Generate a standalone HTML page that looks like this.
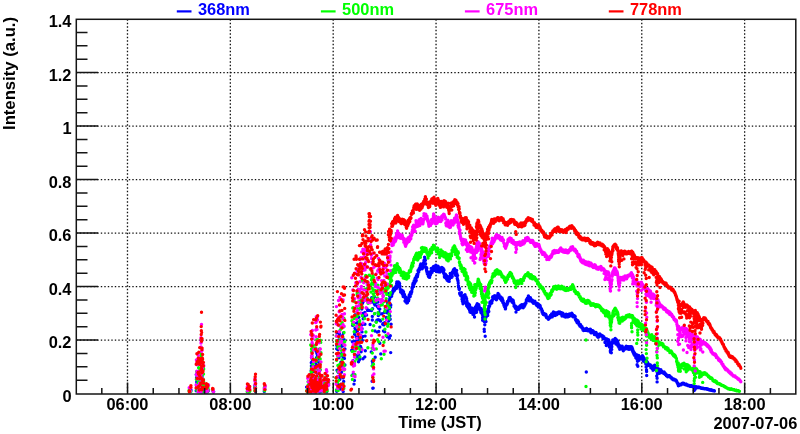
<!DOCTYPE html>
<html><head><meta charset="utf-8"><title>Intensity vs Time (JST) 2007-07-06</title>
<style>html,body{margin:0;padding:0;background:#fff}svg{display:block;will-change:transform}</style></head>
<body>
<svg width="800" height="434" viewBox="0 0 800 434">
<rect width="800" height="434" fill="#fff"/>
<path d="M127.48 19.30V393.50M230.34 19.30V393.50M333.19 19.30V393.50M436.05 19.30V393.50M538.91 19.30V393.50M641.76 19.30V393.50M744.62 19.30V393.50" stroke="#111" stroke-width="1.3" stroke-dasharray="1.4 2.1" fill="none"/>
<path d="M76.30 340.12H796.00M76.30 286.62H796.00M76.30 233.12H796.00M76.30 179.62H796.00M76.30 126.12H796.00M76.30 72.62H796.00" stroke="#111" stroke-width="1.3" stroke-dasharray="1.4 2.1" fill="none"/>
<path d="M391.6 296.3h.01M391.8 294.2h.01M392.0 292.7h.01M392.2 294.0h.01M392.4 293.0h.01M392.6 292.9h.01M392.8 290.8h.01M393.0 291.9h.01M393.2 291.2h.01M393.4 289.0h.01M393.6 290.6h.01M393.8 288.1h.01M394.0 288.4h.01M394.2 290.7h.01M394.4 290.3h.01M394.6 290.1h.01M394.8 288.0h.01M395.0 288.1h.01M395.2 287.7h.01M395.4 287.4h.01M395.6 287.2h.01M395.8 286.8h.01M396.0 286.0h.01M396.2 288.5h.01M396.4 288.4h.01M396.6 283.6h.01M396.8 281.9h.01M397.0 284.0h.01M397.2 286.4h.01M397.4 285.5h.01M397.6 287.0h.01M397.8 286.1h.01M398.0 286.4h.01M398.2 286.7h.01M398.4 282.0h.01M398.6 285.5h.01M398.8 285.3h.01M399.0 283.4h.01M399.2 282.7h.01M399.4 284.9h.01M399.6 283.6h.01M399.8 286.9h.01M400.0 286.3h.01M400.2 289.4h.01M400.4 289.6h.01M400.6 292.0h.01M400.8 290.7h.01M401.0 289.6h.01M401.2 290.9h.01M401.4 289.9h.01M401.6 291.0h.01M401.8 293.1h.01M402.0 290.6h.01M402.2 292.3h.01M402.4 294.0h.01M402.6 294.4h.01M402.8 293.2h.01M403.0 291.0h.01M403.2 296.5h.01M403.4 295.4h.01M403.6 292.1h.01M403.8 295.6h.01M404.0 294.6h.01M404.2 295.0h.01M404.4 294.5h.01M404.6 295.8h.01M404.8 296.5h.01M405.0 300.9h.01M405.2 298.1h.01M405.4 298.4h.01M405.6 300.5h.01M405.8 301.9h.01M406.0 297.2h.01M406.2 298.0h.01M406.4 301.0h.01M406.6 299.4h.01M406.8 303.0h.01M407.0 301.0h.01M407.2 301.6h.01M407.4 302.7h.01M407.6 300.0h.01M407.8 298.4h.01M408.0 299.4h.01M408.2 301.0h.01M408.4 300.2h.01M408.6 300.8h.01M408.8 299.5h.01M409.0 297.6h.01M409.2 295.4h.01M409.4 294.6h.01M409.6 295.0h.01M409.8 296.3h.01M410.0 296.8h.01M410.2 296.5h.01M410.4 292.7h.01M410.6 292.2h.01M410.8 293.3h.01M411.0 293.9h.01M411.2 292.3h.01M411.4 291.7h.01M411.6 292.2h.01M411.8 291.0h.01M412.0 287.9h.01M412.2 288.8h.01M412.4 287.8h.01M412.6 286.4h.01M412.8 284.8h.01M413.0 283.4h.01M413.2 286.2h.01M413.4 285.4h.01M413.6 286.5h.01M413.8 284.5h.01M414.0 281.7h.01M414.2 280.6h.01M414.4 282.2h.01M414.6 283.3h.01M414.8 281.0h.01M415.0 278.7h.01M415.2 278.3h.01M415.4 280.2h.01M415.6 277.6h.01M415.8 281.2h.01M416.0 278.8h.01M416.2 280.6h.01M416.4 276.1h.01M416.6 277.1h.01M416.8 276.1h.01M417.0 274.5h.01M417.2 276.1h.01M417.4 276.8h.01M417.6 275.4h.01M417.8 274.4h.01M418.0 270.4h.01M418.2 271.6h.01M418.4 272.4h.01M418.6 272.0h.01M418.8 271.8h.01M419.0 269.0h.01M419.2 268.6h.01M419.4 269.1h.01M419.6 267.9h.01M419.8 269.6h.01M420.0 269.3h.01M420.2 265.9h.01M420.4 268.1h.01M420.6 264.6h.01M420.8 263.9h.01M421.0 264.2h.01M421.2 266.5h.01M421.4 267.6h.01M421.6 267.4h.01M421.8 266.2h.01M422.0 268.3h.01M422.2 268.8h.01M422.4 267.5h.01M422.6 267.2h.01M422.8 266.0h.01M423.0 265.8h.01M423.2 267.2h.01M423.4 264.4h.01M423.6 262.6h.01M423.8 263.1h.01M424.0 260.4h.01M424.2 263.1h.01M424.4 259.7h.01M424.6 257.1h.01M424.8 259.0h.01M425.0 259.1h.01M425.2 260.6h.01M425.4 260.2h.01M425.6 263.8h.01M425.8 267.0h.01M426.0 267.7h.01M426.2 267.1h.01M426.4 269.5h.01M426.6 270.8h.01M426.8 268.3h.01M427.0 272.4h.01M427.2 271.7h.01M427.4 274.0h.01M427.6 272.8h.01M427.8 272.2h.01M428.0 272.0h.01M428.2 273.4h.01M428.4 276.4h.01M428.6 275.0h.01M428.8 275.9h.01M429.0 274.8h.01M429.2 277.2h.01M429.4 275.9h.01M429.6 277.4h.01M429.8 273.8h.01M430.0 275.1h.01M430.2 275.3h.01M430.4 272.9h.01M430.6 274.5h.01M430.8 271.5h.01M431.0 272.5h.01M431.2 268.4h.01M431.4 268.8h.01M431.6 270.5h.01M431.8 269.8h.01M432.0 272.4h.01M432.2 271.1h.01M432.4 269.0h.01M432.6 269.3h.01M432.8 268.1h.01M433.0 270.7h.01M433.2 267.1h.01M433.4 270.5h.01M433.6 266.5h.01M433.8 268.5h.01M434.0 267.9h.01M434.2 269.5h.01M434.4 267.9h.01M434.6 269.5h.01M434.8 269.3h.01M435.0 269.2h.01M435.2 270.2h.01M435.4 269.1h.01M435.6 267.6h.01M435.8 265.3h.01M436.0 268.1h.01M436.2 268.1h.01M436.4 271.6h.01M436.6 271.2h.01M436.8 268.9h.01M437.0 268.7h.01M437.2 268.2h.01M437.4 268.8h.01M437.6 268.0h.01M437.8 268.3h.01M438.0 266.1h.01M438.2 267.4h.01M438.4 269.8h.01M438.6 271.9h.01M438.8 270.4h.01M439.0 267.4h.01M439.2 270.7h.01M439.4 269.7h.01M439.6 270.8h.01M439.8 269.0h.01M440.0 272.1h.01M440.2 270.3h.01M440.4 271.5h.01M440.6 269.4h.01M440.8 271.0h.01M441.0 270.3h.01M441.2 268.2h.01M441.4 268.7h.01M441.6 270.0h.01M441.8 267.5h.01M442.0 270.4h.01M442.2 270.9h.01M442.4 270.0h.01M442.6 269.4h.01M442.8 271.2h.01M443.0 268.2h.01M443.2 270.3h.01M443.4 271.9h.01M443.6 273.1h.01M443.8 269.5h.01M444.0 270.1h.01M444.2 274.5h.01M444.4 276.8h.01M444.6 274.0h.01M444.8 277.4h.01M445.0 275.4h.01M445.2 274.7h.01M445.4 274.2h.01M445.6 276.2h.01M445.8 275.8h.01M446.0 276.0h.01M446.2 278.6h.01M446.4 278.8h.01M446.6 275.8h.01M446.8 279.4h.01M447.0 276.9h.01M447.2 280.3h.01M447.4 278.7h.01M447.6 277.5h.01M447.8 276.7h.01M448.0 277.9h.01M448.2 281.0h.01M448.4 279.3h.01M448.6 278.1h.01M448.8 281.3h.01M449.0 281.2h.01M449.2 281.4h.01M449.4 277.8h.01M449.6 278.7h.01M449.8 277.2h.01M450.0 276.3h.01M450.2 273.4h.01M450.4 275.8h.01M450.6 274.8h.01M450.8 276.9h.01M451.0 275.5h.01M451.2 276.0h.01M451.4 274.3h.01M451.6 273.7h.01M451.8 277.2h.01M452.0 276.2h.01M452.2 276.4h.01M452.4 272.1h.01M452.6 271.8h.01M452.8 272.0h.01M453.0 272.4h.01M453.2 272.3h.01M453.4 270.0h.01M453.6 269.6h.01M453.8 269.5h.01M454.0 273.2h.01M454.2 269.9h.01M454.4 271.5h.01M454.6 268.7h.01M454.8 269.5h.01M455.0 270.6h.01M455.2 274.6h.01M455.4 269.9h.01M455.6 275.3h.01M455.8 273.4h.01M456.0 272.6h.01M456.2 274.6h.01M456.4 275.5h.01M456.6 270.5h.01M456.8 273.4h.01M457.0 275.6h.01M457.2 278.2h.01M457.4 279.0h.01M457.6 275.4h.01M457.8 280.2h.01M458.0 281.0h.01M458.2 283.1h.01M458.4 285.7h.01M458.6 287.2h.01M458.8 287.6h.01M459.0 289.0h.01M459.2 289.6h.01M459.4 288.4h.01M459.6 293.1h.01M459.8 293.9h.01M460.0 293.0h.01M460.2 293.3h.01M460.4 295.2h.01M460.6 294.8h.01M460.8 295.4h.01M461.0 295.5h.01M461.2 294.9h.01M461.4 292.8h.01M461.6 296.2h.01M461.8 296.3h.01M462.0 299.2h.01M462.2 297.1h.01M462.4 301.4h.01M462.6 298.5h.01M462.8 299.0h.01M463.0 303.7h.01M463.2 299.4h.01M463.4 300.0h.01M463.6 297.1h.01M463.8 295.9h.01M464.0 295.4h.01M464.2 298.0h.01M464.4 302.5h.01M464.6 302.4h.01M464.8 301.7h.01M465.0 294.7h.01M465.2 297.6h.01M465.4 296.8h.01M465.6 297.4h.01M465.8 296.7h.01M466.0 297.1h.01M466.2 298.0h.01M466.4 301.8h.01M466.6 298.8h.01M466.8 300.7h.01M467.0 301.2h.01M467.2 302.6h.01M467.4 305.7h.01M467.6 306.3h.01M467.8 303.8h.01M468.0 305.5h.01M468.2 303.8h.01M468.4 308.3h.01M468.6 305.9h.01M468.8 306.5h.01M469.0 304.2h.01M469.2 306.2h.01M469.4 308.2h.01M469.6 305.3h.01M469.8 309.8h.01M470.0 311.9h.01M470.2 307.2h.01M470.4 311.2h.01M470.6 312.4h.01M470.8 309.5h.01M471.0 310.2h.01M471.2 312.0h.01M471.4 311.3h.01M471.6 311.5h.01M471.8 308.6h.01M472.0 310.1h.01M472.2 308.3h.01M472.4 309.5h.01M472.6 310.4h.01M472.8 311.7h.01M473.0 314.4h.01M473.2 311.6h.01M473.4 311.0h.01M473.6 313.6h.01M473.8 312.6h.01M474.0 313.4h.01M474.2 313.3h.01M474.4 313.0h.01M474.6 309.1h.01M474.8 310.9h.01M475.0 308.9h.01M475.2 308.0h.01M475.4 306.9h.01M475.6 309.1h.01M475.8 309.4h.01M476.0 307.1h.01M476.2 307.6h.01M476.4 310.5h.01M476.6 305.2h.01M476.8 305.9h.01M477.0 306.3h.01M477.2 303.8h.01M477.4 304.0h.01M477.6 307.8h.01M477.8 305.0h.01M478.0 304.8h.01M478.2 306.1h.01M478.4 306.0h.01M478.6 306.1h.01M478.8 304.7h.01M479.0 306.0h.01M479.2 307.7h.01M479.4 307.4h.01M479.6 309.5h.01M479.8 308.0h.01M480.0 310.2h.01M480.2 309.8h.01M480.4 309.5h.01M480.6 310.3h.01M480.8 308.7h.01M481.0 310.4h.01M481.2 308.8h.01M481.4 312.2h.01M481.6 310.1h.01M481.8 312.1h.01M482.0 313.6h.01M482.2 311.9h.01M482.4 311.7h.01M482.6 314.9h.01M482.8 312.3h.01M483.0 315.6h.01M483.2 312.8h.01M483.4 315.6h.01M483.6 313.5h.01M483.8 315.5h.01M484.0 314.5h.01M484.2 315.7h.01M484.4 315.8h.01M484.6 317.1h.01M484.8 315.6h.01M485.0 314.7h.01M485.2 315.8h.01M485.4 313.3h.01M485.6 316.4h.01M485.8 314.7h.01M486.0 315.0h.01M486.2 312.3h.01M486.4 312.9h.01M486.6 311.0h.01M486.8 311.8h.01M487.0 311.8h.01M487.2 312.8h.01M487.4 313.2h.01M487.6 313.1h.01M487.8 310.3h.01M488.0 311.6h.01M488.2 310.4h.01M488.4 308.8h.01M488.6 308.2h.01M488.8 306.1h.01M489.0 306.2h.01M489.2 306.9h.01M489.4 305.7h.01M489.6 305.9h.01M489.8 302.9h.01M490.0 301.9h.01M490.2 302.7h.01M490.4 303.5h.01M490.6 302.2h.01M490.8 303.8h.01M491.0 303.4h.01M491.2 302.0h.01M491.4 301.4h.01M491.6 303.0h.01M491.8 303.0h.01M492.0 300.1h.01M492.2 300.8h.01M492.4 299.7h.01M492.6 297.1h.01M492.8 296.6h.01M493.0 297.2h.01M493.2 298.6h.01M493.4 296.5h.01M493.6 297.0h.01M493.8 298.0h.01M494.0 296.6h.01M494.2 296.4h.01M494.4 296.3h.01M494.6 298.6h.01M494.8 295.6h.01M495.0 296.5h.01M495.2 296.2h.01M495.4 296.0h.01M495.6 297.2h.01M495.8 297.2h.01M496.0 298.1h.01M496.2 298.3h.01M496.4 299.7h.01M496.6 297.8h.01M496.8 296.3h.01M497.0 296.2h.01M497.2 298.0h.01M497.4 296.2h.01M497.6 295.9h.01M497.8 294.7h.01M498.0 293.4h.01M498.2 294.1h.01M498.4 294.8h.01M498.6 295.9h.01M498.8 295.7h.01M499.0 294.7h.01M499.2 295.9h.01M499.4 296.7h.01M499.6 297.6h.01M499.8 297.7h.01M500.0 297.0h.01M500.2 298.7h.01M500.4 296.7h.01M500.6 298.7h.01M500.8 299.0h.01M501.0 297.9h.01M501.2 299.8h.01M501.4 299.3h.01M501.6 300.5h.01M501.8 299.5h.01M502.0 297.9h.01M502.2 300.7h.01M502.4 299.1h.01M502.6 301.3h.01M502.8 302.6h.01M503.0 300.6h.01M503.2 302.3h.01M503.4 303.4h.01M503.6 303.1h.01M503.8 303.4h.01M504.0 305.4h.01M504.2 305.8h.01M504.4 306.5h.01M504.6 306.3h.01M504.8 306.3h.01M505.0 306.5h.01M505.2 307.7h.01M505.4 308.9h.01M505.6 307.9h.01M505.8 305.1h.01M506.0 305.5h.01M506.2 304.4h.01M506.4 305.2h.01M506.6 304.0h.01M506.8 303.9h.01M507.0 303.4h.01M507.2 304.3h.01M507.4 301.4h.01M507.6 301.5h.01M507.8 302.5h.01M508.0 301.1h.01M508.2 301.5h.01M508.4 300.5h.01M508.6 300.6h.01M508.8 299.6h.01M509.0 298.6h.01M509.2 297.7h.01M509.4 300.3h.01M509.6 298.2h.01M509.8 300.1h.01M510.0 297.4h.01M510.2 297.6h.01M510.4 298.9h.01M510.6 298.5h.01M510.8 298.7h.01M511.0 300.6h.01M511.2 299.5h.01M511.4 300.5h.01M511.6 300.3h.01M511.8 300.0h.01M512.0 302.0h.01M512.2 302.3h.01M512.4 301.3h.01M512.6 299.9h.01M512.8 301.7h.01M513.0 300.9h.01M513.2 300.5h.01M513.4 302.1h.01M513.6 302.5h.01M513.8 303.7h.01M514.0 305.9h.01M514.2 305.3h.01M514.4 305.7h.01M514.6 306.8h.01M514.8 305.7h.01M515.0 305.9h.01M515.2 307.7h.01M515.4 306.0h.01M515.6 308.1h.01M515.8 308.7h.01M516.0 308.3h.01M516.2 309.0h.01M516.4 308.0h.01M516.6 309.2h.01M516.8 307.9h.01M517.0 307.8h.01M517.2 307.5h.01M517.4 308.8h.01M517.6 309.0h.01M517.8 309.3h.01M518.0 308.4h.01M518.2 308.1h.01M518.4 309.4h.01M518.6 307.0h.01M518.8 309.1h.01M519.0 308.5h.01M519.2 306.8h.01M519.4 308.2h.01M519.6 307.8h.01M519.8 307.4h.01M520.0 305.9h.01M520.2 308.1h.01M520.4 305.9h.01M520.6 305.8h.01M520.8 305.3h.01M521.0 305.4h.01M521.2 305.3h.01M521.4 305.5h.01M521.6 304.9h.01M521.8 304.8h.01M522.0 305.7h.01M522.2 304.8h.01M522.4 306.3h.01M522.6 305.9h.01M522.8 305.5h.01M523.0 306.8h.01M523.2 307.8h.01M523.4 306.8h.01M523.6 305.7h.01M523.8 305.6h.01M524.0 305.7h.01M524.2 306.4h.01M524.4 305.5h.01M524.6 304.0h.01M524.8 304.0h.01M525.0 305.0h.01M525.2 304.2h.01M525.4 304.1h.01M525.6 303.2h.01M525.8 303.4h.01M526.0 303.0h.01M526.2 301.3h.01M526.4 299.6h.01M526.6 299.6h.01M526.8 300.2h.01M527.0 300.1h.01M527.2 298.8h.01M527.4 298.2h.01M527.6 298.0h.01M527.8 298.0h.01M528.0 298.2h.01M528.2 298.3h.01M528.4 295.9h.01M528.6 297.5h.01M528.8 299.2h.01M529.0 299.2h.01M529.2 300.0h.01M529.4 300.9h.01M529.6 300.2h.01M529.8 299.5h.01M530.0 297.6h.01M530.2 299.7h.01M530.4 297.7h.01M530.6 300.6h.01M530.8 298.9h.01M531.0 299.5h.01M531.2 300.3h.01M531.4 301.0h.01M531.6 299.7h.01M531.8 301.3h.01M532.0 300.9h.01M532.2 301.9h.01M532.4 300.1h.01M532.6 301.9h.01M532.8 301.6h.01M533.0 301.1h.01M533.2 301.0h.01M533.4 303.3h.01M533.6 303.1h.01M533.8 302.0h.01M534.0 303.0h.01M534.2 301.9h.01M534.4 302.4h.01M534.6 301.9h.01M534.8 301.1h.01M535.0 303.1h.01M535.2 302.2h.01M535.4 303.3h.01M535.6 303.1h.01M535.8 303.0h.01M536.0 303.5h.01M536.2 304.8h.01M536.4 304.2h.01M536.6 305.3h.01M536.8 303.5h.01M537.0 305.6h.01M537.2 303.6h.01M537.4 303.5h.01M537.6 304.3h.01M537.8 305.0h.01M538.0 306.0h.01M538.2 307.1h.01M538.4 305.9h.01M538.6 305.9h.01M538.8 305.0h.01M539.0 305.4h.01M539.2 304.9h.01M539.4 306.3h.01M539.6 305.2h.01M539.8 305.3h.01M540.0 306.4h.01M540.2 306.0h.01M540.4 307.2h.01M540.6 308.3h.01M540.8 308.5h.01M541.0 309.2h.01M541.2 308.6h.01M541.4 308.6h.01M541.6 309.5h.01M541.8 309.9h.01M542.0 311.3h.01M542.2 312.4h.01M542.4 311.0h.01M542.6 312.8h.01M542.8 313.8h.01M543.0 313.8h.01M543.2 312.9h.01M543.4 314.5h.01M543.6 313.2h.01M543.8 313.8h.01M544.0 314.3h.01M544.2 313.9h.01M544.4 314.9h.01M544.6 314.2h.01M544.8 314.5h.01M545.0 315.0h.01M545.2 314.2h.01M545.4 315.3h.01M545.6 314.2h.01M545.8 316.0h.01M546.0 314.8h.01M546.2 315.6h.01M546.4 317.4h.01M546.6 317.1h.01M546.8 317.7h.01M547.0 317.3h.01M547.2 317.8h.01M547.4 317.8h.01M547.6 318.3h.01M547.8 318.1h.01M548.0 317.7h.01M548.2 317.7h.01M548.4 319.3h.01M548.6 318.7h.01M548.8 318.8h.01M549.0 317.9h.01M549.2 317.8h.01M549.4 317.8h.01M549.6 316.7h.01M549.8 317.5h.01M550.0 317.8h.01M550.2 317.0h.01M550.4 315.5h.01M550.6 316.1h.01M550.8 317.1h.01M551.0 315.7h.01M551.2 315.8h.01M551.4 314.6h.01M551.6 313.9h.01M551.8 315.1h.01M552.0 314.4h.01M552.2 316.9h.01M552.4 316.3h.01M552.6 315.1h.01M552.8 314.3h.01M553.0 315.2h.01M553.2 314.6h.01M553.4 311.9h.01M553.6 312.3h.01M553.8 313.3h.01M554.0 312.9h.01M554.2 312.5h.01M554.4 315.1h.01M554.6 313.6h.01M554.8 313.4h.01M555.0 315.6h.01M555.2 314.3h.01M555.4 314.7h.01M555.6 313.0h.01M555.8 314.7h.01M556.0 313.8h.01M556.2 314.0h.01M556.4 314.4h.01M556.6 314.7h.01M556.8 312.8h.01M557.0 314.6h.01M557.2 313.0h.01M557.4 312.7h.01M557.6 313.8h.01M557.8 313.1h.01M558.0 312.2h.01M558.2 313.5h.01M558.4 313.1h.01M558.6 312.0h.01M558.8 312.3h.01M559.0 312.8h.01M559.2 312.2h.01M559.4 313.2h.01M559.6 313.0h.01M559.8 312.0h.01M560.0 313.1h.01M560.2 313.4h.01M560.4 312.7h.01M560.6 313.4h.01M560.8 314.1h.01M561.0 313.7h.01M561.2 313.6h.01M561.4 312.7h.01M561.6 314.1h.01M561.8 314.5h.01M562.0 316.1h.01M562.2 315.5h.01M562.4 315.8h.01M562.6 314.5h.01M562.8 313.2h.01M563.0 313.5h.01M563.2 314.4h.01M563.4 315.7h.01M563.6 314.4h.01M563.8 314.6h.01M564.0 315.3h.01M564.2 316.4h.01M564.4 316.4h.01M564.6 315.6h.01M564.8 314.9h.01M565.0 316.9h.01M565.2 316.5h.01M565.4 315.5h.01M565.6 317.1h.01M565.8 316.2h.01M566.0 315.8h.01M566.2 314.2h.01M566.4 314.6h.01M566.6 315.0h.01M566.8 315.0h.01M567.0 315.8h.01M567.2 315.2h.01M567.4 314.7h.01M567.6 315.5h.01M567.8 316.9h.01M568.0 316.1h.01M568.2 314.5h.01M568.4 315.4h.01M568.6 315.6h.01M568.8 314.2h.01M569.0 314.5h.01M569.2 316.4h.01M569.4 314.0h.01M569.6 315.4h.01M569.8 315.2h.01M570.0 315.0h.01M570.2 315.5h.01M570.4 314.5h.01M570.6 314.5h.01M570.8 313.8h.01M571.0 313.8h.01M571.2 313.6h.01M571.4 313.4h.01M571.6 314.5h.01M571.8 313.3h.01M572.0 314.5h.01M572.2 316.0h.01M572.4 314.8h.01M572.6 314.5h.01M572.8 316.5h.01M573.0 316.3h.01M573.2 316.9h.01M573.4 316.5h.01M573.6 315.9h.01M573.8 315.5h.01M574.0 315.8h.01M574.2 316.8h.01M574.4 315.6h.01M574.6 316.7h.01M574.8 316.9h.01M575.0 317.4h.01M575.2 316.5h.01M575.4 319.5h.01M575.6 320.0h.01M575.8 319.3h.01M576.0 319.5h.01M576.2 319.6h.01M576.4 320.3h.01M576.6 321.6h.01M576.8 322.0h.01M577.0 320.7h.01M577.2 322.7h.01M577.4 320.5h.01M577.6 321.2h.01M577.8 320.7h.01M578.0 321.6h.01M578.2 321.8h.01M578.4 322.7h.01M578.6 321.9h.01M578.8 323.7h.01M579.0 323.7h.01M579.2 324.9h.01M579.4 325.0h.01M579.6 325.3h.01M579.8 326.1h.01M580.0 325.5h.01M580.2 324.8h.01M580.4 326.2h.01M580.6 324.7h.01M580.8 326.7h.01M581.0 326.6h.01M581.2 326.9h.01M581.4 326.4h.01M581.6 326.5h.01M581.8 327.8h.01M582.0 326.8h.01M582.2 327.6h.01M582.4 328.0h.01M582.6 328.2h.01M582.8 329.4h.01M583.0 330.0h.01M583.2 328.7h.01M583.4 330.0h.01M583.6 330.5h.01M583.8 329.7h.01M584.0 329.9h.01M584.2 328.9h.01M584.4 329.4h.01M584.6 329.3h.01M584.8 329.1h.01M585.0 329.5h.01M585.2 329.4h.01M585.4 330.4h.01M585.6 330.1h.01M585.8 328.7h.01M586.0 329.2h.01M586.2 328.7h.01M586.4 328.5h.01M586.6 328.4h.01M586.8 329.2h.01M587.0 330.0h.01M587.2 330.3h.01M587.4 329.8h.01M587.6 330.8h.01M587.8 329.9h.01M588.0 330.3h.01M588.2 330.9h.01M588.4 329.8h.01M588.6 329.6h.01M588.8 329.9h.01M589.0 330.5h.01M589.2 329.4h.01M589.4 329.6h.01M589.6 330.5h.01M589.8 330.6h.01M590.0 330.7h.01M590.2 329.7h.01M590.4 329.3h.01M590.6 330.0h.01M590.8 332.5h.01M591.0 331.9h.01M591.2 332.9h.01M591.4 330.5h.01M591.6 331.6h.01M591.8 330.8h.01M592.0 331.3h.01M592.2 330.7h.01M592.4 332.2h.01M592.6 331.0h.01M592.8 330.8h.01M593.0 331.9h.01M593.2 332.0h.01M593.4 332.4h.01M593.6 331.7h.01M593.8 331.8h.01M594.0 332.1h.01M594.2 332.7h.01M594.4 334.5h.01M594.6 334.4h.01M594.8 333.0h.01M595.0 333.8h.01M595.2 333.1h.01M595.4 333.2h.01M595.6 332.8h.01M595.8 333.8h.01M596.0 332.5h.01M596.2 333.7h.01M596.4 334.5h.01M596.6 334.2h.01M596.8 333.6h.01M597.0 336.0h.01M597.2 336.3h.01M597.4 335.6h.01M597.6 336.0h.01M597.8 336.7h.01M598.0 337.3h.01M598.2 336.9h.01M598.4 336.3h.01M598.6 337.0h.01M598.8 336.9h.01M599.0 335.7h.01M599.2 336.1h.01M599.4 334.9h.01M599.6 336.0h.01M599.8 333.9h.01M600.0 335.3h.01M600.2 335.2h.01M600.4 334.9h.01M600.6 334.8h.01M600.8 335.3h.01M601.0 335.1h.01M601.2 335.9h.01M601.4 335.2h.01M601.6 335.6h.01M601.8 335.6h.01M602.0 336.1h.01M602.2 336.2h.01M602.4 335.8h.01M602.6 336.9h.01M602.8 337.7h.01M603.0 336.8h.01M603.2 338.7h.01M603.4 336.8h.01M603.6 336.6h.01M603.8 336.8h.01M604.0 338.6h.01M604.2 338.5h.01M604.4 338.2h.01M604.6 338.3h.01M604.8 338.2h.01M605.0 338.8h.01M605.2 339.1h.01M605.4 338.9h.01M605.6 338.8h.01M605.8 339.2h.01M606.0 340.0h.01M606.2 339.2h.01M606.4 340.3h.01M606.6 339.2h.01M606.8 339.0h.01M607.0 339.3h.01M607.2 339.8h.01M607.4 339.1h.01M607.6 341.1h.01M607.8 341.1h.01M608.0 340.2h.01M608.2 340.3h.01M608.4 339.8h.01M608.6 340.0h.01M608.8 340.3h.01M609.0 341.6h.01M609.2 341.6h.01M609.4 343.3h.01M609.6 342.9h.01M609.8 344.9h.01M610.0 347.1h.01M610.2 346.8h.01M610.4 347.6h.01M610.6 349.4h.01M610.8 350.3h.01M611.0 350.0h.01M611.2 349.6h.01M611.4 347.3h.01M611.6 347.0h.01M611.8 346.7h.01M612.0 344.1h.01M612.2 342.9h.01M612.4 343.2h.01M612.6 341.5h.01M612.8 339.9h.01M613.0 341.4h.01M613.2 340.2h.01M613.4 339.9h.01M613.6 341.0h.01M613.8 341.9h.01M614.0 339.8h.01M614.2 339.6h.01M614.4 340.7h.01M614.6 341.2h.01M614.8 340.6h.01M615.0 340.7h.01M615.2 338.5h.01M615.4 339.2h.01M615.6 339.3h.01M615.8 340.3h.01M616.0 339.4h.01M616.2 339.5h.01M616.4 341.1h.01M616.6 340.2h.01M616.8 340.8h.01M617.0 340.8h.01M617.2 340.5h.01M617.4 342.2h.01M617.6 341.3h.01M617.8 342.3h.01M618.0 343.6h.01M618.2 343.7h.01M618.4 344.2h.01M618.6 345.6h.01M618.8 346.5h.01M619.0 347.4h.01M619.2 347.1h.01M619.4 347.5h.01M619.6 345.7h.01M619.8 347.9h.01M620.0 346.7h.01M620.2 346.2h.01M620.4 347.4h.01M620.6 346.6h.01M620.8 346.4h.01M621.0 346.1h.01M621.2 346.9h.01M621.4 346.8h.01M621.6 346.5h.01M621.8 347.8h.01M622.0 347.0h.01M622.2 346.3h.01M622.4 347.2h.01M622.6 348.6h.01M622.8 348.4h.01M623.0 348.7h.01M623.2 348.4h.01M623.4 348.2h.01M623.6 348.4h.01M623.8 348.6h.01M624.0 349.5h.01M624.2 349.4h.01M624.4 348.0h.01M624.6 349.2h.01M624.8 348.7h.01M625.0 349.0h.01M625.2 349.1h.01M625.4 347.8h.01M625.6 347.2h.01M625.8 348.4h.01M626.0 346.8h.01M626.2 346.1h.01M626.4 346.9h.01M626.6 347.3h.01M626.8 348.2h.01M627.0 347.5h.01M627.2 348.8h.01M627.4 347.4h.01M627.6 347.0h.01M627.8 346.8h.01M628.0 347.7h.01M628.2 346.6h.01M628.4 347.1h.01M628.6 347.0h.01M628.8 347.6h.01M629.0 349.4h.01M629.2 349.0h.01M629.4 348.2h.01M629.6 348.0h.01M629.8 346.8h.01M630.0 348.8h.01M630.2 348.2h.01M630.4 347.9h.01M630.6 346.7h.01M630.8 347.3h.01M631.0 347.6h.01M631.2 348.1h.01M631.4 346.7h.01M631.6 347.0h.01M631.8 347.1h.01M632.0 348.2h.01M632.2 347.9h.01M632.4 349.0h.01M632.6 349.1h.01M632.8 350.3h.01M633.0 350.8h.01M633.2 350.9h.01M633.4 351.4h.01M633.6 351.9h.01M633.8 353.0h.01M634.0 352.7h.01M634.2 354.2h.01M634.4 352.7h.01M634.6 353.6h.01M634.8 353.8h.01M635.0 354.0h.01M635.2 353.9h.01M635.4 354.2h.01M635.6 354.9h.01M635.8 355.9h.01M636.0 355.1h.01M636.2 355.4h.01M636.4 354.6h.01M636.6 354.7h.01M636.8 355.6h.01M637.0 356.6h.01M637.2 356.0h.01M637.4 356.6h.01M637.6 356.4h.01M637.8 355.5h.01M638.0 357.1h.01M638.2 357.3h.01M638.4 355.9h.01M638.6 355.4h.01M638.8 357.4h.01M639.0 356.6h.01M639.2 357.7h.01M639.4 358.0h.01M639.6 357.9h.01M639.8 357.8h.01M640.0 358.0h.01M640.2 357.2h.01M640.4 357.3h.01M640.6 358.2h.01M640.8 357.8h.01M641.0 357.9h.01M641.2 358.5h.01M641.4 358.2h.01M641.6 356.4h.01M641.8 356.8h.01M642.0 357.5h.01M642.2 356.7h.01M642.4 355.7h.01M642.6 356.3h.01M642.8 357.5h.01M643.0 356.6h.01M643.2 358.7h.01M643.4 357.5h.01M643.6 357.8h.01M643.8 358.6h.01M644.0 359.0h.01M644.2 359.9h.01M644.4 359.4h.01M644.6 359.7h.01M644.8 359.1h.01M645.0 358.9h.01M645.2 360.5h.01M645.4 361.0h.01M645.6 362.1h.01M645.8 360.8h.01M646.0 361.2h.01M646.2 361.1h.01M646.4 361.8h.01M646.6 361.8h.01M646.8 361.5h.01M647.0 362.3h.01M647.2 362.5h.01M647.4 362.3h.01M647.6 363.0h.01M647.8 363.8h.01M648.0 363.4h.01M648.2 363.6h.01M648.4 364.7h.01M648.6 364.5h.01M648.8 364.6h.01M649.0 364.6h.01M649.2 365.3h.01M649.4 365.4h.01M649.6 364.7h.01M649.8 365.7h.01M650.0 365.6h.01M650.2 364.9h.01M650.4 364.9h.01M650.6 365.6h.01M650.8 366.1h.01M651.0 365.5h.01M651.2 365.7h.01M651.4 365.9h.01M651.6 367.0h.01M651.8 366.1h.01M652.0 366.3h.01M652.2 366.4h.01M652.4 366.5h.01M652.6 366.8h.01M652.8 367.7h.01M653.0 366.8h.01M653.2 367.7h.01M653.4 367.2h.01M653.6 366.8h.01M653.8 368.1h.01M654.0 366.7h.01M654.2 366.5h.01M654.4 367.1h.01M654.6 365.2h.01M654.8 366.1h.01M655.0 366.7h.01M655.2 367.4h.01M655.4 367.5h.01M655.6 368.7h.01M655.8 368.8h.01M656.0 368.2h.01M656.2 369.4h.01M656.4 368.9h.01M656.6 369.8h.01M656.8 370.1h.01M657.0 369.8h.01M657.2 370.2h.01M657.4 368.3h.01M657.6 369.0h.01M657.8 369.9h.01M658.0 369.1h.01M658.2 370.0h.01M658.4 369.5h.01M658.6 368.9h.01M658.8 370.3h.01M659.0 369.8h.01M659.2 369.8h.01M659.4 371.0h.01M659.6 370.1h.01M659.8 370.4h.01M660.0 370.1h.01M660.2 370.3h.01M660.4 370.9h.01M660.6 370.6h.01M660.8 369.8h.01M661.0 370.4h.01M661.2 370.6h.01M661.4 370.9h.01M661.6 371.1h.01M661.8 372.2h.01M662.0 371.9h.01M662.2 372.3h.01M662.4 372.7h.01M662.6 372.3h.01M662.8 372.5h.01M663.0 372.9h.01M663.2 372.8h.01M663.4 373.3h.01M663.6 373.2h.01M663.8 372.5h.01M664.0 372.0h.01M664.2 372.4h.01M664.4 372.4h.01M664.6 373.3h.01M664.8 373.4h.01M665.0 373.5h.01M665.2 374.5h.01M665.4 374.6h.01M665.6 374.1h.01M665.8 373.9h.01M666.0 374.7h.01M666.2 374.9h.01M666.4 375.7h.01M666.6 375.3h.01M666.8 375.5h.01M667.0 376.1h.01M667.2 375.3h.01M667.4 376.3h.01M667.6 376.7h.01M667.8 376.2h.01M668.0 376.1h.01M668.2 376.4h.01M668.4 376.5h.01M668.6 376.2h.01M668.8 376.4h.01M669.0 375.7h.01M669.2 376.3h.01M669.4 375.6h.01M669.6 376.0h.01M669.8 375.9h.01M670.0 376.8h.01M670.2 376.9h.01M670.4 377.0h.01M670.6 377.5h.01M670.8 377.5h.01M671.0 377.1h.01M671.2 377.3h.01M671.4 378.1h.01M671.6 378.1h.01M671.8 378.2h.01M672.0 378.9h.01M672.2 378.7h.01M672.4 379.0h.01M672.6 379.2h.01M672.8 378.8h.01M673.0 379.0h.01M673.2 379.7h.01M673.4 379.4h.01M673.6 379.4h.01M673.8 379.6h.01M674.0 379.6h.01M674.2 379.3h.01M674.4 379.8h.01M674.6 379.5h.01M674.8 379.8h.01M675.0 379.8h.01M675.2 379.8h.01M675.4 379.8h.01M675.6 380.6h.01M675.8 380.4h.01M676.0 380.9h.01M676.2 380.5h.01M676.4 380.6h.01M676.6 381.3h.01M676.8 382.0h.01M677.0 382.0h.01M677.2 382.7h.01M677.4 383.3h.01M677.6 383.7h.01M677.8 383.8h.01M678.0 384.6h.01M678.2 384.8h.01M678.4 385.2h.01M678.6 385.6h.01M678.8 385.2h.01M679.0 385.6h.01M679.2 384.8h.01M679.4 385.2h.01M679.6 385.0h.01M679.8 384.9h.01M680.0 384.6h.01M680.2 384.8h.01M680.4 384.9h.01M680.6 384.8h.01M680.8 384.2h.01M681.0 384.7h.01M681.2 384.8h.01M681.4 384.3h.01M681.6 384.3h.01M681.8 384.1h.01M682.0 383.5h.01M682.2 383.8h.01M682.4 383.5h.01M682.6 383.5h.01M682.8 383.1h.01M683.0 383.7h.01M683.2 383.8h.01M683.4 383.9h.01M683.6 383.3h.01M683.8 384.0h.01M684.0 383.8h.01M684.2 384.3h.01M684.4 384.3h.01M684.6 384.0h.01M684.8 384.2h.01M685.0 384.6h.01M685.2 384.3h.01M685.4 384.7h.01M685.6 384.5h.01M685.8 384.3h.01M686.0 384.1h.01M686.2 384.8h.01M686.4 384.2h.01M686.6 384.8h.01M686.8 384.7h.01M687.0 385.1h.01M687.2 385.1h.01M687.4 384.9h.01M687.6 385.5h.01M687.8 385.2h.01M688.0 385.6h.01M688.2 385.6h.01M688.4 385.4h.01M688.6 385.3h.01M688.8 385.6h.01M689.0 385.7h.01M689.2 385.9h.01M689.4 385.9h.01M689.6 386.0h.01M689.8 386.2h.01M690.0 386.0h.01M690.2 385.9h.01M690.4 385.7h.01M690.6 385.9h.01M690.8 386.3h.01M691.0 385.8h.01M691.2 385.8h.01M691.4 385.9h.01M691.6 385.7h.01M691.8 385.9h.01M692.0 386.5h.01M692.2 386.0h.01M692.4 386.3h.01M692.6 386.2h.01M692.8 386.0h.01M693.0 386.6h.01M693.2 386.7h.01M693.4 386.8h.01M693.6 386.7h.01M693.8 386.8h.01M694.0 386.9h.01M694.2 386.8h.01M694.4 386.8h.01M694.6 386.7h.01M694.8 386.6h.01M695.0 387.2h.01M695.2 386.8h.01M695.4 386.9h.01M695.6 387.2h.01M695.8 387.1h.01M696.0 387.1h.01M696.2 386.8h.01M696.4 387.1h.01M696.6 387.4h.01M696.8 387.7h.01M697.0 387.1h.01M697.2 387.3h.01M697.4 387.2h.01M697.6 387.3h.01M697.8 387.5h.01M698.0 387.6h.01M698.2 387.3h.01M698.4 387.3h.01M698.6 387.6h.01M698.8 387.5h.01M699.0 387.3h.01M699.2 387.5h.01M699.4 387.4h.01M699.6 387.4h.01M699.8 387.4h.01M700.0 387.6h.01M700.2 387.8h.01M700.4 387.9h.01M700.6 387.8h.01M700.8 388.1h.01M701.0 388.2h.01M701.2 388.2h.01M701.4 388.3h.01M701.6 388.3h.01M701.8 388.3h.01M702.0 388.3h.01M702.2 388.4h.01M702.4 388.3h.01M702.6 388.4h.01M702.8 388.6h.01M703.0 388.5h.01M703.2 388.3h.01M703.4 388.4h.01M703.6 388.6h.01M703.8 388.5h.01M704.0 388.6h.01M704.2 388.7h.01M704.4 388.7h.01M704.6 388.7h.01M704.8 388.6h.01M705.0 388.6h.01M705.2 388.7h.01M705.4 388.8h.01M705.6 388.8h.01M705.8 388.8h.01M706.0 388.7h.01M706.2 388.8h.01M706.4 388.8h.01M706.6 389.0h.01M706.8 389.0h.01M707.0 389.2h.01M707.2 389.0h.01M707.4 389.2h.01M707.6 389.3h.01M707.8 389.3h.01M708.0 389.2h.01M708.2 389.3h.01M708.4 389.6h.01M708.6 389.6h.01M708.8 389.8h.01M709.0 389.8h.01M709.2 389.6h.01M709.4 389.7h.01M709.6 390.0h.01M709.8 389.7h.01M710.0 389.9h.01M710.2 389.9h.01M710.4 389.9h.01M710.6 389.9h.01M710.8 390.2h.01M711.0 390.1h.01M711.2 390.2h.01M711.4 390.2h.01M711.6 390.2h.01M711.8 390.3h.01M712.0 390.4h.01M712.2 390.5h.01M712.4 390.3h.01M712.6 390.6h.01M712.8 390.6h.01M713.0 390.5h.01M713.2 390.7h.01M713.4 390.6h.01M713.6 390.9h.01M713.8 390.9h.01M714.0 390.8h.01M714.2 390.7h.01M714.4 391.0h.01M198.8 380.5h.01M200.1 391.0h.01M202.8 379.8h.01M197.1 376.2h.01M203.1 388.4h.01M201.9 391.2h.01M199.2 377.6h.01M196.7 381.9h.01M202.1 375.9h.01M199.5 375.9h.01M197.7 384.7h.01M201.2 391.8h.01M198.6 378.7h.01M196.5 378.0h.01M196.3 374.6h.01M196.9 384.4h.01M199.7 391.2h.01M199.9 376.0h.01M197.2 387.4h.01M203.8 388.2h.01M197.9 380.9h.01M199.5 382.4h.01M198.3 377.3h.01M196.2 390.7h.01M203.8 391.7h.01M201.5 378.2h.01M196.9 374.6h.01M198.7 389.2h.01M200.2 378.7h.01M199.9 384.4h.01M197.6 382.7h.01M203.4 382.6h.01M200.3 388.2h.01M201.9 391.5h.01M199.8 385.8h.01M199.4 390.6h.01M200.5 388.6h.01M202.0 388.6h.01M202.4 385.2h.01M201.3 391.3h.01M200.2 390.4h.01M199.0 381.2h.01M202.2 386.6h.01M202.8 387.2h.01M198.9 380.6h.01M202.4 382.4h.01M198.4 386.3h.01M201.4 386.9h.01M197.8 389.9h.01M201.2 383.4h.01M202.6 385.8h.01M201.7 380.1h.01M199.2 389.5h.01M201.3 388.7h.01M201.2 373.5h.01M201.4 370.5h.01M201.4 372.3h.01M201.3 370.1h.01M201.2 368.6h.01M201.0 367.9h.01M201.2 371.6h.01M190.4 390.2h.01M190.1 391.3h.01M190.5 390.2h.01M191.0 390.1h.01M190.5 391.4h.01M206.3 391.9h.01M207.1 391.3h.01M207.3 391.9h.01M207.7 391.6h.01M206.3 391.7h.01M206.4 391.4h.01M208.1 391.0h.01M205.6 389.2h.01M213.6 391.8h.01M213.4 391.7h.01M213.4 391.6h.01M249.0 391.9h.01M249.4 391.1h.01M249.2 391.4h.01M247.9 391.2h.01M249.4 390.0h.01M248.0 389.1h.01M248.7 389.5h.01M255.5 391.5h.01M255.4 384.1h.01M255.1 387.2h.01M255.3 389.0h.01M255.0 385.8h.01M254.9 387.4h.01M255.0 385.9h.01M264.8 389.1h.01M264.4 390.7h.01M264.6 388.4h.01M264.3 391.4h.01M307.6 387.0h.01M309.6 382.9h.01M308.7 389.7h.01M321.1 385.9h.01M324.6 382.8h.01M316.0 391.9h.01M309.9 387.5h.01M314.5 383.2h.01M325.4 390.5h.01M319.7 386.7h.01M319.1 387.6h.01M319.3 385.7h.01M324.9 387.7h.01M311.9 388.5h.01M324.0 387.5h.01M313.9 388.1h.01M322.1 384.2h.01M326.5 386.5h.01M316.0 387.8h.01M323.6 384.1h.01M310.7 387.5h.01M307.0 387.0h.01M309.5 384.6h.01M314.8 391.6h.01M320.3 385.3h.01M320.9 387.6h.01M306.6 387.1h.01M322.3 390.7h.01M328.2 382.4h.01M318.1 386.3h.01M316.6 390.8h.01M316.4 388.0h.01M323.6 391.3h.01M319.7 387.8h.01M308.9 386.4h.01M310.9 390.4h.01M321.6 383.8h.01M319.6 391.4h.01M325.6 386.2h.01M314.8 387.9h.01M316.0 391.3h.01M326.6 391.9h.01M313.8 391.4h.01M310.9 389.8h.01M318.5 390.9h.01M317.7 386.8h.01M320.8 386.5h.01M319.5 389.9h.01M316.7 387.7h.01M319.0 391.1h.01M311.5 391.7h.01M320.0 387.7h.01M313.2 387.6h.01M308.5 387.3h.01M310.1 389.6h.01M314.8 386.9h.01M320.8 390.3h.01M315.3 388.0h.01M313.8 391.7h.01M315.0 391.7h.01M319.9 386.6h.01M317.9 387.0h.01M311.8 386.9h.01M320.3 391.9h.01M313.1 382.5h.01M311.4 366.0h.01M311.9 356.0h.01M311.9 358.3h.01M312.7 366.7h.01M311.6 362.3h.01M311.3 362.8h.01M313.4 371.4h.01M312.3 366.2h.01M313.6 377.0h.01M311.1 380.3h.01M310.5 391.4h.01M311.2 370.5h.01M313.5 383.9h.01M313.1 376.3h.01M311.2 379.2h.01M312.4 359.6h.01M310.7 374.3h.01M313.5 366.5h.01M317.8 373.5h.01M317.5 355.2h.01M316.4 349.2h.01M316.5 391.4h.01M316.5 357.6h.01M315.9 362.9h.01M316.1 365.8h.01M316.8 361.7h.01M316.8 362.1h.01M316.6 365.6h.01M317.4 386.8h.01M316.8 379.5h.01M316.1 351.2h.01M316.2 350.3h.01M317.2 388.0h.01M316.9 353.4h.01M315.7 380.2h.01M316.8 350.5h.01M318.9 365.1h.01M318.9 386.3h.01M319.7 376.3h.01M318.7 369.4h.01M319.5 380.4h.01M319.2 391.7h.01M319.8 370.6h.01M319.4 353.4h.01M318.7 389.1h.01M321.0 376.6h.01M318.9 359.1h.01M319.4 352.5h.01M319.4 362.8h.01M319.4 385.9h.01M319.9 391.8h.01M318.8 382.8h.01M326.6 388.0h.01M326.8 389.6h.01M326.4 391.2h.01M327.0 379.8h.01M326.1 386.2h.01M326.5 383.3h.01M336.6 390.1h.01M337.3 383.3h.01M336.7 391.3h.01M338.3 345.3h.01M339.8 379.4h.01M339.0 357.7h.01M337.0 370.3h.01M339.6 376.3h.01M339.0 335.7h.01M337.9 349.5h.01M338.2 372.2h.01M338.5 332.2h.01M337.3 349.2h.01M337.8 349.2h.01M336.8 345.5h.01M338.1 385.0h.01M336.9 389.8h.01M338.8 385.8h.01M339.7 377.2h.01M339.8 343.5h.01M338.7 353.7h.01M336.7 348.7h.01M338.7 340.0h.01M336.4 382.9h.01M339.4 333.7h.01M336.8 332.4h.01M344.4 358.4h.01M342.4 366.4h.01M340.9 362.2h.01M341.0 387.3h.01M344.1 339.7h.01M341.5 372.2h.01M343.0 356.7h.01M342.4 346.1h.01M342.4 335.7h.01M340.9 346.8h.01M340.7 347.0h.01M341.5 353.8h.01M343.2 391.6h.01M343.7 381.4h.01M343.1 377.9h.01M343.4 333.0h.01M342.2 340.4h.01M343.6 354.2h.01M342.5 341.9h.01M344.9 348.9h.01M341.2 354.8h.01M342.0 343.9h.01M343.7 358.2h.01M340.7 389.1h.01M341.1 384.2h.01M344.9 365.0h.01M353.0 374.5h.01M353.7 350.7h.01M355.2 314.7h.01M352.7 325.4h.01M355.0 354.7h.01M352.2 375.4h.01M354.9 347.4h.01M355.0 328.2h.01M354.0 384.1h.01M352.1 363.9h.01M354.5 374.9h.01M352.3 341.6h.01M351.7 350.3h.01M354.6 334.2h.01M354.7 331.9h.01M353.1 360.7h.01M354.4 380.4h.01M352.6 341.9h.01M358.3 339.9h.01M357.3 315.6h.01M356.2 337.0h.01M357.4 331.7h.01M357.6 358.5h.01M356.0 341.3h.01M355.5 330.1h.01M357.1 358.1h.01M355.8 356.9h.01M357.4 357.7h.01M355.4 341.2h.01M355.7 355.5h.01M357.4 322.7h.01M358.5 361.8h.01M356.5 323.1h.01M361.0 347.9h.01M360.5 346.5h.01M360.2 335.4h.01M361.1 351.7h.01M362.3 340.4h.01M361.8 309.0h.01M359.3 359.9h.01M358.8 333.6h.01M359.5 337.7h.01M359.7 359.3h.01M358.9 354.9h.01M362.3 324.4h.01M361.7 339.5h.01M359.4 336.2h.01M359.0 324.3h.01M358.8 317.2h.01M362.0 331.9h.01M362.0 328.7h.01M373.3 298.6h.01M371.3 300.2h.01M362.0 313.5h.01M365.1 336.1h.01M371.5 310.5h.01M374.8 313.6h.01M372.3 316.4h.01M372.4 300.9h.01M364.2 298.7h.01M363.0 358.8h.01M366.6 315.1h.01M362.8 298.4h.01M363.2 318.8h.01M370.8 299.6h.01M368.5 300.9h.01M372.6 308.7h.01M374.3 297.0h.01M362.0 299.7h.01M368.2 300.5h.01M374.4 304.1h.01M367.6 310.4h.01M362.7 336.5h.01M372.0 302.0h.01M362.5 303.2h.01M364.1 316.8h.01M370.1 324.5h.01M374.9 305.1h.01M371.3 351.9h.01M369.5 301.6h.01M362.9 300.8h.01M372.8 298.3h.01M366.9 308.6h.01M364.9 324.3h.01M364.8 356.9h.01M364.5 298.2h.01M371.7 297.6h.01M364.8 314.7h.01M372.3 320.0h.01M364.2 313.3h.01M361.8 307.5h.01M363.3 301.5h.01M365.3 350.8h.01M366.7 299.8h.01M373.4 298.2h.01M366.9 297.9h.01M364.8 312.4h.01M371.0 301.4h.01M375.0 331.0h.01M375.2 357.3h.01M369.1 310.4h.01M386.3 317.5h.01M385.3 308.7h.01M382.1 313.6h.01M378.2 319.7h.01M380.8 353.9h.01M379.8 343.3h.01M381.8 313.9h.01M376.1 321.7h.01M386.1 311.3h.01M377.2 306.2h.01M377.2 332.1h.01M377.7 307.0h.01M383.5 331.0h.01M378.3 315.6h.01M386.9 310.5h.01M376.6 302.3h.01M379.0 312.1h.01M385.3 306.7h.01M378.8 315.0h.01M385.1 323.7h.01M379.8 320.3h.01M383.7 323.1h.01M384.6 312.2h.01M377.9 302.1h.01M379.8 309.1h.01M378.5 308.2h.01M378.6 306.0h.01M383.2 323.4h.01M384.7 322.8h.01M384.7 331.8h.01M383.8 324.5h.01M379.8 327.1h.01M383.8 324.9h.01M376.9 320.3h.01M387.0 311.5h.01M380.5 321.1h.01M378.7 331.4h.01M382.7 324.3h.01M387.8 311.8h.01M387.1 312.7h.01M387.9 304.2h.01M389.5 295.7h.01M388.3 303.5h.01M391.1 324.2h.01M390.3 335.8h.01M389.8 298.7h.01M389.6 296.0h.01M388.3 293.7h.01M390.7 352.6h.01M389.9 316.0h.01M387.6 302.9h.01M387.5 308.8h.01M390.2 319.2h.01M389.4 338.2h.01M390.1 294.8h.01M387.2 336.8h.01M387.5 324.1h.01M389.1 300.5h.01M373.2 388.1h.01M372.3 361.2h.01M372.8 363.1h.01M372.1 381.2h.01M373.8 359.8h.01M372.4 365.8h.01M372.8 388.2h.01M390.8 304.9h.01M389.7 304.6h.01M390.0 305.5h.01M389.4 308.8h.01M389.3 314.7h.01M390.6 307.1h.01M390.2 304.2h.01M389.3 318.9h.01M388.6 321.0h.01M387.6 318.4h.01M475.7 309.0h.01M475.1 310.1h.01M467.5 306.7h.01M470.0 309.8h.01M477.6 307.7h.01M469.4 309.5h.01M476.8 308.2h.01M469.7 310.2h.01M469.6 310.6h.01M472.9 314.1h.01M473.5 311.3h.01M473.2 311.7h.01M475.4 312.4h.01M471.9 312.2h.01M466.2 301.9h.01M475.9 308.9h.01M477.7 307.0h.01M471.9 310.7h.01M469.6 309.3h.01M471.7 311.8h.01M470.9 310.4h.01M470.6 311.7h.01M476.5 312.2h.01M467.6 305.6h.01M467.1 303.8h.01M466.6 304.4h.01M470.1 310.0h.01M472.7 313.2h.01M474.2 312.5h.01M470.5 311.3h.01M468.5 307.6h.01M476.3 310.5h.01M470.3 310.2h.01M466.7 305.7h.01M470.7 311.8h.01M466.5 302.4h.01M474.2 312.2h.01M471.3 310.5h.01M475.2 310.5h.01M466.3 302.7h.01M486.0 317.2h.01M483.0 317.3h.01M482.5 315.1h.01M482.1 314.0h.01M487.7 313.7h.01M482.9 318.1h.01M483.0 317.1h.01M481.0 310.3h.01M488.5 310.4h.01M482.6 320.3h.01M480.9 311.1h.01M487.7 315.6h.01M485.5 320.8h.01M483.1 317.1h.01M488.4 310.6h.01M485.3 319.8h.01M483.4 319.7h.01M486.0 321.6h.01M484.2 321.6h.01M481.6 312.2h.01M488.8 311.6h.01M482.6 317.2h.01M480.9 312.6h.01M482.9 317.1h.01M481.9 313.3h.01M482.7 318.6h.01M480.3 310.2h.01M482.7 317.6h.01M486.9 315.7h.01M484.9 320.6h.01M639.2 357.9h.01M633.1 352.3h.01M656.2 370.0h.01M639.9 358.0h.01M632.7 351.6h.01M646.9 365.2h.01M659.5 373.3h.01M636.4 357.4h.01M653.0 370.2h.01M654.1 368.2h.01M650.9 367.8h.01M654.0 369.4h.01M658.4 372.2h.01M656.5 370.3h.01M643.9 361.3h.01M637.8 358.6h.01M647.8 365.4h.01M639.0 360.2h.01M641.4 358.7h.01M632.1 350.1h.01M650.5 366.3h.01M635.8 357.7h.01M643.3 361.0h.01M633.9 354.3h.01M639.7 358.8h.01M657.7 371.2h.01M651.1 367.0h.01M650.7 366.8h.01M634.5 354.6h.01M634.8 355.2h.01M656.7 370.8h.01M633.4 353.0h.01M652.5 368.9h.01M634.7 355.4h.01M642.7 359.4h.01M644.1 360.8h.01M646.8 365.0h.01M644.6 361.2h.01M645.2 362.2h.01M638.5 358.2h.01M614.0 342.4h.01M611.7 349.4h.01M610.5 352.3h.01M619.8 349.1h.01M614.5 342.2h.01M615.4 343.0h.01M605.0 342.5h.01M616.9 344.2h.01M617.5 344.4h.01M610.3 350.9h.01M609.4 347.0h.01M611.3 352.8h.01M619.7 349.2h.01M614.8 341.7h.01M621.9 348.9h.01M623.3 350.8h.01M609.4 346.0h.01M615.5 342.3h.01M608.1 343.6h.01M618.0 346.1h.01M617.8 345.6h.01M623.3 349.6h.01M615.9 344.0h.01M606.3 345.5h.01M605.0 342.3h.01M485.2 318.1h.01M484.5 321.4h.01M484.8 324.8h.01M484.2 329.2h.01M484.3 331.4h.01M485.2 336.3h.01M474.3 311.0h.01M473.8 314.4h.01M474.5 317.0h.01M516.6 309.3h.01M516.0 312.1h.01M586.3 372.0h.01M637.1 356.0h.01M636.8 358.9h.01M637.5 361.2h.01M637.1 364.7h.01M637.8 366.2h.01M646.1 360.6h.01M645.9 364.2h.01M646.1 367.1h.01M646.5 369.9h.01M646.6 371.6h.01M646.7 375.5h.01M656.7 371.3h.01M657.5 373.7h.01M656.7 376.0h.01M657.1 378.2h.01M657.1 381.9h.01M677.9 383.2h.01M678.4 385.8h.01M694.4 387.4h.01M695.1 389.2h.01M694.2 390.6h.01" stroke="#0000ff" stroke-width="3.4" stroke-linecap="round" fill="none"/>
<path d="M391.6 272.3h.01M391.8 274.8h.01M392.0 275.4h.01M392.2 271.0h.01M392.4 274.2h.01M392.6 270.3h.01M392.8 272.1h.01M393.0 272.2h.01M393.2 272.0h.01M393.4 272.1h.01M393.6 269.7h.01M393.8 273.0h.01M394.0 269.3h.01M394.2 270.9h.01M394.4 266.2h.01M394.6 265.8h.01M394.8 268.1h.01M395.0 269.7h.01M395.2 268.8h.01M395.4 269.9h.01M395.6 266.2h.01M395.8 272.4h.01M396.0 268.5h.01M396.2 268.8h.01M396.4 268.4h.01M396.6 268.3h.01M396.8 269.2h.01M397.0 264.5h.01M397.2 263.7h.01M397.4 266.0h.01M397.6 266.1h.01M397.8 268.0h.01M398.0 269.5h.01M398.2 267.0h.01M398.4 266.9h.01M398.6 267.2h.01M398.8 270.5h.01M399.0 269.5h.01M399.2 269.3h.01M399.4 271.6h.01M399.6 272.5h.01M399.8 268.4h.01M400.0 269.9h.01M400.2 269.8h.01M400.4 272.6h.01M400.6 272.3h.01M400.8 271.2h.01M401.0 272.9h.01M401.2 275.3h.01M401.4 272.8h.01M401.6 272.8h.01M401.8 274.8h.01M402.0 275.2h.01M402.2 273.9h.01M402.4 275.8h.01M402.6 274.4h.01M402.8 275.2h.01M403.0 274.8h.01M403.2 278.0h.01M403.4 272.2h.01M403.6 276.3h.01M403.8 273.1h.01M404.0 274.2h.01M404.2 272.6h.01M404.4 275.2h.01M404.6 277.5h.01M404.8 276.9h.01M405.0 278.5h.01M405.2 276.9h.01M405.4 277.5h.01M405.6 274.0h.01M405.8 278.3h.01M406.0 276.2h.01M406.2 278.5h.01M406.4 275.7h.01M406.6 279.1h.01M406.8 273.8h.01M407.0 276.3h.01M407.2 274.2h.01M407.4 276.4h.01M407.6 275.6h.01M407.8 275.0h.01M408.0 275.1h.01M408.2 276.4h.01M408.4 277.7h.01M408.6 275.8h.01M408.8 276.0h.01M409.0 272.5h.01M409.2 272.3h.01M409.4 270.8h.01M409.6 271.4h.01M409.8 271.8h.01M410.0 270.8h.01M410.2 271.1h.01M410.4 270.6h.01M410.6 271.4h.01M410.8 269.7h.01M411.0 268.4h.01M411.2 267.2h.01M411.4 268.3h.01M411.6 265.4h.01M411.8 267.4h.01M412.0 266.0h.01M412.2 263.2h.01M412.4 264.8h.01M412.6 264.6h.01M412.8 266.0h.01M413.0 262.6h.01M413.2 262.2h.01M413.4 262.9h.01M413.6 260.4h.01M413.8 259.0h.01M414.0 259.8h.01M414.2 258.7h.01M414.4 259.6h.01M414.6 257.1h.01M414.8 257.0h.01M415.0 259.2h.01M415.2 257.2h.01M415.4 256.2h.01M415.6 258.8h.01M415.8 254.7h.01M416.0 254.7h.01M416.2 255.9h.01M416.4 255.3h.01M416.6 253.2h.01M416.8 257.7h.01M417.0 258.3h.01M417.2 256.3h.01M417.4 257.4h.01M417.6 260.1h.01M417.8 259.2h.01M418.0 257.6h.01M418.2 259.1h.01M418.4 255.7h.01M418.6 255.2h.01M418.8 258.0h.01M419.0 252.6h.01M419.2 253.4h.01M419.4 256.4h.01M419.6 255.4h.01M419.8 254.7h.01M420.0 255.3h.01M420.2 255.2h.01M420.4 257.2h.01M420.6 254.6h.01M420.8 254.3h.01M421.0 254.5h.01M421.2 252.1h.01M421.4 247.9h.01M421.6 253.5h.01M421.8 250.9h.01M422.0 250.7h.01M422.2 252.0h.01M422.4 247.4h.01M422.6 251.0h.01M422.8 251.2h.01M423.0 250.5h.01M423.2 249.1h.01M423.4 249.9h.01M423.6 249.2h.01M423.8 250.1h.01M424.0 248.3h.01M424.2 251.4h.01M424.4 250.2h.01M424.6 247.9h.01M424.8 249.7h.01M425.0 249.0h.01M425.2 251.0h.01M425.4 248.5h.01M425.6 249.4h.01M425.8 251.1h.01M426.0 248.5h.01M426.2 249.2h.01M426.4 250.3h.01M426.6 252.5h.01M426.8 252.5h.01M427.0 253.4h.01M427.2 253.7h.01M427.4 254.4h.01M427.6 255.0h.01M427.8 254.7h.01M428.0 258.0h.01M428.2 254.8h.01M428.4 256.4h.01M428.6 256.3h.01M428.8 255.9h.01M429.0 255.8h.01M429.2 252.8h.01M429.4 252.1h.01M429.6 252.9h.01M429.8 254.2h.01M430.0 250.2h.01M430.2 252.1h.01M430.4 253.1h.01M430.6 249.1h.01M430.8 251.9h.01M431.0 251.2h.01M431.2 251.0h.01M431.4 250.9h.01M431.6 252.8h.01M431.8 250.6h.01M432.0 247.5h.01M432.2 249.0h.01M432.4 248.3h.01M432.6 247.6h.01M432.8 249.4h.01M433.0 247.1h.01M433.2 247.9h.01M433.4 245.3h.01M433.6 248.0h.01M433.8 247.1h.01M434.0 247.2h.01M434.2 245.6h.01M434.4 248.9h.01M434.6 246.8h.01M434.8 247.8h.01M435.0 248.9h.01M435.2 249.1h.01M435.4 248.1h.01M435.6 249.3h.01M435.8 248.7h.01M436.0 249.5h.01M436.2 249.8h.01M436.4 251.5h.01M436.6 249.0h.01M436.8 249.5h.01M437.0 251.4h.01M437.2 248.1h.01M437.4 250.3h.01M437.6 248.1h.01M437.8 248.6h.01M438.0 249.5h.01M438.2 252.2h.01M438.4 253.9h.01M438.6 253.0h.01M438.8 253.9h.01M439.0 253.6h.01M439.2 253.8h.01M439.4 252.7h.01M439.6 257.5h.01M439.8 254.2h.01M440.0 255.9h.01M440.2 255.5h.01M440.4 253.8h.01M440.6 254.6h.01M440.8 252.3h.01M441.0 250.0h.01M441.2 252.9h.01M441.4 255.5h.01M441.6 252.6h.01M441.8 253.6h.01M442.0 252.0h.01M442.2 252.8h.01M442.4 252.2h.01M442.6 251.6h.01M442.8 251.7h.01M443.0 253.4h.01M443.2 254.7h.01M443.4 253.9h.01M443.6 254.9h.01M443.8 256.7h.01M444.0 254.8h.01M444.2 256.8h.01M444.4 255.8h.01M444.6 253.1h.01M444.8 256.9h.01M445.0 253.9h.01M445.2 252.7h.01M445.4 256.5h.01M445.6 254.9h.01M445.8 255.7h.01M446.0 258.3h.01M446.2 255.1h.01M446.4 253.8h.01M446.6 256.6h.01M446.8 259.9h.01M447.0 257.9h.01M447.2 259.6h.01M447.4 258.6h.01M447.6 258.6h.01M447.8 256.6h.01M448.0 260.8h.01M448.2 260.9h.01M448.4 255.8h.01M448.6 257.5h.01M448.8 256.7h.01M449.0 254.4h.01M449.2 256.5h.01M449.4 257.7h.01M449.6 257.9h.01M449.8 258.3h.01M450.0 256.6h.01M450.2 257.7h.01M450.4 258.9h.01M450.6 253.9h.01M450.8 254.0h.01M451.0 254.1h.01M451.2 255.3h.01M451.4 255.0h.01M451.6 255.8h.01M451.8 253.6h.01M452.0 250.3h.01M452.2 251.9h.01M452.4 251.1h.01M452.6 249.4h.01M452.8 250.2h.01M453.0 247.6h.01M453.2 250.8h.01M453.4 247.7h.01M453.6 250.8h.01M453.8 249.7h.01M454.0 250.6h.01M454.2 246.0h.01M454.4 246.0h.01M454.6 246.9h.01M454.8 246.7h.01M455.0 247.6h.01M455.2 252.2h.01M455.4 254.4h.01M455.6 250.4h.01M455.8 252.4h.01M456.0 249.3h.01M456.2 251.1h.01M456.4 253.0h.01M456.6 250.7h.01M456.8 255.0h.01M457.0 252.5h.01M457.2 257.2h.01M457.4 254.3h.01M457.6 255.0h.01M457.8 251.8h.01M458.0 251.7h.01M458.2 253.6h.01M458.4 252.9h.01M458.6 257.8h.01M458.8 258.7h.01M459.0 258.7h.01M459.2 258.1h.01M459.4 262.3h.01M459.6 261.9h.01M459.8 263.6h.01M460.0 265.4h.01M460.2 264.4h.01M460.4 264.5h.01M460.6 266.6h.01M460.8 268.4h.01M461.0 265.3h.01M461.2 266.1h.01M461.4 268.2h.01M461.6 267.3h.01M461.8 268.8h.01M462.0 270.9h.01M462.2 271.6h.01M462.4 271.2h.01M462.6 270.6h.01M462.8 271.4h.01M463.0 268.5h.01M463.2 272.0h.01M463.4 268.9h.01M463.6 269.2h.01M463.8 268.4h.01M464.0 270.1h.01M464.2 274.3h.01M464.4 273.5h.01M464.6 275.6h.01M464.8 270.3h.01M465.0 269.5h.01M465.2 271.9h.01M465.4 274.4h.01M465.6 274.6h.01M465.8 275.7h.01M466.0 272.7h.01M466.2 274.2h.01M466.4 277.4h.01M466.6 278.4h.01M466.8 276.5h.01M467.0 277.0h.01M467.2 279.0h.01M467.4 276.5h.01M467.6 279.9h.01M467.8 278.3h.01M468.0 281.9h.01M468.2 282.5h.01M468.4 284.2h.01M468.6 283.8h.01M468.8 285.3h.01M469.0 283.7h.01M469.2 282.3h.01M469.4 284.2h.01M469.6 285.1h.01M469.8 288.4h.01M470.0 288.2h.01M470.2 285.4h.01M470.4 283.6h.01M470.6 285.3h.01M470.8 284.7h.01M471.0 289.3h.01M471.2 289.1h.01M471.4 286.8h.01M471.6 288.4h.01M471.8 290.4h.01M472.0 290.4h.01M472.2 292.3h.01M472.4 289.4h.01M472.6 291.5h.01M472.8 288.9h.01M473.0 291.9h.01M473.2 288.9h.01M473.4 292.2h.01M473.6 289.4h.01M473.8 290.8h.01M474.0 287.9h.01M474.2 291.0h.01M474.4 288.6h.01M474.6 286.7h.01M474.8 284.6h.01M475.0 286.6h.01M475.2 289.5h.01M475.4 284.7h.01M475.6 288.1h.01M475.8 286.5h.01M476.0 285.3h.01M476.2 285.4h.01M476.4 286.8h.01M476.6 285.5h.01M476.8 284.2h.01M477.0 284.4h.01M477.2 283.9h.01M477.4 284.2h.01M477.6 284.0h.01M477.8 281.9h.01M478.0 280.4h.01M478.2 279.1h.01M478.4 279.9h.01M478.6 280.1h.01M478.8 281.4h.01M479.0 281.8h.01M479.2 282.8h.01M479.4 282.8h.01M479.6 283.1h.01M479.8 285.7h.01M480.0 285.2h.01M480.2 285.8h.01M480.4 284.3h.01M480.6 286.0h.01M480.8 284.6h.01M481.0 288.2h.01M481.2 287.8h.01M481.4 288.7h.01M481.6 288.8h.01M481.8 290.3h.01M482.0 291.7h.01M482.2 293.7h.01M482.4 293.9h.01M482.6 294.1h.01M482.8 295.6h.01M483.0 295.7h.01M483.2 296.5h.01M483.4 295.4h.01M483.6 298.1h.01M483.8 300.9h.01M484.0 299.8h.01M484.2 300.9h.01M484.4 303.0h.01M484.6 302.1h.01M484.8 300.4h.01M485.0 299.6h.01M485.2 300.9h.01M485.4 297.0h.01M485.6 297.0h.01M485.8 296.3h.01M486.0 296.4h.01M486.2 293.6h.01M486.4 294.3h.01M486.6 292.9h.01M486.8 289.8h.01M487.0 289.9h.01M487.2 291.5h.01M487.4 288.3h.01M487.6 289.5h.01M487.8 288.1h.01M488.0 289.7h.01M488.2 288.4h.01M488.4 288.2h.01M488.6 285.2h.01M488.8 284.4h.01M489.0 285.1h.01M489.2 285.7h.01M489.4 286.2h.01M489.6 282.7h.01M489.8 283.6h.01M490.0 283.0h.01M490.2 281.7h.01M490.4 282.8h.01M490.6 283.2h.01M490.8 280.9h.01M491.0 281.0h.01M491.2 280.3h.01M491.4 282.7h.01M491.6 282.0h.01M491.8 280.8h.01M492.0 280.6h.01M492.2 277.4h.01M492.4 276.4h.01M492.6 277.1h.01M492.8 276.2h.01M493.0 273.9h.01M493.2 276.1h.01M493.4 275.0h.01M493.6 273.4h.01M493.8 274.2h.01M494.0 275.3h.01M494.2 276.1h.01M494.4 275.9h.01M494.6 273.6h.01M494.8 273.6h.01M495.0 273.5h.01M495.2 271.0h.01M495.4 272.5h.01M495.6 272.6h.01M495.8 272.9h.01M496.0 274.2h.01M496.2 273.8h.01M496.4 272.3h.01M496.6 270.9h.01M496.8 270.0h.01M497.0 269.7h.01M497.2 270.8h.01M497.4 270.2h.01M497.6 272.3h.01M497.8 272.7h.01M498.0 273.5h.01M498.2 272.6h.01M498.4 271.7h.01M498.6 272.7h.01M498.8 274.1h.01M499.0 273.6h.01M499.2 272.5h.01M499.4 271.3h.01M499.6 272.9h.01M499.8 273.2h.01M500.0 272.8h.01M500.2 273.3h.01M500.4 272.0h.01M500.6 274.1h.01M500.8 273.3h.01M501.0 273.3h.01M501.2 274.9h.01M501.4 274.5h.01M501.6 275.8h.01M501.8 274.6h.01M502.0 276.9h.01M502.2 275.8h.01M502.4 276.3h.01M502.6 276.1h.01M502.8 276.3h.01M503.0 276.4h.01M503.2 276.7h.01M503.4 276.9h.01M503.6 278.0h.01M503.8 277.8h.01M504.0 277.0h.01M504.2 278.0h.01M504.4 278.5h.01M504.6 280.3h.01M504.8 279.0h.01M505.0 279.7h.01M505.2 280.5h.01M505.4 281.6h.01M505.6 282.4h.01M505.8 281.9h.01M506.0 281.6h.01M506.2 281.6h.01M506.4 280.4h.01M506.6 280.1h.01M506.8 279.9h.01M507.0 277.6h.01M507.2 278.9h.01M507.4 278.6h.01M507.6 279.1h.01M507.8 276.5h.01M508.0 276.1h.01M508.2 275.4h.01M508.4 275.3h.01M508.6 276.2h.01M508.8 276.5h.01M509.0 274.6h.01M509.2 275.3h.01M509.4 273.6h.01M509.6 273.7h.01M509.8 275.3h.01M510.0 275.0h.01M510.2 272.5h.01M510.4 273.7h.01M510.6 274.0h.01M510.8 273.9h.01M511.0 273.2h.01M511.2 274.1h.01M511.4 274.9h.01M511.6 274.1h.01M511.8 275.4h.01M512.0 276.6h.01M512.2 276.9h.01M512.4 277.8h.01M512.6 276.7h.01M512.8 277.2h.01M513.0 278.4h.01M513.2 278.7h.01M513.4 278.8h.01M513.6 278.7h.01M513.8 281.1h.01M514.0 280.8h.01M514.2 280.3h.01M514.4 282.7h.01M514.6 282.5h.01M514.8 281.1h.01M515.0 281.4h.01M515.2 282.6h.01M515.4 281.9h.01M515.6 283.4h.01M515.8 281.4h.01M516.0 282.1h.01M516.2 282.3h.01M516.4 283.3h.01M516.6 283.3h.01M516.8 283.7h.01M517.0 282.0h.01M517.2 282.3h.01M517.4 280.9h.01M517.6 282.5h.01M517.8 281.9h.01M518.0 282.3h.01M518.2 284.0h.01M518.4 282.5h.01M518.6 282.6h.01M518.8 283.5h.01M519.0 282.3h.01M519.2 283.6h.01M519.4 282.0h.01M519.6 283.1h.01M519.8 282.4h.01M520.0 280.1h.01M520.2 280.7h.01M520.4 280.0h.01M520.6 279.8h.01M520.8 279.7h.01M521.0 280.7h.01M521.2 282.7h.01M521.4 282.4h.01M521.6 283.2h.01M521.8 283.4h.01M522.0 281.5h.01M522.2 281.3h.01M522.4 280.0h.01M522.6 280.4h.01M522.8 279.5h.01M523.0 280.8h.01M523.2 280.1h.01M523.4 280.5h.01M523.6 279.6h.01M523.8 277.4h.01M524.0 278.4h.01M524.2 277.0h.01M524.4 277.8h.01M524.6 276.2h.01M524.8 276.3h.01M525.0 276.0h.01M525.2 275.1h.01M525.4 275.1h.01M525.6 274.7h.01M525.8 275.5h.01M526.0 275.1h.01M526.2 275.1h.01M526.4 275.2h.01M526.6 275.6h.01M526.8 275.0h.01M527.0 274.3h.01M527.2 273.9h.01M527.4 273.8h.01M527.6 273.5h.01M527.8 273.7h.01M528.0 272.7h.01M528.2 274.6h.01M528.4 274.2h.01M528.6 273.9h.01M528.8 276.4h.01M529.0 275.2h.01M529.2 275.0h.01M529.4 275.7h.01M529.6 274.7h.01M529.8 276.2h.01M530.0 276.0h.01M530.2 278.0h.01M530.4 276.6h.01M530.6 276.0h.01M530.8 275.0h.01M531.0 274.7h.01M531.2 276.6h.01M531.4 275.0h.01M531.6 277.2h.01M531.8 277.8h.01M532.0 276.6h.01M532.2 278.8h.01M532.4 278.7h.01M532.6 276.5h.01M532.8 277.4h.01M533.0 278.3h.01M533.2 278.7h.01M533.4 277.3h.01M533.6 276.6h.01M533.8 277.4h.01M534.0 277.9h.01M534.2 277.7h.01M534.4 278.1h.01M534.6 277.1h.01M534.8 278.0h.01M535.0 278.0h.01M535.2 278.2h.01M535.4 279.1h.01M535.6 280.0h.01M535.8 279.8h.01M536.0 280.6h.01M536.2 279.5h.01M536.4 280.5h.01M536.6 281.0h.01M536.8 280.1h.01M537.0 281.4h.01M537.2 281.6h.01M537.4 282.1h.01M537.6 283.7h.01M537.8 281.6h.01M538.0 282.6h.01M538.2 284.0h.01M538.4 283.9h.01M538.6 283.6h.01M538.8 284.4h.01M539.0 284.2h.01M539.2 285.7h.01M539.4 284.5h.01M539.6 286.4h.01M539.8 285.4h.01M540.0 284.8h.01M540.2 286.4h.01M540.4 287.5h.01M540.6 286.1h.01M540.8 286.6h.01M541.0 286.2h.01M541.2 287.5h.01M541.4 287.8h.01M541.6 287.8h.01M541.8 288.1h.01M542.0 288.0h.01M542.2 288.2h.01M542.4 289.0h.01M542.6 288.1h.01M542.8 287.7h.01M543.0 289.1h.01M543.2 289.0h.01M543.4 289.0h.01M543.6 289.7h.01M543.8 291.2h.01M544.0 291.6h.01M544.2 291.6h.01M544.4 292.0h.01M544.6 291.1h.01M544.8 292.7h.01M545.0 293.5h.01M545.2 293.0h.01M545.4 293.5h.01M545.6 293.1h.01M545.8 293.2h.01M546.0 295.0h.01M546.2 293.5h.01M546.4 294.7h.01M546.6 293.7h.01M546.8 294.9h.01M547.0 295.7h.01M547.2 296.1h.01M547.4 297.4h.01M547.6 297.6h.01M547.8 297.5h.01M548.0 298.5h.01M548.2 297.7h.01M548.4 297.4h.01M548.6 297.8h.01M548.8 296.8h.01M549.0 297.6h.01M549.2 297.7h.01M549.4 295.5h.01M549.6 294.9h.01M549.8 294.5h.01M550.0 293.4h.01M550.2 294.5h.01M550.4 295.4h.01M550.6 292.9h.01M550.8 293.6h.01M551.0 294.4h.01M551.2 294.5h.01M551.4 292.2h.01M551.6 291.3h.01M551.8 290.2h.01M552.0 291.6h.01M552.2 290.9h.01M552.4 291.2h.01M552.6 290.4h.01M552.8 289.3h.01M553.0 289.4h.01M553.2 289.4h.01M553.4 288.2h.01M553.6 287.7h.01M553.8 286.7h.01M554.0 288.9h.01M554.2 287.4h.01M554.4 288.4h.01M554.6 287.2h.01M554.8 288.0h.01M555.0 287.5h.01M555.2 288.2h.01M555.4 286.7h.01M555.6 286.3h.01M555.8 288.3h.01M556.0 287.8h.01M556.2 287.6h.01M556.4 288.5h.01M556.6 287.1h.01M556.8 289.3h.01M557.0 288.9h.01M557.2 287.1h.01M557.4 288.0h.01M557.6 288.8h.01M557.8 287.3h.01M558.0 286.5h.01M558.2 287.5h.01M558.4 286.0h.01M558.6 287.6h.01M558.8 287.1h.01M559.0 287.6h.01M559.2 287.0h.01M559.4 287.8h.01M559.6 287.1h.01M559.8 287.1h.01M560.0 287.9h.01M560.2 288.7h.01M560.4 288.2h.01M560.6 288.3h.01M560.8 288.3h.01M561.0 286.4h.01M561.2 286.6h.01M561.4 287.9h.01M561.6 286.3h.01M561.8 288.5h.01M562.0 287.2h.01M562.2 287.2h.01M562.4 288.0h.01M562.6 287.2h.01M562.8 289.0h.01M563.0 288.3h.01M563.2 288.3h.01M563.4 287.9h.01M563.6 288.3h.01M563.8 288.3h.01M564.0 287.2h.01M564.2 288.0h.01M564.4 288.3h.01M564.6 290.1h.01M564.8 288.7h.01M565.0 290.3h.01M565.2 289.5h.01M565.4 290.4h.01M565.6 289.9h.01M565.8 289.3h.01M566.0 290.5h.01M566.2 290.3h.01M566.4 288.5h.01M566.6 289.1h.01M566.8 289.3h.01M567.0 289.0h.01M567.2 289.3h.01M567.4 289.4h.01M567.6 289.5h.01M567.8 289.4h.01M568.0 290.2h.01M568.2 290.0h.01M568.4 288.6h.01M568.6 289.0h.01M568.8 289.7h.01M569.0 289.7h.01M569.2 289.1h.01M569.4 288.7h.01M569.6 288.9h.01M569.8 289.6h.01M570.0 288.4h.01M570.2 287.4h.01M570.4 288.1h.01M570.6 288.1h.01M570.8 287.8h.01M571.0 286.6h.01M571.2 289.3h.01M571.4 288.3h.01M571.6 287.4h.01M571.8 288.3h.01M572.0 287.8h.01M572.2 287.8h.01M572.4 286.0h.01M572.6 284.7h.01M572.8 285.8h.01M573.0 286.9h.01M573.2 286.0h.01M573.4 286.6h.01M573.6 288.0h.01M573.8 287.4h.01M574.0 289.0h.01M574.2 289.2h.01M574.4 291.3h.01M574.6 291.1h.01M574.8 290.2h.01M575.0 291.2h.01M575.2 291.5h.01M575.4 291.0h.01M575.6 291.4h.01M575.8 292.7h.01M576.0 293.5h.01M576.2 293.3h.01M576.4 292.6h.01M576.6 293.2h.01M576.8 293.8h.01M577.0 292.6h.01M577.2 293.1h.01M577.4 292.6h.01M577.6 293.2h.01M577.8 292.8h.01M578.0 293.2h.01M578.2 293.6h.01M578.4 293.7h.01M578.6 295.3h.01M578.8 294.1h.01M579.0 295.4h.01M579.2 296.0h.01M579.4 297.0h.01M579.6 297.3h.01M579.8 297.3h.01M580.0 297.2h.01M580.2 296.7h.01M580.4 297.7h.01M580.6 298.9h.01M580.8 299.4h.01M581.0 298.3h.01M581.2 298.4h.01M581.4 300.2h.01M581.6 300.6h.01M581.8 299.4h.01M582.0 299.7h.01M582.2 300.3h.01M582.4 300.7h.01M582.6 300.8h.01M582.8 300.6h.01M583.0 301.4h.01M583.2 299.9h.01M583.4 300.7h.01M583.6 299.3h.01M583.8 299.8h.01M584.0 300.2h.01M584.2 301.0h.01M584.4 301.9h.01M584.6 301.2h.01M584.8 300.8h.01M585.0 300.7h.01M585.2 300.7h.01M585.4 303.0h.01M585.6 303.2h.01M585.8 302.8h.01M586.0 302.5h.01M586.2 303.4h.01M586.4 301.9h.01M586.6 303.1h.01M586.8 302.0h.01M587.0 302.8h.01M587.2 302.9h.01M587.4 300.5h.01M587.6 301.4h.01M587.8 300.9h.01M588.0 300.4h.01M588.2 301.0h.01M588.4 301.8h.01M588.6 301.1h.01M588.8 302.6h.01M589.0 301.0h.01M589.2 302.4h.01M589.4 302.0h.01M589.6 303.1h.01M589.8 302.3h.01M590.0 302.9h.01M590.2 302.6h.01M590.4 303.8h.01M590.6 304.5h.01M590.8 304.4h.01M591.0 305.4h.01M591.2 304.4h.01M591.4 304.3h.01M591.6 304.8h.01M591.8 304.1h.01M592.0 304.6h.01M592.2 304.0h.01M592.4 304.4h.01M592.6 304.4h.01M592.8 303.7h.01M593.0 304.7h.01M593.2 304.7h.01M593.4 304.2h.01M593.6 305.2h.01M593.8 304.0h.01M594.0 304.3h.01M594.2 304.5h.01M594.4 305.0h.01M594.6 304.4h.01M594.8 304.4h.01M595.0 305.2h.01M595.2 304.7h.01M595.4 305.8h.01M595.6 306.8h.01M595.8 305.6h.01M596.0 304.7h.01M596.2 306.4h.01M596.4 305.9h.01M596.6 305.9h.01M596.8 304.7h.01M597.0 305.8h.01M597.2 305.7h.01M597.4 304.9h.01M597.6 305.4h.01M597.8 306.1h.01M598.0 306.2h.01M598.2 305.2h.01M598.4 306.5h.01M598.6 305.3h.01M598.8 306.5h.01M599.0 306.7h.01M599.2 306.6h.01M599.4 306.4h.01M599.6 305.9h.01M599.8 306.9h.01M600.0 307.6h.01M600.2 306.7h.01M600.4 307.4h.01M600.6 307.5h.01M600.8 308.4h.01M601.0 308.0h.01M601.2 308.0h.01M601.4 309.6h.01M601.6 309.2h.01M601.8 310.7h.01M602.0 309.9h.01M602.2 310.0h.01M602.4 309.2h.01M602.6 310.0h.01M602.8 310.6h.01M603.0 310.6h.01M603.2 311.0h.01M603.4 309.9h.01M603.6 312.4h.01M603.8 311.1h.01M604.0 312.2h.01M604.2 312.7h.01M604.4 312.9h.01M604.6 312.4h.01M604.8 313.6h.01M605.0 312.4h.01M605.2 313.2h.01M605.4 313.2h.01M605.6 312.6h.01M605.8 312.5h.01M606.0 313.2h.01M606.2 310.7h.01M606.4 312.1h.01M606.6 311.6h.01M606.8 311.8h.01M607.0 312.3h.01M607.2 312.5h.01M607.4 313.7h.01M607.6 311.8h.01M607.8 311.8h.01M608.0 312.9h.01M608.2 312.5h.01M608.4 313.6h.01M608.6 313.1h.01M608.8 312.5h.01M609.0 313.2h.01M609.2 315.2h.01M609.4 315.4h.01M609.6 317.5h.01M609.8 318.6h.01M610.0 319.2h.01M610.2 320.7h.01M610.4 322.1h.01M610.6 322.1h.01M610.8 324.4h.01M611.0 322.9h.01M611.2 322.8h.01M611.4 322.4h.01M611.6 320.9h.01M611.8 319.1h.01M612.0 317.0h.01M612.2 317.2h.01M612.4 315.9h.01M612.6 315.2h.01M612.8 313.1h.01M613.0 313.0h.01M613.2 312.0h.01M613.4 311.0h.01M613.6 311.1h.01M613.8 311.2h.01M614.0 310.9h.01M614.2 310.0h.01M614.4 310.3h.01M614.6 309.1h.01M614.8 308.9h.01M615.0 308.9h.01M615.2 308.2h.01M615.4 310.1h.01M615.6 310.5h.01M615.8 310.7h.01M616.0 309.6h.01M616.2 310.0h.01M616.4 311.5h.01M616.6 311.4h.01M616.8 311.5h.01M617.0 312.6h.01M617.2 311.8h.01M617.4 312.2h.01M617.6 312.6h.01M617.8 313.6h.01M618.0 314.6h.01M618.2 316.4h.01M618.4 318.4h.01M618.6 319.6h.01M618.8 319.4h.01M619.0 321.8h.01M619.2 321.3h.01M619.4 322.0h.01M619.6 321.8h.01M619.8 321.5h.01M620.0 320.7h.01M620.2 319.9h.01M620.4 320.4h.01M620.6 319.6h.01M620.8 318.9h.01M621.0 318.5h.01M621.2 317.9h.01M621.4 318.7h.01M621.6 318.4h.01M621.8 319.5h.01M622.0 319.6h.01M622.2 318.3h.01M622.4 319.1h.01M622.6 318.3h.01M622.8 317.1h.01M623.0 318.1h.01M623.2 318.2h.01M623.4 317.6h.01M623.6 319.0h.01M623.8 318.8h.01M624.0 318.5h.01M624.2 317.6h.01M624.4 318.3h.01M624.6 318.0h.01M624.8 319.0h.01M625.0 318.3h.01M625.2 317.1h.01M625.4 318.4h.01M625.6 317.8h.01M625.8 316.7h.01M626.0 316.4h.01M626.2 315.7h.01M626.4 316.2h.01M626.6 315.7h.01M626.8 316.8h.01M627.0 315.5h.01M627.2 316.4h.01M627.4 316.6h.01M627.6 316.9h.01M627.8 315.2h.01M628.0 316.8h.01M628.2 316.6h.01M628.4 316.4h.01M628.6 316.5h.01M628.8 315.7h.01M629.0 316.1h.01M629.2 316.0h.01M629.4 314.7h.01M629.6 316.1h.01M629.8 315.9h.01M630.0 316.0h.01M630.2 317.0h.01M630.4 315.9h.01M630.6 316.1h.01M630.8 315.9h.01M631.0 315.8h.01M631.2 315.9h.01M631.4 315.7h.01M631.6 315.4h.01M631.8 316.0h.01M632.0 316.0h.01M632.2 317.5h.01M632.4 315.7h.01M632.6 317.1h.01M632.8 318.5h.01M633.0 317.0h.01M633.2 319.0h.01M633.4 317.9h.01M633.6 318.8h.01M633.8 318.3h.01M634.0 318.6h.01M634.2 319.7h.01M634.4 319.5h.01M634.6 318.7h.01M634.8 319.8h.01M635.0 319.9h.01M635.2 321.0h.01M635.4 321.0h.01M635.6 321.3h.01M635.8 320.9h.01M636.0 320.9h.01M636.2 320.7h.01M636.4 321.0h.01M636.6 320.0h.01M636.8 320.8h.01M637.0 320.8h.01M637.2 320.6h.01M637.4 321.8h.01M637.6 321.1h.01M637.8 320.8h.01M638.0 322.0h.01M638.2 321.2h.01M638.4 323.1h.01M638.6 322.5h.01M638.8 323.0h.01M639.0 323.0h.01M639.2 322.9h.01M639.4 323.7h.01M639.6 323.4h.01M639.8 324.6h.01M640.0 324.9h.01M640.2 323.5h.01M640.4 323.8h.01M640.6 325.6h.01M640.8 324.7h.01M641.0 324.2h.01M641.2 324.3h.01M641.4 325.3h.01M641.6 325.4h.01M641.8 324.9h.01M642.0 325.1h.01M642.2 324.8h.01M642.4 325.9h.01M642.6 326.7h.01M642.8 325.5h.01M643.0 325.4h.01M643.2 326.9h.01M643.4 326.9h.01M643.6 327.7h.01M643.8 327.8h.01M644.0 328.3h.01M644.2 329.3h.01M644.4 328.7h.01M644.6 329.6h.01M644.8 328.8h.01M645.0 330.5h.01M645.2 329.6h.01M645.4 328.6h.01M645.6 328.3h.01M645.8 329.5h.01M646.0 328.7h.01M646.2 329.3h.01M646.4 329.2h.01M646.6 329.5h.01M646.8 330.3h.01M647.0 330.8h.01M647.2 331.1h.01M647.4 332.2h.01M647.6 333.1h.01M647.8 333.3h.01M648.0 332.8h.01M648.2 335.1h.01M648.4 335.1h.01M648.6 334.6h.01M648.8 334.5h.01M649.0 335.8h.01M649.2 335.5h.01M649.4 335.0h.01M649.6 335.2h.01M649.8 335.7h.01M650.0 336.3h.01M650.2 335.4h.01M650.4 336.1h.01M650.6 335.5h.01M650.8 335.6h.01M651.0 336.4h.01M651.2 336.2h.01M651.4 336.5h.01M651.6 335.5h.01M651.8 334.8h.01M652.0 336.0h.01M652.2 337.0h.01M652.4 336.1h.01M652.6 336.9h.01M652.8 336.7h.01M653.0 337.9h.01M653.2 336.6h.01M653.4 336.9h.01M653.6 336.6h.01M653.8 337.8h.01M654.0 336.9h.01M654.2 337.1h.01M654.4 336.9h.01M654.6 337.0h.01M654.8 338.3h.01M655.0 338.0h.01M655.2 339.8h.01M655.4 339.1h.01M655.6 338.9h.01M655.8 338.6h.01M656.0 340.3h.01M656.2 340.6h.01M656.4 339.5h.01M656.6 339.5h.01M656.8 340.7h.01M657.0 339.6h.01M657.2 339.6h.01M657.4 341.4h.01M657.6 341.3h.01M657.8 340.7h.01M658.0 342.5h.01M658.2 342.5h.01M658.4 342.4h.01M658.6 342.0h.01M658.8 342.7h.01M659.0 343.3h.01M659.2 343.8h.01M659.4 344.2h.01M659.6 343.7h.01M659.8 343.6h.01M660.0 342.7h.01M660.2 343.8h.01M660.4 344.5h.01M660.6 344.3h.01M660.8 343.7h.01M661.0 343.5h.01M661.2 343.2h.01M661.4 344.7h.01M661.6 344.4h.01M661.8 344.0h.01M662.0 343.4h.01M662.2 344.6h.01M662.4 345.0h.01M662.6 344.4h.01M662.8 343.9h.01M663.0 344.3h.01M663.2 345.1h.01M663.4 345.8h.01M663.6 346.9h.01M663.8 346.2h.01M664.0 346.6h.01M664.2 346.7h.01M664.4 347.1h.01M664.6 346.8h.01M664.8 347.1h.01M665.0 347.2h.01M665.2 346.9h.01M665.4 347.9h.01M665.6 348.8h.01M665.8 348.7h.01M666.0 347.6h.01M666.2 347.4h.01M666.4 347.4h.01M666.6 348.1h.01M666.8 348.0h.01M667.0 347.7h.01M667.2 348.9h.01M667.4 348.2h.01M667.6 349.0h.01M667.8 350.2h.01M668.0 348.4h.01M668.2 349.5h.01M668.4 350.3h.01M668.6 349.9h.01M668.8 350.0h.01M669.0 350.5h.01M669.2 350.6h.01M669.4 351.1h.01M669.6 351.3h.01M669.8 352.6h.01M670.0 351.0h.01M670.2 351.8h.01M670.4 352.6h.01M670.6 351.9h.01M670.8 351.7h.01M671.0 351.0h.01M671.2 351.7h.01M671.4 352.6h.01M671.6 351.6h.01M671.8 352.2h.01M672.0 352.6h.01M672.2 353.1h.01M672.4 353.4h.01M672.6 354.2h.01M672.8 354.6h.01M673.0 354.8h.01M673.2 354.8h.01M673.4 354.3h.01M673.6 355.8h.01M673.8 355.3h.01M674.0 355.0h.01M674.2 354.8h.01M674.4 356.1h.01M674.6 356.5h.01M674.8 355.3h.01M675.0 355.6h.01M675.2 356.4h.01M675.4 356.2h.01M675.6 357.4h.01M675.8 357.7h.01M676.0 357.9h.01M676.2 358.2h.01M676.4 358.6h.01M676.6 361.2h.01M676.8 360.8h.01M677.0 362.5h.01M677.2 362.9h.01M677.4 364.2h.01M677.6 365.1h.01M677.8 365.3h.01M678.0 367.0h.01M678.2 366.5h.01M678.4 367.7h.01M678.6 369.0h.01M678.8 368.4h.01M679.0 367.7h.01M679.2 367.8h.01M679.4 366.6h.01M679.6 366.3h.01M679.8 367.0h.01M680.0 365.4h.01M680.2 366.6h.01M680.4 365.5h.01M680.6 365.8h.01M680.8 366.7h.01M681.0 366.7h.01M681.2 366.8h.01M681.4 364.8h.01M681.6 365.2h.01M681.8 365.6h.01M682.0 365.9h.01M682.2 364.1h.01M682.4 364.1h.01M682.6 364.3h.01M682.8 363.6h.01M683.0 364.2h.01M683.2 364.2h.01M683.4 364.3h.01M683.6 364.4h.01M683.8 363.9h.01M684.0 363.2h.01M684.2 363.7h.01M684.4 364.4h.01M684.6 365.1h.01M684.8 364.7h.01M685.0 364.8h.01M685.2 364.6h.01M685.4 365.7h.01M685.6 366.3h.01M685.8 365.5h.01M686.0 364.9h.01M686.2 365.5h.01M686.4 365.7h.01M686.6 366.3h.01M686.8 364.8h.01M687.0 366.6h.01M687.2 365.6h.01M687.4 366.4h.01M687.6 366.4h.01M687.8 365.0h.01M688.0 366.5h.01M688.2 365.4h.01M688.4 366.5h.01M688.6 366.9h.01M688.8 365.8h.01M689.0 366.2h.01M689.2 367.1h.01M689.4 367.0h.01M689.6 366.6h.01M689.8 367.8h.01M690.0 367.9h.01M690.2 368.2h.01M690.4 368.3h.01M690.6 368.9h.01M690.8 369.0h.01M691.0 368.8h.01M691.2 369.2h.01M691.4 368.7h.01M691.6 368.7h.01M691.8 369.2h.01M692.0 369.9h.01M692.2 370.2h.01M692.4 369.6h.01M692.6 368.6h.01M692.8 368.6h.01M693.0 368.8h.01M693.2 369.2h.01M693.4 368.3h.01M693.6 368.8h.01M693.8 368.2h.01M694.0 368.7h.01M694.2 369.6h.01M694.4 369.3h.01M694.6 369.1h.01M694.8 369.2h.01M695.0 370.2h.01M695.2 369.4h.01M695.4 370.1h.01M695.6 369.4h.01M695.8 370.1h.01M696.0 369.8h.01M696.2 368.9h.01M696.4 369.3h.01M696.6 369.0h.01M696.8 370.3h.01M697.0 371.1h.01M697.2 370.2h.01M697.4 370.5h.01M697.6 371.7h.01M697.8 371.3h.01M698.0 372.2h.01M698.2 372.8h.01M698.4 371.7h.01M698.6 372.5h.01M698.8 372.3h.01M699.0 372.3h.01M699.2 372.8h.01M699.4 372.1h.01M699.6 371.6h.01M699.8 372.4h.01M700.0 371.8h.01M700.2 372.9h.01M700.4 373.4h.01M700.6 373.2h.01M700.8 373.0h.01M701.0 373.4h.01M701.2 373.0h.01M701.4 372.9h.01M701.6 373.4h.01M701.8 373.2h.01M702.0 373.4h.01M702.2 373.2h.01M702.4 373.4h.01M702.6 373.6h.01M702.8 374.5h.01M703.0 374.5h.01M703.2 374.3h.01M703.4 374.3h.01M703.6 374.1h.01M703.8 373.7h.01M704.0 373.5h.01M704.2 372.7h.01M704.4 373.8h.01M704.6 373.8h.01M704.8 373.1h.01M705.0 373.2h.01M705.2 373.0h.01M705.4 373.6h.01M705.6 373.7h.01M705.8 374.0h.01M706.0 374.4h.01M706.2 374.2h.01M706.4 374.6h.01M706.6 374.0h.01M706.8 375.0h.01M707.0 375.1h.01M707.2 375.1h.01M707.4 375.0h.01M707.6 375.5h.01M707.8 375.6h.01M708.0 375.7h.01M708.2 375.7h.01M708.4 376.7h.01M708.6 376.0h.01M708.8 376.3h.01M709.0 376.7h.01M709.2 376.6h.01M709.4 377.1h.01M709.6 377.5h.01M709.8 377.6h.01M710.0 377.5h.01M710.2 377.7h.01M710.4 378.4h.01M710.6 378.2h.01M710.8 378.1h.01M711.0 377.7h.01M711.2 378.4h.01M711.4 378.4h.01M711.6 377.9h.01M711.8 378.8h.01M712.0 378.9h.01M712.2 378.7h.01M712.4 379.5h.01M712.6 379.9h.01M712.8 380.5h.01M713.0 379.9h.01M713.2 380.3h.01M713.4 380.4h.01M713.6 381.1h.01M713.8 381.3h.01M714.0 381.2h.01M714.2 381.2h.01M714.4 381.3h.01M714.6 381.5h.01M714.8 381.3h.01M715.0 381.0h.01M715.2 380.8h.01M715.4 381.1h.01M715.6 381.3h.01M715.8 381.8h.01M716.0 381.8h.01M716.2 382.4h.01M716.4 382.1h.01M716.6 381.8h.01M716.8 382.4h.01M717.0 382.9h.01M717.2 383.5h.01M717.4 383.1h.01M717.6 383.5h.01M717.8 383.1h.01M718.0 383.4h.01M718.2 383.7h.01M718.4 383.5h.01M718.6 383.6h.01M718.8 383.9h.01M719.0 383.6h.01M719.2 383.6h.01M719.4 383.6h.01M719.6 383.8h.01M719.8 384.0h.01M720.0 384.0h.01M720.2 384.6h.01M720.4 384.6h.01M720.6 384.4h.01M720.8 384.5h.01M721.0 384.6h.01M721.2 385.0h.01M721.4 385.2h.01M721.6 385.4h.01M721.8 385.3h.01M722.0 385.3h.01M722.2 385.6h.01M722.4 385.6h.01M722.6 385.6h.01M722.8 385.6h.01M723.0 385.6h.01M723.2 385.8h.01M723.4 385.8h.01M723.6 385.9h.01M723.8 386.0h.01M724.0 386.1h.01M724.2 386.5h.01M724.4 386.2h.01M724.6 386.7h.01M724.8 386.8h.01M725.0 386.8h.01M725.2 386.8h.01M725.4 387.2h.01M725.6 387.2h.01M725.8 387.4h.01M726.0 387.6h.01M726.2 387.6h.01M726.4 387.8h.01M726.6 387.6h.01M726.8 387.9h.01M727.0 387.9h.01M727.2 388.0h.01M727.4 388.2h.01M727.6 388.1h.01M727.8 388.3h.01M728.0 388.7h.01M728.2 388.7h.01M728.4 388.7h.01M728.6 388.6h.01M728.8 388.6h.01M729.0 388.8h.01M729.2 388.9h.01M729.4 389.1h.01M729.6 389.2h.01M729.8 389.0h.01M730.0 389.3h.01M730.2 389.3h.01M730.4 389.3h.01M730.6 389.3h.01M730.8 389.4h.01M731.0 389.2h.01M731.2 389.2h.01M731.4 389.2h.01M731.6 389.3h.01M731.8 389.4h.01M732.0 389.4h.01M732.2 389.3h.01M732.4 389.5h.01M732.6 389.4h.01M732.8 389.5h.01M733.0 389.6h.01M733.2 389.7h.01M733.4 389.8h.01M733.6 389.7h.01M733.8 389.8h.01M734.0 389.8h.01M734.2 389.8h.01M734.4 390.1h.01M734.6 389.9h.01M734.8 390.2h.01M735.0 390.1h.01M735.2 390.2h.01M735.4 390.2h.01M735.6 390.4h.01M735.8 390.4h.01M736.0 390.4h.01M736.2 390.4h.01M736.4 390.7h.01M736.6 390.5h.01M736.8 390.5h.01M737.0 390.7h.01M737.2 390.8h.01M737.4 390.8h.01M737.6 390.6h.01M737.8 390.7h.01M738.0 390.8h.01M738.2 390.9h.01M738.4 390.8h.01M738.6 391.0h.01M738.8 391.0h.01M739.0 391.2h.01M739.2 391.1h.01M739.4 391.3h.01M203.9 385.2h.01M197.0 390.5h.01M201.5 377.9h.01M197.5 383.6h.01M197.5 378.4h.01M197.2 377.2h.01M203.7 381.9h.01M200.1 382.5h.01M201.2 382.1h.01M198.3 371.8h.01M200.9 390.7h.01M203.0 379.0h.01M198.4 381.7h.01M196.4 379.4h.01M202.3 391.8h.01M196.7 371.6h.01M199.8 382.3h.01M203.7 368.9h.01M197.0 379.0h.01M202.3 366.8h.01M199.0 385.0h.01M199.4 370.9h.01M196.6 386.3h.01M200.1 380.4h.01M201.5 386.3h.01M199.2 375.8h.01M203.4 368.1h.01M202.2 378.3h.01M200.3 372.8h.01M203.5 374.1h.01M198.6 367.8h.01M203.1 388.1h.01M201.3 373.1h.01M202.2 373.4h.01M198.8 378.7h.01M200.2 374.5h.01M199.9 375.4h.01M199.3 379.5h.01M198.1 388.7h.01M197.7 376.7h.01M202.4 380.7h.01M202.7 378.7h.01M200.4 383.2h.01M199.7 391.7h.01M201.9 382.7h.01M199.4 389.5h.01M202.6 372.9h.01M200.8 387.7h.01M200.3 380.7h.01M201.5 375.7h.01M200.1 376.6h.01M202.3 388.3h.01M199.7 388.3h.01M200.5 385.7h.01M201.1 355.7h.01M202.1 361.7h.01M201.0 364.5h.01M201.8 361.3h.01M202.1 360.3h.01M201.1 353.9h.01M201.0 359.5h.01M190.9 391.4h.01M189.2 391.2h.01M189.2 390.3h.01M189.3 389.8h.01M189.1 390.8h.01M207.3 387.5h.01M207.5 388.0h.01M207.9 387.4h.01M207.7 388.5h.01M208.6 389.8h.01M207.2 391.8h.01M206.5 391.8h.01M205.7 388.8h.01M213.5 391.8h.01M213.2 391.6h.01M212.7 390.2h.01M248.2 388.5h.01M247.2 391.7h.01M249.8 391.2h.01M248.7 390.0h.01M248.8 391.6h.01M247.5 390.3h.01M247.7 388.5h.01M254.9 390.7h.01M255.1 386.6h.01M255.4 381.0h.01M255.3 390.2h.01M255.1 388.1h.01M255.5 387.3h.01M255.2 386.7h.01M264.6 390.7h.01M264.8 386.5h.01M264.5 389.7h.01M264.4 387.2h.01M327.8 384.1h.01M312.5 387.4h.01M315.5 382.3h.01M328.4 381.8h.01M308.5 384.7h.01M325.1 389.9h.01M316.8 384.8h.01M309.7 389.9h.01M323.6 382.3h.01M321.6 391.1h.01M314.6 382.6h.01M323.3 387.6h.01M315.4 379.6h.01M313.9 388.7h.01M310.8 385.8h.01M323.9 384.0h.01M309.4 388.3h.01M322.0 387.4h.01M326.9 384.2h.01M318.0 385.4h.01M325.8 383.7h.01M312.0 384.4h.01M325.1 389.1h.01M310.8 390.1h.01M328.7 383.8h.01M324.3 388.5h.01M320.4 382.5h.01M306.6 390.8h.01M314.0 390.2h.01M325.7 390.6h.01M323.0 388.9h.01M325.0 391.7h.01M327.2 390.9h.01M313.8 391.5h.01M308.7 382.0h.01M326.0 386.5h.01M328.0 383.7h.01M308.1 381.6h.01M326.4 390.0h.01M316.2 388.0h.01M307.4 391.7h.01M312.9 382.2h.01M319.1 388.4h.01M309.6 388.6h.01M320.6 390.2h.01M308.0 391.2h.01M316.2 384.5h.01M318.0 389.4h.01M308.1 388.0h.01M308.2 384.9h.01M317.5 390.6h.01M312.6 385.6h.01M311.8 386.2h.01M315.8 386.6h.01M320.8 384.4h.01M311.2 389.4h.01M314.3 385.0h.01M313.4 386.6h.01M319.2 386.3h.01M317.0 389.8h.01M313.8 384.7h.01M315.5 385.2h.01M311.4 391.9h.01M310.5 391.9h.01M312.6 348.2h.01M313.4 386.9h.01M311.5 378.6h.01M312.9 364.4h.01M313.4 345.3h.01M311.5 348.9h.01M313.2 379.5h.01M311.3 375.7h.01M312.2 371.1h.01M311.9 371.1h.01M312.3 358.8h.01M311.7 351.2h.01M312.6 383.6h.01M311.3 372.2h.01M311.8 352.1h.01M310.7 345.0h.01M313.0 349.7h.01M311.4 368.3h.01M311.2 371.8h.01M317.8 375.4h.01M317.7 391.3h.01M317.3 387.5h.01M317.7 339.8h.01M316.2 361.4h.01M316.9 339.4h.01M316.1 376.7h.01M317.7 357.5h.01M317.6 383.7h.01M317.6 341.3h.01M316.3 369.5h.01M317.3 380.7h.01M315.7 370.4h.01M315.5 347.9h.01M315.5 359.8h.01M315.7 369.2h.01M316.4 379.3h.01M316.2 391.8h.01M320.3 382.9h.01M319.5 382.7h.01M318.8 377.9h.01M320.3 369.6h.01M320.1 364.3h.01M319.6 364.9h.01M320.1 384.4h.01M319.4 369.2h.01M319.5 348.9h.01M320.3 340.2h.01M320.7 342.4h.01M319.0 379.1h.01M319.6 355.6h.01M319.8 388.9h.01M320.2 358.9h.01M320.9 352.7h.01M326.4 376.5h.01M326.3 383.9h.01M326.7 386.1h.01M325.9 376.6h.01M326.4 387.4h.01M326.1 386.7h.01M338.2 390.6h.01M336.6 360.3h.01M337.8 371.5h.01M338.5 371.8h.01M336.4 390.1h.01M339.3 325.2h.01M336.0 377.8h.01M339.3 345.5h.01M339.9 364.3h.01M338.2 320.2h.01M338.0 345.4h.01M337.8 342.9h.01M339.6 344.6h.01M336.4 336.0h.01M339.5 355.7h.01M337.5 382.5h.01M340.1 348.1h.01M336.6 341.2h.01M336.5 382.3h.01M339.0 341.1h.01M338.7 380.4h.01M340.2 330.0h.01M337.9 365.4h.01M337.9 356.6h.01M337.9 347.7h.01M338.4 346.6h.01M344.0 318.4h.01M341.5 376.5h.01M343.7 326.9h.01M341.8 323.8h.01M344.1 365.3h.01M342.1 359.8h.01M342.8 337.4h.01M343.0 318.7h.01M343.8 388.6h.01M341.3 350.3h.01M343.2 368.5h.01M344.0 342.3h.01M343.9 344.5h.01M344.0 355.4h.01M343.1 383.9h.01M341.4 354.9h.01M342.1 322.7h.01M344.0 332.5h.01M341.3 328.2h.01M344.0 370.0h.01M342.0 354.1h.01M342.2 354.5h.01M340.8 339.4h.01M344.8 341.6h.01M343.7 363.7h.01M342.6 363.8h.01M354.2 364.7h.01M354.4 318.4h.01M354.7 361.8h.01M353.6 324.7h.01M354.1 301.3h.01M354.2 331.7h.01M354.2 346.5h.01M352.6 323.7h.01M353.2 307.7h.01M352.2 351.5h.01M352.0 375.6h.01M353.3 323.7h.01M351.9 320.7h.01M352.8 308.0h.01M352.4 379.4h.01M354.9 374.8h.01M355.0 356.3h.01M355.1 350.8h.01M357.8 314.3h.01M358.0 309.5h.01M358.0 315.1h.01M357.1 313.4h.01M357.2 294.8h.01M356.4 317.0h.01M357.2 348.3h.01M356.8 359.1h.01M355.7 344.1h.01M356.5 306.9h.01M356.3 318.6h.01M356.8 326.2h.01M357.8 347.4h.01M356.5 346.2h.01M357.2 293.2h.01M359.7 320.7h.01M359.9 356.9h.01M358.6 301.9h.01M359.4 322.7h.01M360.1 292.3h.01M360.9 349.5h.01M360.7 307.3h.01M360.5 300.6h.01M358.7 309.3h.01M360.0 341.9h.01M360.1 349.3h.01M359.0 309.3h.01M359.2 343.4h.01M359.2 327.0h.01M360.5 338.3h.01M360.6 303.6h.01M362.3 315.8h.01M359.2 325.7h.01M375.4 292.4h.01M374.4 301.7h.01M372.5 330.6h.01M364.9 281.3h.01M369.1 275.3h.01M367.4 283.4h.01M371.2 284.4h.01M374.5 313.7h.01M365.9 298.8h.01M364.6 295.1h.01M362.3 298.6h.01M367.3 298.8h.01M372.0 277.7h.01M373.4 277.4h.01M373.3 284.3h.01M365.9 332.0h.01M367.7 282.1h.01M368.7 286.3h.01M374.1 295.7h.01M370.4 269.2h.01M362.2 306.6h.01M364.9 289.2h.01M365.2 277.1h.01M367.2 281.8h.01M372.2 288.2h.01M372.0 282.9h.01M373.7 325.8h.01M364.0 282.1h.01M366.9 288.8h.01M367.6 301.6h.01M362.0 281.0h.01M362.8 293.3h.01M372.0 298.7h.01M375.9 286.4h.01M370.9 292.1h.01M371.4 279.7h.01M367.8 288.0h.01M371.9 309.1h.01M373.3 290.5h.01M373.2 294.1h.01M364.9 295.9h.01M364.7 318.6h.01M365.7 275.4h.01M374.7 290.2h.01M372.1 348.2h.01M368.1 303.3h.01M373.0 275.8h.01M367.9 347.7h.01M373.0 298.9h.01M369.6 275.4h.01M383.1 292.3h.01M386.7 294.4h.01M376.5 300.9h.01M378.7 341.8h.01M377.5 298.0h.01M383.8 301.8h.01M384.8 289.3h.01M381.5 292.3h.01M377.6 285.8h.01M386.6 287.3h.01M384.9 329.2h.01M382.8 319.1h.01M384.9 311.3h.01M377.5 339.6h.01M377.9 285.3h.01M383.9 342.2h.01M386.1 335.5h.01M384.0 354.2h.01M380.0 292.0h.01M386.0 292.4h.01M386.7 306.3h.01M380.1 305.8h.01M376.3 322.3h.01M379.6 293.2h.01M379.3 290.9h.01M385.4 309.1h.01M386.3 292.7h.01M378.1 290.4h.01M383.2 295.9h.01M378.0 312.6h.01M383.0 292.2h.01M381.3 358.8h.01M386.4 307.5h.01M378.5 314.1h.01M382.3 304.7h.01M386.2 298.6h.01M380.5 290.4h.01M376.3 348.9h.01M387.7 326.3h.01M389.6 284.8h.01M391.5 285.4h.01M388.2 324.2h.01M390.6 281.7h.01M387.1 289.3h.01M387.8 277.1h.01M391.3 274.5h.01M388.7 278.3h.01M391.6 280.5h.01M389.8 278.9h.01M388.0 284.2h.01M388.1 285.3h.01M388.3 287.9h.01M390.5 276.6h.01M389.8 294.9h.01M388.8 274.1h.01M387.1 308.2h.01M390.8 281.3h.01M390.8 278.1h.01M372.2 366.1h.01M373.2 359.5h.01M372.7 377.1h.01M373.5 380.2h.01M373.5 364.2h.01M372.3 353.1h.01M373.5 380.2h.01M388.7 317.0h.01M389.5 307.7h.01M387.8 305.0h.01M390.7 279.1h.01M388.1 317.9h.01M389.1 318.8h.01M390.5 292.6h.01M389.1 303.2h.01M391.0 276.9h.01M389.2 313.8h.01M679.8 369.8h.01M684.2 369.0h.01M695.5 377.2h.01M687.7 369.6h.01M678.6 371.0h.01M695.7 373.4h.01M686.3 367.7h.01M700.3 376.7h.01M701.2 376.2h.01M697.7 372.8h.01M699.4 377.2h.01M680.3 371.2h.01M686.0 366.6h.01M694.1 372.8h.01M702.7 382.4h.01M684.6 365.7h.01M681.2 367.7h.01M686.2 371.7h.01M686.7 369.4h.01M687.9 370.1h.01M699.8 375.5h.01M693.4 372.5h.01M467.9 281.8h.01M475.7 288.5h.01M472.9 291.5h.01M472.7 292.4h.01M466.3 279.4h.01M473.7 292.0h.01M476.2 288.3h.01M475.2 290.1h.01M475.7 289.8h.01M470.1 288.2h.01M472.1 292.3h.01M475.9 289.1h.01M473.6 291.0h.01M475.3 292.8h.01M476.0 288.8h.01M476.2 287.8h.01M470.7 287.9h.01M474.5 291.0h.01M466.4 279.1h.01M468.0 284.2h.01M471.5 288.6h.01M469.9 287.6h.01M474.0 293.8h.01M469.4 287.7h.01M470.3 289.7h.01M469.5 286.8h.01M471.7 291.1h.01M477.3 286.0h.01M473.8 296.1h.01M468.4 282.9h.01M466.4 278.2h.01M466.0 279.7h.01M477.9 282.8h.01M474.2 291.2h.01M477.7 284.3h.01M467.4 280.4h.01M470.4 287.6h.01M477.5 283.7h.01M475.2 289.4h.01M471.7 292.3h.01M481.2 291.2h.01M482.1 302.3h.01M481.6 292.8h.01M481.0 288.8h.01M484.5 307.4h.01M484.5 310.2h.01M482.0 296.3h.01M487.1 295.7h.01M487.1 293.6h.01M482.6 298.2h.01M484.6 305.1h.01M482.4 296.3h.01M480.1 288.5h.01M485.3 309.3h.01M485.3 304.7h.01M483.4 301.0h.01M480.0 286.2h.01M483.0 302.0h.01M485.5 302.6h.01M488.4 291.5h.01M482.0 292.8h.01M488.7 287.6h.01M488.7 297.7h.01M488.8 293.4h.01M484.5 306.3h.01M487.4 294.2h.01M481.5 294.0h.01M486.2 302.4h.01M487.0 296.9h.01M488.3 294.6h.01M644.1 330.6h.01M638.4 326.2h.01M653.1 340.4h.01M656.7 343.8h.01M637.7 325.2h.01M633.1 321.4h.01M646.3 335.3h.01M637.3 324.2h.01M653.0 340.0h.01M643.8 330.2h.01M642.4 329.1h.01M651.7 337.5h.01M650.7 338.5h.01M640.4 325.8h.01M650.4 337.9h.01M657.2 344.4h.01M657.9 342.8h.01M651.9 337.5h.01M656.7 342.9h.01M635.4 323.7h.01M645.8 332.5h.01M637.1 325.1h.01M655.6 343.5h.01M648.5 335.6h.01M656.7 342.8h.01M642.6 328.6h.01M640.3 326.9h.01M641.0 329.1h.01M643.4 330.2h.01M633.1 321.3h.01M649.3 337.4h.01M638.9 326.1h.01M653.8 340.4h.01M653.2 339.1h.01M657.3 344.3h.01M636.3 324.7h.01M658.6 345.3h.01M642.8 329.2h.01M634.8 323.1h.01M636.2 324.6h.01M610.3 325.4h.01M620.2 321.1h.01M617.8 317.6h.01M619.8 323.3h.01M608.0 315.0h.01M605.5 315.8h.01M623.8 319.8h.01M620.2 321.7h.01M606.2 315.0h.01M622.3 321.0h.01M618.4 319.7h.01M608.6 317.0h.01M616.2 314.1h.01M610.9 329.8h.01M607.4 316.0h.01M608.3 315.8h.01M613.8 315.8h.01M619.1 323.0h.01M610.2 322.4h.01M610.3 323.4h.01M622.1 319.8h.01M610.8 326.4h.01M613.5 314.9h.01M605.4 314.0h.01M613.5 314.5h.01M484.2 300.8h.01M484.9 305.6h.01M484.6 308.9h.01M484.8 313.0h.01M485.2 314.7h.01M485.0 319.0h.01M474.5 291.0h.01M474.4 292.7h.01M474.9 295.2h.01M516.0 284.4h.01M515.7 287.5h.01M586.0 340.0h.01M586.0 386.5h.01M631.6 323.5h.01M631.5 325.7h.01M631.6 327.7h.01M632.0 331.7h.01M637.1 325.9h.01M637.7 329.9h.01M637.7 332.6h.01M637.8 335.1h.01M637.7 339.7h.01M636.7 343.4h.01M646.5 328.6h.01M646.3 334.4h.01M646.5 336.1h.01M646.3 341.4h.01M646.6 345.3h.01M646.1 349.6h.01M646.4 353.6h.01M647.0 358.2h.01M646.2 361.8h.01M656.5 341.9h.01M657.0 344.4h.01M657.5 348.1h.01M656.8 351.5h.01M657.0 355.5h.01M657.3 357.9h.01M657.3 362.9h.01M657.5 365.6h.01M656.5 370.5h.01M678.2 362.9h.01M678.8 364.8h.01M678.1 367.1h.01M678.5 370.5h.01M694.9 367.7h.01M694.8 370.8h.01M695.2 372.9h.01M694.5 375.0h.01M694.5 378.4h.01M694.2 380.8h.01M694.2 383.6h.01" stroke="#00ff00" stroke-width="3.4" stroke-linecap="round" fill="none"/>
<path d="M391.6 242.4h.01M391.8 244.7h.01M392.0 245.5h.01M392.2 241.3h.01M392.4 239.8h.01M392.6 241.3h.01M392.8 244.7h.01M393.0 243.0h.01M393.2 245.1h.01M393.4 243.3h.01M393.6 243.5h.01M393.8 243.2h.01M394.0 239.5h.01M394.2 241.1h.01M394.4 241.1h.01M394.6 240.7h.01M394.8 238.0h.01M395.0 237.8h.01M395.2 239.0h.01M395.4 241.2h.01M395.6 238.6h.01M395.8 240.1h.01M396.0 237.8h.01M396.2 238.7h.01M396.4 235.4h.01M396.6 234.4h.01M396.8 233.3h.01M397.0 233.5h.01M397.2 234.2h.01M397.4 233.9h.01M397.6 231.0h.01M397.8 233.4h.01M398.0 236.3h.01M398.2 236.2h.01M398.4 234.2h.01M398.6 233.3h.01M398.8 237.3h.01M399.0 235.7h.01M399.2 235.2h.01M399.4 237.7h.01M399.6 236.5h.01M399.8 236.2h.01M400.0 236.9h.01M400.2 234.4h.01M400.4 238.3h.01M400.6 234.7h.01M400.8 235.6h.01M401.0 237.0h.01M401.2 235.1h.01M401.4 237.4h.01M401.6 237.3h.01M401.8 235.5h.01M402.0 238.3h.01M402.2 235.2h.01M402.4 235.9h.01M402.6 238.7h.01M402.8 237.8h.01M403.0 237.6h.01M403.2 238.4h.01M403.4 238.1h.01M403.6 240.0h.01M403.8 242.3h.01M404.0 240.8h.01M404.2 238.8h.01M404.4 240.0h.01M404.6 241.7h.01M404.8 242.5h.01M405.0 244.2h.01M405.2 245.0h.01M405.4 242.3h.01M405.6 246.2h.01M405.8 244.1h.01M406.0 244.5h.01M406.2 241.4h.01M406.4 244.3h.01M406.6 243.0h.01M406.8 243.2h.01M407.0 239.5h.01M407.2 242.8h.01M407.4 242.1h.01M407.6 238.7h.01M407.8 241.1h.01M408.0 238.8h.01M408.2 237.7h.01M408.4 237.8h.01M408.6 239.6h.01M408.8 239.7h.01M409.0 241.5h.01M409.2 241.0h.01M409.4 237.2h.01M409.6 237.7h.01M409.8 237.3h.01M410.0 238.6h.01M410.2 235.8h.01M410.4 236.0h.01M410.6 239.1h.01M410.8 238.8h.01M411.0 236.4h.01M411.2 234.7h.01M411.4 236.1h.01M411.6 234.9h.01M411.8 234.9h.01M412.0 231.9h.01M412.2 233.1h.01M412.4 230.0h.01M412.6 227.0h.01M412.8 228.9h.01M413.0 229.8h.01M413.2 229.2h.01M413.4 228.6h.01M413.6 225.3h.01M413.8 228.3h.01M414.0 226.2h.01M414.2 227.8h.01M414.4 228.4h.01M414.6 228.4h.01M414.8 231.6h.01M415.0 227.4h.01M415.2 231.2h.01M415.4 225.1h.01M415.6 225.8h.01M415.8 227.0h.01M416.0 220.7h.01M416.2 222.4h.01M416.4 224.6h.01M416.6 224.6h.01M416.8 222.0h.01M417.0 222.4h.01M417.2 223.7h.01M417.4 223.0h.01M417.6 224.6h.01M417.8 226.2h.01M418.0 223.2h.01M418.2 221.9h.01M418.4 225.0h.01M418.6 225.4h.01M418.8 221.1h.01M419.0 221.0h.01M419.2 219.6h.01M419.4 223.2h.01M419.6 224.5h.01M419.8 225.6h.01M420.0 223.5h.01M420.2 221.9h.01M420.4 221.1h.01M420.6 221.2h.01M420.8 221.3h.01M421.0 218.4h.01M421.2 222.6h.01M421.4 223.3h.01M421.6 220.6h.01M421.8 221.4h.01M422.0 221.5h.01M422.2 222.8h.01M422.4 219.8h.01M422.6 222.5h.01M422.8 223.9h.01M423.0 223.1h.01M423.2 222.0h.01M423.4 220.6h.01M423.6 219.4h.01M423.8 216.1h.01M424.0 213.7h.01M424.2 214.1h.01M424.4 214.6h.01M424.6 215.0h.01M424.8 215.5h.01M425.0 217.3h.01M425.2 217.1h.01M425.4 216.6h.01M425.6 218.6h.01M425.8 214.3h.01M426.0 218.5h.01M426.2 215.8h.01M426.4 217.5h.01M426.6 217.7h.01M426.8 218.0h.01M427.0 216.2h.01M427.2 217.9h.01M427.4 220.6h.01M427.6 219.1h.01M427.8 219.8h.01M428.0 220.7h.01M428.2 222.2h.01M428.4 221.2h.01M428.6 224.0h.01M428.8 225.0h.01M429.0 226.3h.01M429.2 223.0h.01M429.4 225.1h.01M429.6 225.5h.01M429.8 223.8h.01M430.0 222.8h.01M430.2 223.2h.01M430.4 225.1h.01M430.6 225.4h.01M430.8 222.4h.01M431.0 223.8h.01M431.2 222.7h.01M431.4 219.7h.01M431.6 222.2h.01M431.8 221.6h.01M432.0 220.7h.01M432.2 223.4h.01M432.4 220.4h.01M432.6 221.8h.01M432.8 220.1h.01M433.0 218.5h.01M433.2 219.6h.01M433.4 216.1h.01M433.6 214.0h.01M433.8 217.8h.01M434.0 215.1h.01M434.2 216.2h.01M434.4 216.8h.01M434.6 216.6h.01M434.8 221.6h.01M435.0 219.1h.01M435.2 219.6h.01M435.4 222.8h.01M435.6 223.7h.01M435.8 220.3h.01M436.0 220.0h.01M436.2 222.9h.01M436.4 219.7h.01M436.6 220.5h.01M436.8 218.6h.01M437.0 223.2h.01M437.2 223.1h.01M437.4 220.0h.01M437.6 219.3h.01M437.8 219.4h.01M438.0 217.3h.01M438.2 220.5h.01M438.4 217.7h.01M438.6 221.5h.01M438.8 219.8h.01M439.0 220.8h.01M439.2 217.9h.01M439.4 219.0h.01M439.6 220.6h.01M439.8 219.5h.01M440.0 221.0h.01M440.2 217.6h.01M440.4 218.5h.01M440.6 218.1h.01M440.8 221.6h.01M441.0 219.1h.01M441.2 219.8h.01M441.4 218.4h.01M441.6 218.5h.01M441.8 216.1h.01M442.0 220.0h.01M442.2 215.7h.01M442.4 216.0h.01M442.6 216.0h.01M442.8 217.0h.01M443.0 217.0h.01M443.2 217.2h.01M443.4 215.9h.01M443.6 214.2h.01M443.8 214.6h.01M444.0 214.4h.01M444.2 214.4h.01M444.4 215.6h.01M444.6 216.5h.01M444.8 217.1h.01M445.0 217.0h.01M445.2 217.4h.01M445.4 217.8h.01M445.6 219.1h.01M445.8 223.3h.01M446.0 222.6h.01M446.2 225.3h.01M446.4 223.3h.01M446.6 225.9h.01M446.8 223.3h.01M447.0 222.8h.01M447.2 223.7h.01M447.4 223.9h.01M447.6 222.9h.01M447.8 220.2h.01M448.0 224.5h.01M448.2 223.0h.01M448.4 224.4h.01M448.6 222.7h.01M448.8 226.8h.01M449.0 225.8h.01M449.2 226.4h.01M449.4 225.4h.01M449.6 225.3h.01M449.8 227.6h.01M450.0 224.8h.01M450.2 227.1h.01M450.4 227.3h.01M450.6 225.1h.01M450.8 222.1h.01M451.0 221.3h.01M451.2 220.6h.01M451.4 224.6h.01M451.6 223.8h.01M451.8 223.9h.01M452.0 223.6h.01M452.2 223.8h.01M452.4 223.6h.01M452.6 223.3h.01M452.8 224.7h.01M453.0 225.0h.01M453.2 222.0h.01M453.4 222.3h.01M453.6 223.4h.01M453.8 222.0h.01M454.0 220.0h.01M454.2 223.3h.01M454.4 219.7h.01M454.6 218.3h.01M454.8 220.0h.01M455.0 218.9h.01M455.2 220.2h.01M455.4 221.8h.01M455.6 219.8h.01M455.8 218.4h.01M456.0 216.7h.01M456.2 217.1h.01M456.4 215.0h.01M456.6 215.3h.01M456.8 215.7h.01M457.0 216.5h.01M457.2 218.8h.01M457.4 219.4h.01M457.6 220.9h.01M457.8 222.7h.01M458.0 225.6h.01M458.2 223.4h.01M458.4 227.2h.01M458.6 222.7h.01M458.8 224.4h.01M459.0 226.8h.01M459.2 228.7h.01M459.4 231.6h.01M459.6 233.8h.01M459.8 233.0h.01M460.0 230.2h.01M460.2 234.7h.01M460.4 236.1h.01M460.6 236.9h.01M460.8 238.8h.01M461.0 238.1h.01M461.2 238.5h.01M461.4 239.1h.01M461.6 240.8h.01M461.8 240.2h.01M462.0 243.5h.01M462.2 244.1h.01M462.4 244.1h.01M462.6 244.7h.01M462.8 242.3h.01M463.0 244.5h.01M463.2 241.3h.01M463.4 241.1h.01M463.6 239.4h.01M463.8 242.6h.01M464.0 243.8h.01M464.2 242.0h.01M464.4 240.2h.01M464.6 242.9h.01M464.8 241.8h.01M465.0 243.7h.01M465.2 241.3h.01M465.4 239.9h.01M465.6 240.1h.01M465.8 242.0h.01M466.0 241.9h.01M466.2 243.4h.01M466.4 243.0h.01M466.6 244.9h.01M466.8 245.5h.01M467.0 243.6h.01M467.2 244.2h.01M467.4 246.6h.01M467.6 243.7h.01M467.8 245.8h.01M468.0 244.0h.01M468.2 245.5h.01M468.4 247.6h.01M468.6 248.9h.01M468.8 245.5h.01M469.0 248.5h.01M469.2 247.0h.01M469.4 249.8h.01M469.6 246.8h.01M469.8 246.9h.01M470.0 248.4h.01M470.2 250.8h.01M470.4 247.7h.01M470.6 246.7h.01M470.8 248.7h.01M471.0 249.1h.01M471.2 249.1h.01M471.4 247.1h.01M471.6 248.5h.01M471.8 249.8h.01M472.0 247.9h.01M472.2 249.2h.01M472.4 249.7h.01M472.6 250.0h.01M472.8 250.4h.01M473.0 253.2h.01M473.2 255.2h.01M473.4 255.8h.01M473.6 253.0h.01M473.8 252.2h.01M474.0 256.1h.01M474.2 255.0h.01M474.4 252.2h.01M474.6 253.8h.01M474.8 251.4h.01M475.0 252.0h.01M475.2 249.8h.01M475.4 252.6h.01M475.6 251.6h.01M475.8 249.5h.01M476.0 249.8h.01M476.2 247.9h.01M476.4 247.0h.01M476.6 245.0h.01M476.8 242.9h.01M477.0 243.7h.01M477.2 244.2h.01M477.4 242.4h.01M477.6 243.6h.01M477.8 244.0h.01M478.0 241.6h.01M478.2 242.9h.01M478.4 243.3h.01M478.6 244.2h.01M478.8 243.0h.01M479.0 247.0h.01M479.2 243.0h.01M479.4 243.8h.01M479.6 247.7h.01M479.8 246.1h.01M480.0 246.4h.01M480.2 247.6h.01M480.4 248.3h.01M480.6 246.4h.01M480.8 246.5h.01M481.0 249.2h.01M481.2 251.2h.01M481.4 248.1h.01M481.6 248.3h.01M481.8 250.3h.01M482.0 250.4h.01M482.2 250.8h.01M482.4 252.9h.01M482.6 253.5h.01M482.8 253.4h.01M483.0 254.1h.01M483.2 254.4h.01M483.4 252.4h.01M483.6 253.7h.01M483.8 253.6h.01M484.0 253.5h.01M484.2 255.3h.01M484.4 257.2h.01M484.6 258.7h.01M484.8 257.9h.01M485.0 258.2h.01M485.2 256.6h.01M485.4 258.2h.01M485.6 255.9h.01M485.8 258.5h.01M486.0 256.9h.01M486.2 256.2h.01M486.4 254.3h.01M486.6 254.7h.01M486.8 252.8h.01M487.0 254.4h.01M487.2 252.2h.01M487.4 252.4h.01M487.6 253.6h.01M487.8 251.9h.01M488.0 249.5h.01M488.2 252.0h.01M488.4 250.1h.01M488.6 249.5h.01M488.8 249.1h.01M489.0 249.1h.01M489.2 247.4h.01M489.4 248.3h.01M489.6 245.9h.01M489.8 246.1h.01M490.0 247.2h.01M490.2 246.0h.01M490.4 246.9h.01M490.6 246.1h.01M490.8 245.6h.01M491.0 244.2h.01M491.2 242.8h.01M491.4 242.7h.01M491.6 243.5h.01M491.8 241.9h.01M492.0 240.6h.01M492.2 238.3h.01M492.4 239.8h.01M492.6 243.7h.01M492.8 242.8h.01M493.0 241.4h.01M493.2 242.8h.01M493.4 242.4h.01M493.6 240.4h.01M493.8 241.9h.01M494.0 240.9h.01M494.2 239.2h.01M494.4 238.8h.01M494.6 240.3h.01M494.8 239.3h.01M495.0 238.7h.01M495.2 239.1h.01M495.4 236.7h.01M495.6 236.2h.01M495.8 237.7h.01M496.0 236.9h.01M496.2 236.3h.01M496.4 234.8h.01M496.6 235.6h.01M496.8 236.9h.01M497.0 234.9h.01M497.2 236.2h.01M497.4 237.5h.01M497.6 235.8h.01M497.8 237.7h.01M498.0 237.4h.01M498.2 238.0h.01M498.4 237.6h.01M498.6 237.3h.01M498.8 237.2h.01M499.0 235.7h.01M499.2 237.8h.01M499.4 237.6h.01M499.6 236.4h.01M499.8 237.3h.01M500.0 237.8h.01M500.2 239.2h.01M500.4 239.8h.01M500.6 240.0h.01M500.8 237.9h.01M501.0 238.9h.01M501.2 238.0h.01M501.4 237.6h.01M501.6 239.7h.01M501.8 240.2h.01M502.0 237.4h.01M502.2 238.1h.01M502.4 240.7h.01M502.6 240.1h.01M502.8 239.9h.01M503.0 239.4h.01M503.2 240.7h.01M503.4 239.9h.01M503.6 240.4h.01M503.8 243.1h.01M504.0 243.2h.01M504.2 243.7h.01M504.4 246.2h.01M504.6 244.8h.01M504.8 245.6h.01M505.0 246.6h.01M505.2 247.1h.01M505.4 246.5h.01M505.6 248.3h.01M505.8 246.9h.01M506.0 246.3h.01M506.2 246.6h.01M506.4 245.2h.01M506.6 245.5h.01M506.8 244.5h.01M507.0 244.5h.01M507.2 243.4h.01M507.4 243.0h.01M507.6 242.5h.01M507.8 241.7h.01M508.0 239.7h.01M508.2 240.1h.01M508.4 240.2h.01M508.6 241.5h.01M508.8 239.1h.01M509.0 238.7h.01M509.2 240.3h.01M509.4 240.0h.01M509.6 239.3h.01M509.8 238.3h.01M510.0 238.0h.01M510.2 239.7h.01M510.4 238.5h.01M510.6 239.5h.01M510.8 239.7h.01M511.0 238.5h.01M511.2 238.5h.01M511.4 239.9h.01M511.6 239.9h.01M511.8 242.5h.01M512.0 242.2h.01M512.2 240.2h.01M512.4 242.2h.01M512.6 242.0h.01M512.8 240.9h.01M513.0 240.9h.01M513.2 240.5h.01M513.4 242.3h.01M513.6 243.7h.01M513.8 242.1h.01M514.0 243.9h.01M514.2 243.3h.01M514.4 242.8h.01M514.6 243.4h.01M514.8 244.3h.01M515.0 243.1h.01M515.2 244.5h.01M515.4 242.7h.01M515.6 242.9h.01M515.8 243.1h.01M516.0 244.1h.01M516.2 244.4h.01M516.4 244.1h.01M516.6 245.0h.01M516.8 244.2h.01M517.0 242.8h.01M517.2 245.0h.01M517.4 244.5h.01M517.6 243.7h.01M517.8 244.2h.01M518.0 243.0h.01M518.2 242.5h.01M518.4 242.8h.01M518.6 244.3h.01M518.8 242.8h.01M519.0 243.6h.01M519.2 242.5h.01M519.4 243.6h.01M519.6 242.7h.01M519.8 242.0h.01M520.0 243.9h.01M520.2 243.2h.01M520.4 245.4h.01M520.6 245.2h.01M520.8 243.0h.01M521.0 244.2h.01M521.2 243.6h.01M521.4 242.4h.01M521.6 243.3h.01M521.8 243.6h.01M522.0 244.5h.01M522.2 243.8h.01M522.4 241.8h.01M522.6 242.0h.01M522.8 241.8h.01M523.0 240.6h.01M523.2 241.5h.01M523.4 241.5h.01M523.6 243.9h.01M523.8 243.4h.01M524.0 243.2h.01M524.2 242.0h.01M524.4 243.1h.01M524.6 241.0h.01M524.8 240.7h.01M525.0 241.0h.01M525.2 241.2h.01M525.4 239.7h.01M525.6 238.2h.01M525.8 240.6h.01M526.0 240.9h.01M526.2 240.9h.01M526.4 240.8h.01M526.6 240.4h.01M526.8 240.2h.01M527.0 239.3h.01M527.2 239.7h.01M527.4 237.5h.01M527.6 238.3h.01M527.8 238.4h.01M528.0 237.6h.01M528.2 238.9h.01M528.4 239.6h.01M528.6 239.0h.01M528.8 239.2h.01M529.0 240.6h.01M529.2 239.8h.01M529.4 240.2h.01M529.6 240.7h.01M529.8 240.6h.01M530.0 241.6h.01M530.2 241.9h.01M530.4 240.7h.01M530.6 242.4h.01M530.8 242.1h.01M531.0 241.3h.01M531.2 241.2h.01M531.4 240.6h.01M531.6 240.4h.01M531.8 241.5h.01M532.0 241.6h.01M532.2 241.0h.01M532.4 240.9h.01M532.6 240.4h.01M532.8 241.5h.01M533.0 241.1h.01M533.2 242.6h.01M533.4 243.5h.01M533.6 243.7h.01M533.8 243.4h.01M534.0 243.2h.01M534.2 245.0h.01M534.4 243.0h.01M534.6 243.7h.01M534.8 244.9h.01M535.0 244.5h.01M535.2 246.4h.01M535.4 246.4h.01M535.6 246.1h.01M535.8 243.9h.01M536.0 244.0h.01M536.2 244.9h.01M536.4 244.8h.01M536.6 246.1h.01M536.8 243.8h.01M537.0 245.6h.01M537.2 244.3h.01M537.4 245.4h.01M537.6 244.8h.01M537.8 245.8h.01M538.0 244.7h.01M538.2 246.0h.01M538.4 244.8h.01M538.6 245.4h.01M538.8 244.5h.01M539.0 245.7h.01M539.2 245.4h.01M539.4 247.4h.01M539.6 247.1h.01M539.8 248.0h.01M540.0 248.3h.01M540.2 250.3h.01M540.4 249.4h.01M540.6 250.3h.01M540.8 249.7h.01M541.0 250.2h.01M541.2 251.7h.01M541.4 252.2h.01M541.6 252.5h.01M541.8 252.9h.01M542.0 251.8h.01M542.2 252.9h.01M542.4 253.3h.01M542.6 254.4h.01M542.8 252.2h.01M543.0 252.2h.01M543.2 252.7h.01M543.4 252.5h.01M543.6 254.0h.01M543.8 254.1h.01M544.0 253.7h.01M544.2 252.8h.01M544.4 254.0h.01M544.6 254.2h.01M544.8 253.6h.01M545.0 253.7h.01M545.2 256.6h.01M545.4 256.0h.01M545.6 256.6h.01M545.8 256.6h.01M546.0 256.5h.01M546.2 255.5h.01M546.4 256.1h.01M546.6 257.2h.01M546.8 259.6h.01M547.0 259.1h.01M547.2 258.0h.01M547.4 259.1h.01M547.6 259.2h.01M547.8 257.8h.01M548.0 257.2h.01M548.2 258.0h.01M548.4 258.3h.01M548.6 258.0h.01M548.8 258.4h.01M549.0 259.6h.01M549.2 257.7h.01M549.4 257.7h.01M549.6 256.9h.01M549.8 257.0h.01M550.0 257.9h.01M550.2 256.1h.01M550.4 257.3h.01M550.6 257.5h.01M550.8 257.4h.01M551.0 257.3h.01M551.2 256.5h.01M551.4 256.3h.01M551.6 256.4h.01M551.8 254.4h.01M552.0 254.8h.01M552.2 254.0h.01M552.4 254.2h.01M552.6 254.1h.01M552.8 252.2h.01M553.0 251.3h.01M553.2 252.8h.01M553.4 251.6h.01M553.6 252.3h.01M553.8 253.3h.01M554.0 250.6h.01M554.2 251.3h.01M554.4 250.4h.01M554.6 251.7h.01M554.8 251.1h.01M555.0 251.1h.01M555.2 251.3h.01M555.4 252.8h.01M555.6 251.0h.01M555.8 252.3h.01M556.0 251.4h.01M556.2 250.8h.01M556.4 252.4h.01M556.6 252.0h.01M556.8 250.9h.01M557.0 251.1h.01M557.2 252.2h.01M557.4 251.7h.01M557.6 251.1h.01M557.8 252.1h.01M558.0 251.8h.01M558.2 252.3h.01M558.4 251.7h.01M558.6 252.2h.01M558.8 251.3h.01M559.0 250.4h.01M559.2 250.5h.01M559.4 250.7h.01M559.6 249.4h.01M559.8 249.5h.01M560.0 249.2h.01M560.2 249.4h.01M560.4 248.8h.01M560.6 248.3h.01M560.8 248.0h.01M561.0 248.6h.01M561.2 248.7h.01M561.4 249.9h.01M561.6 250.6h.01M561.8 250.8h.01M562.0 251.4h.01M562.2 250.3h.01M562.4 250.2h.01M562.6 251.0h.01M562.8 251.6h.01M563.0 251.8h.01M563.2 252.1h.01M563.4 251.0h.01M563.6 249.9h.01M563.8 250.4h.01M564.0 251.5h.01M564.2 251.9h.01M564.4 251.9h.01M564.6 251.3h.01M564.8 252.4h.01M565.0 251.3h.01M565.2 250.1h.01M565.4 251.6h.01M565.6 250.8h.01M565.8 250.0h.01M566.0 250.3h.01M566.2 251.1h.01M566.4 250.1h.01M566.6 252.6h.01M566.8 252.3h.01M567.0 250.8h.01M567.2 252.1h.01M567.4 251.4h.01M567.6 252.9h.01M567.8 252.9h.01M568.0 250.6h.01M568.2 252.1h.01M568.4 250.9h.01M568.6 252.2h.01M568.8 250.4h.01M569.0 251.3h.01M569.2 250.7h.01M569.4 250.1h.01M569.6 249.5h.01M569.8 249.7h.01M570.0 250.0h.01M570.2 249.6h.01M570.4 250.6h.01M570.6 249.1h.01M570.8 247.8h.01M571.0 247.2h.01M571.2 248.2h.01M571.4 248.0h.01M571.6 248.0h.01M571.8 248.4h.01M572.0 248.5h.01M572.2 247.8h.01M572.4 247.5h.01M572.6 246.8h.01M572.8 247.8h.01M573.0 248.4h.01M573.2 248.4h.01M573.4 249.0h.01M573.6 249.9h.01M573.8 250.3h.01M574.0 250.1h.01M574.2 249.2h.01M574.4 250.0h.01M574.6 249.8h.01M574.8 250.9h.01M575.0 249.3h.01M575.2 251.3h.01M575.4 250.0h.01M575.6 250.1h.01M575.8 251.5h.01M576.0 250.9h.01M576.2 252.0h.01M576.4 252.8h.01M576.6 251.3h.01M576.8 252.9h.01M577.0 252.7h.01M577.2 253.6h.01M577.4 253.8h.01M577.6 254.6h.01M577.8 256.1h.01M578.0 255.9h.01M578.2 255.9h.01M578.4 256.8h.01M578.6 256.9h.01M578.8 256.8h.01M579.0 254.6h.01M579.2 256.2h.01M579.4 257.6h.01M579.6 256.5h.01M579.8 257.5h.01M580.0 257.4h.01M580.2 259.0h.01M580.4 259.1h.01M580.6 260.5h.01M580.8 259.0h.01M581.0 260.3h.01M581.2 261.4h.01M581.4 260.9h.01M581.6 260.5h.01M581.8 262.0h.01M582.0 261.2h.01M582.2 260.8h.01M582.4 261.5h.01M582.6 262.8h.01M582.8 262.0h.01M583.0 261.9h.01M583.2 261.8h.01M583.4 260.3h.01M583.6 261.7h.01M583.8 261.3h.01M584.0 261.7h.01M584.2 262.8h.01M584.4 261.2h.01M584.6 263.5h.01M584.8 263.5h.01M585.0 264.0h.01M585.2 262.2h.01M585.4 263.8h.01M585.6 261.8h.01M585.8 263.3h.01M586.0 263.8h.01M586.2 264.6h.01M586.4 263.6h.01M586.6 264.5h.01M586.8 263.3h.01M587.0 262.3h.01M587.2 262.5h.01M587.4 264.1h.01M587.6 263.4h.01M587.8 265.0h.01M588.0 264.5h.01M588.2 263.2h.01M588.4 263.3h.01M588.6 262.1h.01M588.8 264.2h.01M589.0 263.9h.01M589.2 265.2h.01M589.4 265.7h.01M589.6 265.7h.01M589.8 263.6h.01M590.0 264.7h.01M590.2 264.2h.01M590.4 263.9h.01M590.6 262.9h.01M590.8 263.1h.01M591.0 264.6h.01M591.2 263.8h.01M591.4 263.7h.01M591.6 265.2h.01M591.8 265.4h.01M592.0 266.4h.01M592.2 266.5h.01M592.4 266.4h.01M592.6 266.0h.01M592.8 266.4h.01M593.0 265.2h.01M593.2 267.6h.01M593.4 267.1h.01M593.6 266.3h.01M593.8 265.9h.01M594.0 265.3h.01M594.2 266.6h.01M594.4 266.6h.01M594.6 264.7h.01M594.8 266.3h.01M595.0 266.4h.01M595.2 264.9h.01M595.4 266.9h.01M595.6 265.9h.01M595.8 266.2h.01M596.0 268.2h.01M596.2 267.4h.01M596.4 268.4h.01M596.6 268.7h.01M596.8 268.9h.01M597.0 268.0h.01M597.2 267.6h.01M597.4 268.6h.01M597.6 268.4h.01M597.8 267.5h.01M598.0 269.1h.01M598.2 269.2h.01M598.4 268.9h.01M598.6 267.5h.01M598.8 268.6h.01M599.0 268.4h.01M599.2 267.6h.01M599.4 268.1h.01M599.6 267.2h.01M599.8 268.2h.01M600.0 267.6h.01M600.2 269.1h.01M600.4 267.9h.01M600.6 267.5h.01M600.8 266.5h.01M601.0 266.8h.01M601.2 269.3h.01M601.4 270.1h.01M601.6 269.3h.01M601.8 268.7h.01M602.0 268.0h.01M602.2 268.2h.01M602.4 268.7h.01M602.6 269.5h.01M602.8 269.7h.01M603.0 269.5h.01M603.2 268.9h.01M603.4 269.4h.01M603.6 270.0h.01M603.8 268.9h.01M604.0 269.5h.01M604.2 269.9h.01M604.4 270.7h.01M604.6 270.4h.01M604.8 270.7h.01M605.0 270.7h.01M605.2 271.4h.01M605.4 271.6h.01M605.6 271.7h.01M605.8 273.2h.01M606.0 273.5h.01M606.2 271.5h.01M606.4 272.4h.01M606.6 273.8h.01M606.8 273.3h.01M607.0 272.9h.01M607.2 274.6h.01M607.4 274.2h.01M607.6 273.9h.01M607.8 273.3h.01M608.0 273.8h.01M608.2 272.0h.01M608.4 272.9h.01M608.6 272.9h.01M608.8 273.9h.01M609.0 273.3h.01M609.2 275.1h.01M609.4 277.0h.01M609.6 279.2h.01M609.8 280.6h.01M610.0 282.3h.01M610.2 283.5h.01M610.4 284.6h.01M610.6 285.7h.01M610.8 287.4h.01M611.0 287.1h.01M611.2 286.8h.01M611.4 284.0h.01M611.6 281.5h.01M611.8 279.9h.01M612.0 279.7h.01M612.2 276.2h.01M612.4 274.8h.01M612.6 272.9h.01M612.8 271.7h.01M613.0 271.8h.01M613.2 271.8h.01M613.4 270.7h.01M613.6 270.8h.01M613.8 270.6h.01M614.0 269.2h.01M614.2 269.6h.01M614.4 267.9h.01M614.6 268.7h.01M614.8 268.1h.01M615.0 268.0h.01M615.2 268.5h.01M615.4 269.8h.01M615.6 269.2h.01M615.8 269.5h.01M616.0 271.5h.01M616.2 270.7h.01M616.4 270.9h.01M616.6 271.7h.01M616.8 272.5h.01M617.0 271.5h.01M617.2 272.2h.01M617.4 272.9h.01M617.6 274.2h.01M617.8 275.8h.01M618.0 277.8h.01M618.2 279.9h.01M618.4 281.5h.01M618.6 283.2h.01M618.8 284.4h.01M619.0 285.9h.01M619.2 286.5h.01M619.4 285.8h.01M619.6 283.2h.01M619.8 283.0h.01M620.0 279.9h.01M620.2 279.9h.01M620.4 278.2h.01M620.6 277.5h.01M620.8 278.0h.01M621.0 278.5h.01M621.2 278.2h.01M621.4 278.1h.01M621.6 278.4h.01M621.8 278.5h.01M622.0 278.7h.01M622.2 278.1h.01M622.4 277.9h.01M622.6 277.8h.01M622.8 277.1h.01M623.0 278.7h.01M623.2 277.1h.01M623.4 277.9h.01M623.6 278.2h.01M623.8 278.3h.01M624.0 278.1h.01M624.2 277.5h.01M624.4 277.0h.01M624.6 276.9h.01M624.8 277.0h.01M625.0 275.9h.01M625.2 277.2h.01M625.4 276.9h.01M625.6 277.4h.01M625.8 276.4h.01M626.0 277.0h.01M626.2 278.1h.01M626.4 276.6h.01M626.6 278.7h.01M626.8 277.7h.01M627.0 276.9h.01M627.2 275.6h.01M627.4 277.3h.01M627.6 275.6h.01M627.8 275.4h.01M628.0 275.7h.01M628.2 275.5h.01M628.4 276.1h.01M628.6 276.0h.01M628.8 275.3h.01M629.0 275.7h.01M629.2 275.0h.01M629.4 275.8h.01M629.6 275.3h.01M629.8 274.9h.01M630.0 274.5h.01M630.2 275.2h.01M630.4 275.2h.01M630.6 275.1h.01M630.8 273.7h.01M631.0 273.3h.01M631.2 273.1h.01M631.4 272.7h.01M631.6 273.5h.01M631.8 274.4h.01M632.0 274.9h.01M632.2 275.5h.01M632.4 275.8h.01M632.6 274.7h.01M632.8 275.6h.01M633.0 276.8h.01M633.2 277.0h.01M633.4 277.0h.01M633.6 277.8h.01M633.8 278.0h.01M634.0 278.8h.01M634.2 280.0h.01M634.4 279.9h.01M634.6 280.4h.01M634.8 280.4h.01M635.0 280.2h.01M635.2 281.0h.01M635.4 282.1h.01M635.6 282.2h.01M635.8 283.3h.01M636.0 281.7h.01M636.2 282.3h.01M636.4 282.5h.01M636.6 282.2h.01M636.8 282.8h.01M637.0 283.0h.01M637.2 283.4h.01M637.4 283.2h.01M637.6 283.1h.01M637.8 283.3h.01M638.0 282.1h.01M638.2 283.7h.01M638.4 282.8h.01M638.6 283.1h.01M638.8 284.6h.01M639.0 283.7h.01M639.2 282.8h.01M639.4 284.5h.01M639.6 284.7h.01M639.8 284.1h.01M640.0 283.3h.01M640.2 282.8h.01M640.4 283.2h.01M640.6 282.8h.01M640.8 283.8h.01M641.0 282.6h.01M641.2 282.8h.01M641.4 282.3h.01M641.6 283.6h.01M641.8 284.2h.01M642.0 283.8h.01M642.2 284.6h.01M642.4 284.9h.01M642.6 284.5h.01M642.8 285.1h.01M643.0 286.7h.01M643.2 285.6h.01M643.4 285.6h.01M643.6 286.7h.01M643.8 286.0h.01M644.0 287.5h.01M644.2 286.2h.01M644.4 287.9h.01M644.6 287.3h.01M644.8 287.5h.01M645.0 287.5h.01M645.2 287.1h.01M645.4 288.7h.01M645.6 288.3h.01M645.8 289.7h.01M646.0 289.0h.01M646.2 289.9h.01M646.4 290.7h.01M646.6 290.4h.01M646.8 290.3h.01M647.0 290.1h.01M647.2 290.7h.01M647.4 289.8h.01M647.6 289.7h.01M647.8 288.6h.01M648.0 290.1h.01M648.2 290.4h.01M648.4 290.3h.01M648.6 290.7h.01M648.8 291.2h.01M649.0 290.3h.01M649.2 291.5h.01M649.4 290.9h.01M649.6 291.3h.01M649.8 291.5h.01M650.0 290.9h.01M650.2 291.0h.01M650.4 291.1h.01M650.6 291.8h.01M650.8 292.9h.01M651.0 294.1h.01M651.2 294.0h.01M651.4 294.3h.01M651.6 295.4h.01M651.8 296.0h.01M652.0 294.7h.01M652.2 295.8h.01M652.4 294.9h.01M652.6 294.6h.01M652.8 294.2h.01M653.0 294.1h.01M653.2 294.3h.01M653.4 295.1h.01M653.6 296.2h.01M653.8 294.7h.01M654.0 294.9h.01M654.2 295.0h.01M654.4 297.3h.01M654.6 297.4h.01M654.8 296.4h.01M655.0 297.1h.01M655.2 297.7h.01M655.4 296.4h.01M655.6 298.0h.01M655.8 298.3h.01M656.0 298.4h.01M656.2 298.6h.01M656.4 299.0h.01M656.6 298.2h.01M656.8 299.4h.01M657.0 300.1h.01M657.2 301.8h.01M657.4 300.6h.01M657.6 300.7h.01M657.8 301.1h.01M658.0 299.9h.01M658.2 301.5h.01M658.4 301.8h.01M658.6 302.3h.01M658.8 302.1h.01M659.0 302.9h.01M659.2 302.9h.01M659.4 303.7h.01M659.6 305.1h.01M659.8 304.6h.01M660.0 305.5h.01M660.2 305.3h.01M660.4 305.3h.01M660.6 305.8h.01M660.8 305.6h.01M661.0 306.0h.01M661.2 305.3h.01M661.4 306.0h.01M661.6 306.7h.01M661.8 306.4h.01M662.0 306.2h.01M662.2 307.1h.01M662.4 306.4h.01M662.6 306.7h.01M662.8 307.6h.01M663.0 308.0h.01M663.2 307.3h.01M663.4 308.3h.01M663.6 309.1h.01M663.8 309.0h.01M664.0 309.2h.01M664.2 308.3h.01M664.4 308.8h.01M664.6 308.4h.01M664.8 308.2h.01M665.0 309.1h.01M665.2 308.5h.01M665.4 309.5h.01M665.6 309.6h.01M665.8 309.7h.01M666.0 310.5h.01M666.2 311.1h.01M666.4 311.1h.01M666.6 311.7h.01M666.8 310.5h.01M667.0 311.0h.01M667.2 310.4h.01M667.4 311.7h.01M667.6 311.6h.01M667.8 311.4h.01M668.0 312.8h.01M668.2 312.1h.01M668.4 311.6h.01M668.6 312.5h.01M668.8 312.7h.01M669.0 313.2h.01M669.2 311.7h.01M669.4 312.4h.01M669.6 314.2h.01M669.8 314.5h.01M670.0 313.7h.01M670.2 312.8h.01M670.4 313.1h.01M670.6 313.5h.01M670.8 314.0h.01M671.0 314.7h.01M671.2 314.1h.01M671.4 315.2h.01M671.6 314.3h.01M671.8 315.2h.01M672.0 315.5h.01M672.2 315.4h.01M672.4 316.7h.01M672.6 315.9h.01M672.8 316.7h.01M673.0 316.8h.01M673.2 316.9h.01M673.4 317.0h.01M673.6 317.1h.01M673.8 318.8h.01M674.0 318.3h.01M674.2 319.7h.01M674.4 319.1h.01M674.6 319.5h.01M674.8 319.3h.01M675.0 319.9h.01M675.2 319.4h.01M675.4 319.7h.01M675.6 321.1h.01M675.8 321.4h.01M676.0 321.0h.01M676.2 320.9h.01M676.4 320.5h.01M676.6 321.9h.01M676.8 324.0h.01M677.0 324.6h.01M677.2 325.7h.01M677.4 326.2h.01M677.6 327.9h.01M677.8 327.5h.01M678.0 328.2h.01M678.2 329.5h.01M678.4 329.7h.01M678.6 329.6h.01M678.8 330.1h.01M679.0 330.8h.01M679.2 330.5h.01M679.4 330.6h.01M679.6 329.4h.01M679.8 329.5h.01M680.0 328.7h.01M680.2 328.2h.01M680.4 328.4h.01M680.6 329.3h.01M680.8 329.3h.01M681.0 329.5h.01M681.2 329.0h.01M681.4 328.5h.01M681.6 329.1h.01M681.8 328.3h.01M682.0 328.2h.01M682.2 327.9h.01M682.4 328.0h.01M682.6 328.3h.01M682.8 327.1h.01M683.0 328.0h.01M683.2 328.0h.01M683.4 328.3h.01M683.6 327.9h.01M683.8 329.2h.01M684.0 329.0h.01M684.2 328.7h.01M684.4 329.0h.01M684.6 327.6h.01M684.8 328.0h.01M685.0 328.3h.01M685.2 328.9h.01M685.4 328.4h.01M685.6 329.2h.01M685.8 328.7h.01M686.0 329.8h.01M686.2 329.4h.01M686.4 328.6h.01M686.6 329.8h.01M686.8 329.5h.01M687.0 329.3h.01M687.2 330.2h.01M687.4 330.4h.01M687.6 330.1h.01M687.8 330.1h.01M688.0 330.4h.01M688.2 330.8h.01M688.4 331.9h.01M688.6 331.8h.01M688.8 332.1h.01M689.0 333.0h.01M689.2 332.8h.01M689.4 333.3h.01M689.6 333.4h.01M689.8 334.1h.01M690.0 333.3h.01M690.2 333.1h.01M690.4 333.2h.01M690.6 333.2h.01M690.8 333.2h.01M691.0 334.3h.01M691.2 334.0h.01M691.4 333.1h.01M691.6 334.6h.01M691.8 334.3h.01M692.0 335.0h.01M692.2 334.3h.01M692.4 335.3h.01M692.6 335.6h.01M692.8 335.6h.01M693.0 335.7h.01M693.2 335.6h.01M693.4 336.4h.01M693.6 335.3h.01M693.8 336.2h.01M694.0 335.4h.01M694.2 336.0h.01M694.4 336.2h.01M694.6 337.3h.01M694.8 336.6h.01M695.0 336.9h.01M695.2 336.6h.01M695.4 336.7h.01M695.6 336.1h.01M695.8 336.1h.01M696.0 337.3h.01M696.2 337.2h.01M696.4 337.6h.01M696.6 337.4h.01M696.8 337.2h.01M697.0 338.6h.01M697.2 338.5h.01M697.4 337.0h.01M697.6 337.9h.01M697.8 338.0h.01M698.0 339.1h.01M698.2 338.8h.01M698.4 338.5h.01M698.6 339.5h.01M698.8 338.6h.01M699.0 340.1h.01M699.2 339.0h.01M699.4 339.8h.01M699.6 339.8h.01M699.8 340.8h.01M700.0 339.2h.01M700.2 339.7h.01M700.4 340.0h.01M700.6 341.0h.01M700.8 342.0h.01M701.0 341.3h.01M701.2 341.7h.01M701.4 342.2h.01M701.6 341.5h.01M701.8 341.7h.01M702.0 341.6h.01M702.2 341.8h.01M702.4 342.3h.01M702.6 341.7h.01M702.8 342.4h.01M703.0 342.7h.01M703.2 343.0h.01M703.4 343.3h.01M703.6 342.6h.01M703.8 343.2h.01M704.0 342.1h.01M704.2 344.0h.01M704.4 343.0h.01M704.6 343.8h.01M704.8 343.6h.01M705.0 342.6h.01M705.2 343.3h.01M705.4 344.1h.01M705.6 343.2h.01M705.8 343.4h.01M706.0 344.2h.01M706.2 343.9h.01M706.4 345.3h.01M706.6 344.6h.01M706.8 344.1h.01M707.0 345.2h.01M707.2 345.2h.01M707.4 346.2h.01M707.6 346.4h.01M707.8 345.2h.01M708.0 346.4h.01M708.2 346.1h.01M708.4 345.9h.01M708.6 346.1h.01M708.8 347.3h.01M709.0 347.7h.01M709.2 346.7h.01M709.4 347.1h.01M709.6 347.6h.01M709.8 348.8h.01M710.0 347.8h.01M710.2 348.0h.01M710.4 349.7h.01M710.6 349.6h.01M710.8 349.9h.01M711.0 351.5h.01M711.2 349.8h.01M711.4 351.3h.01M711.6 351.4h.01M711.8 352.6h.01M712.0 352.1h.01M712.2 352.4h.01M712.4 353.1h.01M712.6 353.0h.01M712.8 353.9h.01M713.0 353.3h.01M713.2 353.1h.01M713.4 353.8h.01M713.6 354.3h.01M713.8 354.6h.01M714.0 354.3h.01M714.2 354.0h.01M714.4 354.6h.01M714.6 354.2h.01M714.8 355.1h.01M715.0 354.4h.01M715.2 354.2h.01M715.4 354.3h.01M715.6 355.8h.01M715.8 355.7h.01M716.0 355.1h.01M716.2 355.7h.01M716.4 357.5h.01M716.6 356.9h.01M716.8 356.6h.01M717.0 357.3h.01M717.2 357.5h.01M717.4 357.9h.01M717.6 357.7h.01M717.8 358.0h.01M718.0 358.0h.01M718.2 358.8h.01M718.4 358.7h.01M718.6 359.9h.01M718.8 359.5h.01M719.0 360.5h.01M719.2 359.9h.01M719.4 359.4h.01M719.6 360.6h.01M719.8 360.1h.01M720.0 360.7h.01M720.2 360.3h.01M720.4 360.8h.01M720.6 361.7h.01M720.8 361.9h.01M721.0 361.4h.01M721.2 362.3h.01M721.4 362.6h.01M721.6 362.1h.01M721.8 363.7h.01M722.0 363.6h.01M722.2 364.0h.01M722.4 364.5h.01M722.6 364.9h.01M722.8 364.1h.01M723.0 365.3h.01M723.2 366.0h.01M723.4 365.7h.01M723.6 365.9h.01M723.8 366.0h.01M724.0 366.8h.01M724.2 367.1h.01M724.4 367.7h.01M724.6 367.3h.01M724.8 367.6h.01M725.0 368.3h.01M725.2 369.0h.01M725.4 368.0h.01M725.6 368.7h.01M725.8 369.7h.01M726.0 369.6h.01M726.2 368.9h.01M726.4 369.7h.01M726.6 369.7h.01M726.8 369.3h.01M727.0 369.2h.01M727.2 369.9h.01M727.4 370.3h.01M727.6 370.6h.01M727.8 370.3h.01M728.0 371.1h.01M728.2 370.8h.01M728.4 371.1h.01M728.6 371.7h.01M728.8 371.9h.01M729.0 372.2h.01M729.2 372.2h.01M729.4 371.8h.01M729.6 372.7h.01M729.8 372.3h.01M730.0 372.0h.01M730.2 372.8h.01M730.4 372.6h.01M730.6 373.7h.01M730.8 372.9h.01M731.0 372.9h.01M731.2 373.2h.01M731.4 373.9h.01M731.6 373.8h.01M731.8 373.9h.01M732.0 374.9h.01M732.2 374.7h.01M732.4 375.0h.01M732.6 375.2h.01M732.8 375.3h.01M733.0 375.5h.01M733.2 376.0h.01M733.4 375.4h.01M733.6 375.9h.01M733.8 376.0h.01M734.0 376.0h.01M734.2 376.2h.01M734.4 376.1h.01M734.6 376.4h.01M734.8 376.7h.01M735.0 376.0h.01M735.2 376.6h.01M735.4 377.0h.01M735.6 376.9h.01M735.8 376.9h.01M736.0 377.3h.01M736.2 377.5h.01M736.4 377.6h.01M736.6 377.4h.01M736.8 377.7h.01M737.0 377.6h.01M737.2 378.2h.01M737.4 378.4h.01M737.6 378.6h.01M737.8 378.5h.01M738.0 379.1h.01M738.2 379.2h.01M738.4 379.4h.01M738.6 379.0h.01M738.8 379.0h.01M739.0 379.4h.01M739.2 379.6h.01M739.4 379.9h.01M739.6 380.0h.01M739.8 380.0h.01M740.0 380.5h.01M740.2 381.0h.01M740.4 381.2h.01M740.6 381.5h.01M740.8 381.8h.01M196.4 360.0h.01M198.3 355.4h.01M200.0 386.5h.01M201.8 373.4h.01M203.8 365.8h.01M198.5 364.4h.01M200.8 372.0h.01M197.0 373.0h.01M203.7 387.6h.01M201.0 387.0h.01M199.9 373.1h.01M201.6 361.9h.01M200.7 373.3h.01M198.4 373.2h.01M197.4 378.7h.01M196.9 371.3h.01M196.4 374.8h.01M196.8 385.6h.01M196.1 384.9h.01M198.4 390.5h.01M198.6 359.8h.01M201.4 363.5h.01M202.5 372.4h.01M198.1 376.7h.01M197.8 364.4h.01M196.7 363.4h.01M197.8 360.4h.01M199.3 371.4h.01M200.8 375.2h.01M201.5 377.6h.01M199.8 386.7h.01M197.1 364.8h.01M198.8 385.7h.01M201.1 391.8h.01M199.7 385.9h.01M198.9 385.5h.01M202.2 368.3h.01M201.5 371.9h.01M199.0 373.7h.01M201.8 381.9h.01M199.6 383.1h.01M202.0 369.2h.01M202.3 378.5h.01M201.0 388.2h.01M198.7 377.0h.01M201.4 364.0h.01M199.7 379.1h.01M200.0 378.0h.01M202.1 366.8h.01M201.5 371.7h.01M198.0 376.8h.01M198.2 376.7h.01M198.4 376.3h.01M198.3 391.8h.01M201.6 351.3h.01M201.0 337.8h.01M201.0 343.0h.01M202.0 350.4h.01M201.0 347.0h.01M201.1 340.6h.01M201.3 340.9h.01M201.5 324.4h.01M189.2 387.8h.01M190.6 388.1h.01M190.2 391.4h.01M190.3 391.2h.01M190.9 387.8h.01M206.7 389.2h.01M205.8 391.5h.01M207.9 390.3h.01M208.6 385.0h.01M207.7 391.1h.01M206.1 387.8h.01M206.2 391.7h.01M207.0 390.9h.01M213.3 390.4h.01M213.5 391.8h.01M212.8 390.8h.01M247.6 390.8h.01M249.7 388.3h.01M247.4 386.6h.01M247.8 387.9h.01M249.6 389.0h.01M248.4 389.7h.01M247.4 387.9h.01M255.4 383.0h.01M255.5 388.1h.01M255.5 383.0h.01M255.0 378.7h.01M255.1 385.1h.01M254.9 381.0h.01M255.0 384.6h.01M265.2 386.4h.01M264.9 387.2h.01M265.2 385.7h.01M264.2 388.8h.01M317.5 383.5h.01M317.5 387.5h.01M310.7 388.8h.01M313.9 382.2h.01M326.7 387.8h.01M322.9 388.7h.01M316.1 381.3h.01M318.3 389.6h.01M310.5 387.2h.01M317.2 391.3h.01M322.5 390.9h.01M315.9 383.2h.01M312.2 379.0h.01M313.6 379.1h.01M320.6 385.0h.01M323.1 388.0h.01M328.3 384.3h.01M320.4 384.3h.01M317.3 381.2h.01M313.5 381.1h.01M318.0 382.9h.01M318.9 386.7h.01M328.7 385.2h.01M328.8 380.7h.01M320.2 385.2h.01M316.7 383.2h.01M311.9 391.9h.01M308.3 389.0h.01M317.3 381.3h.01M313.5 391.3h.01M314.1 385.2h.01M315.9 386.5h.01M319.1 384.4h.01M309.0 376.0h.01M321.2 375.5h.01M318.2 380.2h.01M323.2 380.9h.01M307.7 378.2h.01M314.0 386.3h.01M322.4 389.4h.01M328.0 384.8h.01M307.6 386.6h.01M308.4 382.0h.01M319.7 391.1h.01M311.8 385.3h.01M312.8 388.3h.01M312.3 386.6h.01M317.1 384.5h.01M309.9 388.5h.01M317.1 381.7h.01M314.1 390.6h.01M316.3 388.8h.01M321.7 383.8h.01M313.5 383.2h.01M320.6 387.8h.01M320.2 388.6h.01M312.8 389.1h.01M311.8 387.0h.01M316.8 389.8h.01M311.4 389.6h.01M315.6 388.3h.01M309.3 387.2h.01M309.3 388.3h.01M319.1 385.7h.01M312.1 342.5h.01M312.7 369.1h.01M313.6 349.7h.01M313.1 368.1h.01M312.4 330.5h.01M311.5 355.7h.01M310.7 334.6h.01M313.2 335.3h.01M312.3 343.5h.01M312.2 353.3h.01M311.4 357.5h.01M311.4 388.6h.01M312.0 336.3h.01M312.9 338.7h.01M313.0 377.8h.01M313.5 361.4h.01M313.0 378.8h.01M313.2 366.9h.01M313.5 375.9h.01M315.7 319.6h.01M316.6 349.3h.01M317.4 316.8h.01M315.8 330.0h.01M316.4 376.1h.01M317.0 329.4h.01M316.3 371.4h.01M316.7 321.1h.01M316.3 316.7h.01M316.5 329.0h.01M316.1 336.7h.01M317.5 319.7h.01M315.6 322.6h.01M316.4 344.0h.01M317.6 367.9h.01M316.0 322.5h.01M316.7 377.1h.01M315.9 371.2h.01M318.8 374.2h.01M320.5 378.4h.01M319.6 370.6h.01M319.1 342.7h.01M320.9 382.1h.01M320.9 361.9h.01M320.3 349.0h.01M319.6 387.3h.01M320.4 388.1h.01M319.0 352.5h.01M320.8 387.2h.01M320.6 384.4h.01M319.2 372.8h.01M318.9 355.5h.01M318.6 353.8h.01M319.1 352.2h.01M326.1 374.1h.01M326.8 371.5h.01M326.8 380.2h.01M325.8 378.2h.01M326.4 369.7h.01M326.2 378.6h.01M337.2 336.1h.01M339.3 311.3h.01M338.0 318.7h.01M339.9 297.4h.01M337.5 387.9h.01M339.0 319.0h.01M339.1 344.1h.01M336.4 306.6h.01M336.2 323.7h.01M337.7 388.5h.01M339.7 348.7h.01M338.8 355.4h.01M339.4 331.7h.01M338.7 317.2h.01M337.0 322.0h.01M337.7 324.8h.01M338.5 300.5h.01M337.3 353.9h.01M339.3 371.2h.01M337.8 355.7h.01M336.1 384.2h.01M338.8 371.7h.01M336.4 335.9h.01M337.3 376.4h.01M339.2 311.7h.01M340.1 316.1h.01M343.7 351.8h.01M344.1 326.2h.01M341.6 341.1h.01M344.1 344.6h.01M340.6 341.5h.01M344.5 313.8h.01M343.1 324.8h.01M343.0 369.3h.01M342.0 314.4h.01M342.6 389.7h.01M340.7 326.6h.01M341.6 342.3h.01M344.1 350.5h.01M343.2 319.1h.01M342.9 367.9h.01M342.1 300.1h.01M344.9 345.3h.01M344.8 355.1h.01M342.1 314.9h.01M344.7 369.2h.01M343.1 300.0h.01M341.9 337.6h.01M341.0 342.2h.01M342.7 317.3h.01M342.9 386.8h.01M344.4 374.7h.01M352.8 289.9h.01M353.8 375.9h.01M355.0 376.8h.01M353.0 345.6h.01M355.2 349.1h.01M354.6 365.4h.01M353.4 366.0h.01M352.6 360.9h.01M352.9 294.9h.01M354.5 357.0h.01M353.7 322.1h.01M352.2 362.8h.01M353.9 343.7h.01M354.5 273.1h.01M354.4 363.7h.01M351.8 277.7h.01M354.7 298.7h.01M353.3 372.1h.01M357.9 344.2h.01M357.3 310.4h.01M358.2 353.0h.01M357.1 270.2h.01M356.9 283.8h.01M356.7 319.5h.01M355.9 273.5h.01M356.8 326.4h.01M356.9 338.4h.01M358.5 352.3h.01M356.3 306.5h.01M357.1 284.8h.01M358.3 333.4h.01M358.4 298.1h.01M356.9 312.2h.01M360.6 263.1h.01M358.7 305.6h.01M361.4 286.5h.01M361.1 277.3h.01M361.4 329.8h.01M360.6 342.5h.01M360.1 291.4h.01M358.5 295.3h.01M361.6 327.4h.01M360.2 297.5h.01M360.9 257.7h.01M360.6 335.5h.01M359.0 267.2h.01M360.5 312.9h.01M360.0 295.3h.01M362.2 349.6h.01M362.4 264.2h.01M359.8 281.7h.01M361.7 251.9h.01M364.7 257.1h.01M371.5 258.5h.01M370.7 244.9h.01M367.2 284.8h.01M368.7 251.2h.01M375.5 286.2h.01M371.5 335.6h.01M368.2 302.4h.01M369.7 238.8h.01M368.9 301.5h.01M366.6 254.0h.01M364.1 265.6h.01M375.7 283.3h.01M364.9 253.8h.01M370.2 302.7h.01M365.1 269.2h.01M373.2 267.9h.01M363.0 323.0h.01M371.3 255.3h.01M366.9 254.0h.01M367.8 250.6h.01M370.6 244.7h.01M369.4 252.9h.01M366.2 249.3h.01M365.6 265.7h.01M371.5 254.1h.01M365.8 314.1h.01M366.0 248.4h.01M371.9 262.2h.01M363.8 289.9h.01M365.0 269.9h.01M374.2 266.9h.01M365.7 262.5h.01M365.2 266.0h.01M370.4 231.6h.01M371.5 255.1h.01M365.5 300.3h.01M368.3 282.6h.01M366.8 249.7h.01M364.2 294.8h.01M364.8 252.6h.01M367.2 249.6h.01M364.8 264.3h.01M367.7 267.3h.01M366.8 247.8h.01M363.7 270.3h.01M370.9 268.8h.01M373.2 253.3h.01M364.4 257.6h.01M384.3 263.3h.01M382.8 286.2h.01M383.5 268.8h.01M386.2 272.3h.01M384.0 351.2h.01M378.6 258.5h.01M385.8 284.2h.01M379.3 269.9h.01M383.9 280.5h.01M377.7 270.7h.01M386.6 308.1h.01M385.7 267.8h.01M383.9 266.6h.01M378.4 299.3h.01M385.3 351.1h.01M378.0 279.6h.01M386.5 320.1h.01M377.2 278.0h.01M379.2 267.9h.01M379.3 272.0h.01M378.3 269.7h.01M376.4 255.4h.01M382.1 292.3h.01M376.2 273.9h.01M382.7 273.6h.01M382.0 299.1h.01M383.0 295.3h.01M377.2 287.1h.01M376.2 300.2h.01M382.1 283.4h.01M383.2 267.7h.01M379.2 264.1h.01M376.3 291.7h.01M383.0 337.2h.01M380.0 290.8h.01M381.6 280.6h.01M385.3 283.7h.01M382.8 271.9h.01M388.1 259.1h.01M387.8 257.1h.01M387.1 265.3h.01M390.1 270.8h.01M387.3 284.2h.01M391.1 251.9h.01M390.0 255.9h.01M389.7 259.1h.01M388.1 260.5h.01M388.7 248.5h.01M389.6 256.1h.01M389.9 260.4h.01M389.9 257.5h.01M390.3 311.6h.01M389.8 261.4h.01M388.2 256.5h.01M388.0 333.6h.01M388.4 257.3h.01M387.3 277.1h.01M390.9 265.1h.01M378.2 287.4h.01M378.5 270.9h.01M383.3 300.6h.01M380.9 302.3h.01M379.9 293.3h.01M386.4 271.6h.01M384.8 276.0h.01M380.8 271.6h.01M386.8 275.8h.01M380.8 299.6h.01M380.9 288.8h.01M383.1 296.4h.01M381.4 300.9h.01M378.7 306.4h.01M376.1 300.3h.01M382.2 300.2h.01M366.5 290.8h.01M364.6 258.9h.01M362.9 251.2h.01M362.2 264.1h.01M365.5 250.4h.01M365.5 277.9h.01M363.7 251.0h.01M364.4 300.6h.01M366.8 291.4h.01M363.7 256.9h.01M367.0 251.3h.01M364.8 269.0h.01M362.9 249.2h.01M363.7 282.7h.01M365.1 298.2h.01M366.1 307.7h.01M373.5 368.9h.01M372.9 345.0h.01M373.0 347.8h.01M372.6 375.8h.01M373.3 381.3h.01M373.9 373.9h.01M374.1 349.5h.01M357.3 290.5h.01M357.4 282.7h.01M355.8 282.7h.01M358.3 289.3h.01M360.2 259.2h.01M357.5 274.7h.01M358.3 302.1h.01M361.2 288.8h.01M695.7 344.4h.01M691.0 341.7h.01M680.6 334.5h.01M689.9 335.6h.01M695.8 338.8h.01M679.8 334.7h.01M679.9 332.3h.01M679.6 344.1h.01M681.6 336.6h.01M689.0 335.5h.01M683.5 334.6h.01M687.9 335.7h.01M698.8 340.8h.01M697.9 347.0h.01M691.8 337.9h.01M702.8 352.0h.01M698.5 342.9h.01M694.3 339.0h.01M693.3 337.2h.01M696.7 344.2h.01M698.4 342.9h.01M694.8 344.5h.01M700.9 349.0h.01M683.7 330.2h.01M696.9 348.1h.01M688.7 347.5h.01M692.9 337.4h.01M687.5 333.4h.01M687.8 333.3h.01M688.8 336.8h.01M699.6 343.1h.01M696.6 340.1h.01M701.3 344.9h.01M700.6 342.9h.01M695.1 345.5h.01M684.8 331.2h.01M686.0 331.8h.01M682.6 336.2h.01M689.1 339.1h.01M685.9 333.1h.01M694.9 344.8h.01M700.6 344.5h.01M679.8 336.8h.01M696.4 338.4h.01M686.6 333.3h.01M683.1 330.0h.01M687.7 345.5h.01M685.2 332.8h.01M692.7 344.2h.01M697.3 343.5h.01M683.4 350.0h.01M684.5 330.8h.01M689.7 339.0h.01M691.0 349.4h.01M691.7 346.9h.01M697.7 342.2h.01M692.9 337.5h.01M690.4 340.3h.01M693.0 338.4h.01M685.9 337.5h.01M684.3 330.7h.01M683.2 331.7h.01M689.6 341.8h.01M687.0 352.5h.01M688.3 336.4h.01M685.9 334.2h.01M694.9 340.6h.01M694.6 349.0h.01M686.0 340.9h.01M687.0 334.2h.01M475.6 251.2h.01M474.8 262.7h.01M473.5 258.5h.01M466.3 243.4h.01M476.7 251.5h.01M470.3 248.9h.01M474.7 253.0h.01M470.6 252.0h.01M477.9 250.5h.01M477.4 248.9h.01M474.7 256.9h.01M466.8 242.6h.01M475.0 252.5h.01M477.6 248.4h.01M467.0 248.8h.01M472.5 252.8h.01M470.7 249.4h.01M474.4 255.9h.01M471.0 257.7h.01M468.7 247.5h.01M476.7 252.3h.01M467.8 245.2h.01M468.1 247.5h.01M470.7 249.8h.01M474.2 258.5h.01M477.6 250.8h.01M477.3 249.9h.01M466.5 244.0h.01M473.1 260.4h.01M466.3 249.8h.01M477.3 248.8h.01M474.7 258.4h.01M471.8 251.7h.01M467.5 251.4h.01M475.8 258.2h.01M473.1 253.1h.01M473.2 256.9h.01M469.6 250.7h.01M468.8 248.9h.01M468.4 246.5h.01M485.7 258.0h.01M483.6 260.9h.01M486.4 260.8h.01M481.2 254.0h.01M480.1 259.5h.01M488.9 249.4h.01M481.3 255.1h.01M488.8 249.1h.01M483.7 259.8h.01M485.8 263.4h.01M480.6 257.7h.01M480.5 258.6h.01M485.5 264.8h.01M485.2 260.3h.01M486.4 255.7h.01M481.0 254.4h.01M482.8 257.4h.01M483.2 258.7h.01M484.2 263.3h.01M488.4 256.4h.01M484.8 260.0h.01M488.0 254.3h.01M487.7 251.8h.01M483.8 258.1h.01M482.2 256.6h.01M487.4 252.0h.01M484.4 263.8h.01M481.0 254.8h.01M488.9 254.2h.01M488.7 251.1h.01M646.7 295.8h.01M656.6 300.9h.01M644.7 288.8h.01M647.9 293.0h.01M643.4 288.1h.01M639.9 286.7h.01M649.8 296.9h.01M653.6 298.6h.01M632.7 283.9h.01M632.7 278.2h.01M653.7 298.2h.01M649.9 294.6h.01M659.4 305.5h.01M646.8 292.1h.01M633.7 283.9h.01M645.4 289.9h.01M634.1 280.5h.01M635.8 283.6h.01M645.5 290.4h.01M651.0 298.2h.01M633.2 282.8h.01M647.4 293.1h.01M633.1 281.3h.01M638.8 285.0h.01M651.6 297.4h.01M634.8 282.3h.01M656.5 303.5h.01M651.1 302.3h.01M644.1 288.8h.01M644.7 289.0h.01M656.2 305.3h.01M653.7 298.3h.01M640.2 285.2h.01M653.4 297.0h.01M632.3 277.7h.01M637.3 284.4h.01M647.7 295.4h.01M657.3 303.5h.01M641.3 290.5h.01M659.4 307.0h.01M606.6 274.3h.01M604.9 279.5h.01M614.1 273.9h.01M606.9 278.1h.01M610.1 288.8h.01M622.4 279.9h.01M614.8 271.3h.01M615.4 271.7h.01M621.5 278.5h.01M619.0 290.0h.01M604.1 273.4h.01M608.5 278.0h.01M606.1 274.6h.01M616.3 273.7h.01M623.9 280.0h.01M606.0 274.1h.01M613.5 274.1h.01M610.3 290.7h.01M610.5 291.0h.01M605.5 274.3h.01M622.2 279.6h.01M605.7 277.5h.01M615.1 274.4h.01M607.6 279.2h.01M606.0 276.7h.01M485.3 287.2h.01M485.1 289.3h.01M484.6 290.9h.01M474.4 253.8h.01M474.5 257.3h.01M473.9 259.1h.01M474.6 263.1h.01M516.0 247.4h.01M516.5 249.2h.01M515.8 252.2h.01M637.0 285.9h.01M636.7 291.3h.01M637.3 294.2h.01M637.5 298.6h.01M637.1 302.6h.01M637.2 306.6h.01M646.0 288.6h.01M645.9 294.3h.01M646.4 302.3h.01M645.6 308.2h.01M646.6 313.0h.01M646.8 317.3h.01M645.6 323.2h.01M645.8 331.3h.01M646.4 334.8h.01M646.6 342.7h.01M656.5 300.1h.01M657.4 307.0h.01M656.7 311.3h.01M656.9 316.9h.01M657.1 321.3h.01M657.1 327.9h.01M657.4 333.6h.01M657.3 338.1h.01M656.5 344.2h.01M657.2 348.5h.01M656.8 352.1h.01M678.7 326.5h.01M677.7 329.6h.01M677.8 334.7h.01M678.4 338.5h.01M677.7 341.3h.01M678.6 344.5h.01M689.6 335.9h.01M690.6 338.9h.01M690.8 342.0h.01M690.7 345.6h.01M691.0 349.5h.01M694.4 338.4h.01M695.1 343.3h.01M694.7 350.4h.01M694.5 355.0h.01M694.4 359.9h.01M694.2 365.9h.01M695.2 370.9h.01M700.3 344.8h.01M700.0 347.1h.01M700.4 349.9h.01" stroke="#ff00ff" stroke-width="3.4" stroke-linecap="round" fill="none"/>
<path d="M391.6 223.6h.01M391.8 226.4h.01M392.0 223.9h.01M392.2 224.0h.01M392.4 226.3h.01M392.6 221.6h.01M392.8 223.7h.01M393.0 224.6h.01M393.2 221.4h.01M393.4 221.3h.01M393.6 221.2h.01M393.8 221.1h.01M394.0 220.6h.01M394.2 220.7h.01M394.4 220.8h.01M394.6 218.7h.01M394.8 218.5h.01M395.0 222.8h.01M395.2 220.3h.01M395.4 217.3h.01M395.6 222.2h.01M395.8 223.0h.01M396.0 219.8h.01M396.2 219.9h.01M396.4 220.8h.01M396.6 218.8h.01M396.8 218.4h.01M397.0 217.8h.01M397.2 217.4h.01M397.4 219.1h.01M397.6 215.5h.01M397.8 217.9h.01M398.0 217.2h.01M398.2 219.2h.01M398.4 217.2h.01M398.6 219.0h.01M398.8 221.5h.01M399.0 221.3h.01M399.2 218.2h.01M399.4 220.9h.01M399.6 220.0h.01M399.8 221.2h.01M400.0 219.9h.01M400.2 221.4h.01M400.4 222.3h.01M400.6 222.3h.01M400.8 222.9h.01M401.0 223.6h.01M401.2 222.5h.01M401.4 223.6h.01M401.6 223.5h.01M401.8 220.9h.01M402.0 220.3h.01M402.2 219.1h.01M402.4 219.6h.01M402.6 219.9h.01M402.8 222.4h.01M403.0 221.8h.01M403.2 221.3h.01M403.4 222.6h.01M403.6 220.2h.01M403.8 219.8h.01M404.0 220.7h.01M404.2 220.7h.01M404.4 220.3h.01M404.6 224.3h.01M404.8 222.1h.01M405.0 224.5h.01M405.2 223.8h.01M405.4 222.6h.01M405.6 223.0h.01M405.8 221.9h.01M406.0 223.7h.01M406.2 227.0h.01M406.4 226.5h.01M406.6 228.3h.01M406.8 227.0h.01M407.0 222.7h.01M407.2 223.4h.01M407.4 224.8h.01M407.6 223.5h.01M407.8 225.5h.01M408.0 220.9h.01M408.2 220.1h.01M408.4 220.2h.01M408.6 223.4h.01M408.8 222.1h.01M409.0 222.2h.01M409.2 221.6h.01M409.4 219.2h.01M409.6 218.5h.01M409.8 221.6h.01M410.0 218.8h.01M410.2 217.6h.01M410.4 217.4h.01M410.6 218.7h.01M410.8 218.1h.01M411.0 217.9h.01M411.2 214.1h.01M411.4 214.5h.01M411.6 213.1h.01M411.8 213.9h.01M412.0 214.0h.01M412.2 213.8h.01M412.4 211.0h.01M412.6 213.3h.01M412.8 213.0h.01M413.0 211.7h.01M413.2 211.4h.01M413.4 212.9h.01M413.6 209.4h.01M413.8 207.4h.01M414.0 207.6h.01M414.2 205.8h.01M414.4 208.3h.01M414.6 206.9h.01M414.8 205.9h.01M415.0 205.7h.01M415.2 206.6h.01M415.4 206.3h.01M415.6 204.2h.01M415.8 208.9h.01M416.0 204.3h.01M416.2 206.5h.01M416.4 209.4h.01M416.6 208.6h.01M416.8 206.0h.01M417.0 206.8h.01M417.2 203.9h.01M417.4 207.8h.01M417.6 205.6h.01M417.8 206.5h.01M418.0 204.8h.01M418.2 209.0h.01M418.4 207.4h.01M418.6 205.1h.01M418.8 206.6h.01M419.0 207.7h.01M419.2 208.0h.01M419.4 208.3h.01M419.6 210.2h.01M419.8 208.6h.01M420.0 207.6h.01M420.2 206.1h.01M420.4 205.4h.01M420.6 209.2h.01M420.8 208.1h.01M421.0 209.0h.01M421.2 207.5h.01M421.4 204.2h.01M421.6 204.9h.01M421.8 206.9h.01M422.0 207.4h.01M422.2 207.5h.01M422.4 205.2h.01M422.6 206.1h.01M422.8 204.9h.01M423.0 204.2h.01M423.2 202.7h.01M423.4 204.4h.01M423.6 202.8h.01M423.8 201.3h.01M424.0 201.8h.01M424.2 202.2h.01M424.4 200.6h.01M424.6 200.7h.01M424.8 198.9h.01M425.0 200.1h.01M425.2 199.1h.01M425.4 196.7h.01M425.6 199.8h.01M425.8 198.4h.01M426.0 200.9h.01M426.2 201.0h.01M426.4 199.1h.01M426.6 204.2h.01M426.8 202.3h.01M427.0 203.4h.01M427.2 202.0h.01M427.4 202.2h.01M427.6 203.6h.01M427.8 204.6h.01M428.0 205.5h.01M428.2 205.1h.01M428.4 207.5h.01M428.6 205.6h.01M428.8 202.5h.01M429.0 207.0h.01M429.2 202.6h.01M429.4 205.0h.01M429.6 206.7h.01M429.8 206.0h.01M430.0 202.8h.01M430.2 203.5h.01M430.4 202.4h.01M430.6 201.4h.01M430.8 201.0h.01M431.0 202.0h.01M431.2 202.7h.01M431.4 200.7h.01M431.6 200.9h.01M431.8 199.0h.01M432.0 200.2h.01M432.2 198.8h.01M432.4 200.1h.01M432.6 199.1h.01M432.8 200.5h.01M433.0 203.3h.01M433.2 202.0h.01M433.4 201.8h.01M433.6 198.6h.01M433.8 198.8h.01M434.0 197.2h.01M434.2 199.4h.01M434.4 199.8h.01M434.6 202.8h.01M434.8 201.8h.01M435.0 199.4h.01M435.2 203.1h.01M435.4 201.8h.01M435.6 204.6h.01M435.8 205.3h.01M436.0 203.9h.01M436.2 204.4h.01M436.4 202.5h.01M436.6 200.8h.01M436.8 200.2h.01M437.0 202.2h.01M437.2 201.9h.01M437.4 201.6h.01M437.6 198.8h.01M437.8 198.4h.01M438.0 199.8h.01M438.2 200.0h.01M438.4 201.9h.01M438.6 202.4h.01M438.8 200.8h.01M439.0 201.3h.01M439.2 205.2h.01M439.4 203.8h.01M439.6 201.4h.01M439.8 204.3h.01M440.0 203.0h.01M440.2 206.4h.01M440.4 207.4h.01M440.6 205.8h.01M440.8 203.9h.01M441.0 202.5h.01M441.2 203.3h.01M441.4 201.5h.01M441.6 201.6h.01M441.8 202.3h.01M442.0 204.7h.01M442.2 204.9h.01M442.4 205.2h.01M442.6 204.5h.01M442.8 204.6h.01M443.0 202.9h.01M443.2 204.3h.01M443.4 203.8h.01M443.6 206.9h.01M443.8 206.6h.01M444.0 200.7h.01M444.2 206.3h.01M444.4 205.6h.01M444.6 204.3h.01M444.8 203.3h.01M445.0 202.0h.01M445.2 201.4h.01M445.4 201.5h.01M445.6 202.7h.01M445.8 203.3h.01M446.0 204.9h.01M446.2 205.0h.01M446.4 204.4h.01M446.6 205.8h.01M446.8 207.2h.01M447.0 204.8h.01M447.2 204.9h.01M447.4 206.2h.01M447.6 204.8h.01M447.8 205.4h.01M448.0 203.2h.01M448.2 207.2h.01M448.4 208.2h.01M448.6 209.8h.01M448.8 209.0h.01M449.0 211.8h.01M449.2 213.6h.01M449.4 209.1h.01M449.6 207.5h.01M449.8 208.4h.01M450.0 209.5h.01M450.2 207.2h.01M450.4 207.9h.01M450.6 206.1h.01M450.8 203.3h.01M451.0 204.6h.01M451.2 206.0h.01M451.4 206.6h.01M451.6 206.7h.01M451.8 210.1h.01M452.0 206.4h.01M452.2 204.3h.01M452.4 204.9h.01M452.6 204.3h.01M452.8 202.3h.01M453.0 201.9h.01M453.2 201.9h.01M453.4 204.3h.01M453.6 205.7h.01M453.8 204.6h.01M454.0 203.9h.01M454.2 203.5h.01M454.4 201.5h.01M454.6 203.5h.01M454.8 199.6h.01M455.0 201.3h.01M455.2 203.4h.01M455.4 201.9h.01M455.6 203.2h.01M455.8 200.1h.01M456.0 203.2h.01M456.2 202.4h.01M456.4 203.2h.01M456.6 203.0h.01M456.8 202.0h.01M457.0 203.0h.01M457.2 202.5h.01M457.4 204.9h.01M457.6 203.4h.01M457.8 204.3h.01M458.0 203.7h.01M458.2 206.9h.01M458.4 206.1h.01M458.6 209.4h.01M458.8 208.5h.01M459.0 206.8h.01M459.2 209.0h.01M459.4 212.3h.01M459.6 213.4h.01M459.8 212.6h.01M460.0 213.1h.01M460.2 217.0h.01M460.4 215.7h.01M460.6 216.5h.01M460.8 218.4h.01M461.0 218.3h.01M461.2 220.7h.01M461.4 218.1h.01M461.6 222.2h.01M461.8 220.6h.01M462.0 219.3h.01M462.2 220.9h.01M462.4 222.6h.01M462.6 218.7h.01M462.8 219.6h.01M463.0 218.8h.01M463.2 222.0h.01M463.4 224.2h.01M463.6 221.0h.01M463.8 222.6h.01M464.0 219.7h.01M464.2 219.4h.01M464.4 218.4h.01M464.6 223.2h.01M464.8 218.8h.01M465.0 220.6h.01M465.2 217.6h.01M465.4 219.6h.01M465.6 219.4h.01M465.8 221.2h.01M466.0 220.2h.01M466.2 217.8h.01M466.4 220.4h.01M466.6 219.4h.01M466.8 222.8h.01M467.0 220.6h.01M467.2 221.4h.01M467.4 220.7h.01M467.6 220.8h.01M467.8 220.7h.01M468.0 222.8h.01M468.2 221.5h.01M468.4 222.9h.01M468.6 222.0h.01M468.8 226.4h.01M469.0 225.8h.01M469.2 225.4h.01M469.4 226.1h.01M469.6 227.9h.01M469.8 225.2h.01M470.0 227.4h.01M470.2 230.7h.01M470.4 228.2h.01M470.6 229.6h.01M470.8 229.3h.01M471.0 230.9h.01M471.2 231.2h.01M471.4 227.9h.01M471.6 233.1h.01M471.8 231.2h.01M472.0 230.8h.01M472.2 229.5h.01M472.4 230.4h.01M472.6 231.6h.01M472.8 230.0h.01M473.0 232.7h.01M473.2 230.7h.01M473.4 230.7h.01M473.6 233.9h.01M473.8 231.8h.01M474.0 231.7h.01M474.2 235.2h.01M474.4 233.8h.01M474.6 232.0h.01M474.8 235.2h.01M475.0 234.8h.01M475.2 236.0h.01M475.4 234.9h.01M475.6 233.0h.01M475.8 231.3h.01M476.0 232.5h.01M476.2 231.1h.01M476.4 226.8h.01M476.6 227.4h.01M476.8 224.0h.01M477.0 225.3h.01M477.2 222.6h.01M477.4 223.5h.01M477.6 223.1h.01M477.8 223.0h.01M478.0 220.1h.01M478.2 221.6h.01M478.4 220.5h.01M478.6 221.7h.01M478.8 221.9h.01M479.0 226.5h.01M479.2 227.8h.01M479.4 225.8h.01M479.6 227.6h.01M479.8 225.0h.01M480.0 228.2h.01M480.2 225.6h.01M480.4 228.2h.01M480.6 227.3h.01M480.8 226.9h.01M481.0 228.9h.01M481.2 229.5h.01M481.4 229.8h.01M481.6 230.1h.01M481.8 228.9h.01M482.0 229.9h.01M482.2 232.8h.01M482.4 231.3h.01M482.6 236.4h.01M482.8 235.9h.01M483.0 233.3h.01M483.2 236.1h.01M483.4 233.5h.01M483.6 237.4h.01M483.8 236.0h.01M484.0 235.3h.01M484.2 239.5h.01M484.4 237.4h.01M484.6 239.5h.01M484.8 237.1h.01M485.0 237.7h.01M485.2 237.1h.01M485.4 235.5h.01M485.6 235.5h.01M485.8 236.7h.01M486.0 237.1h.01M486.2 233.9h.01M486.4 235.1h.01M486.6 233.2h.01M486.8 234.8h.01M487.0 233.6h.01M487.2 231.7h.01M487.4 232.3h.01M487.6 229.3h.01M487.8 231.5h.01M488.0 229.8h.01M488.2 230.7h.01M488.4 229.2h.01M488.6 227.1h.01M488.8 228.6h.01M489.0 229.7h.01M489.2 228.6h.01M489.4 225.9h.01M489.6 225.5h.01M489.8 227.6h.01M490.0 226.9h.01M490.2 226.0h.01M490.4 224.6h.01M490.6 223.7h.01M490.8 224.3h.01M491.0 223.5h.01M491.2 222.6h.01M491.4 221.4h.01M491.6 220.1h.01M491.8 219.5h.01M492.0 220.1h.01M492.2 221.4h.01M492.4 222.6h.01M492.6 221.7h.01M492.8 220.1h.01M493.0 220.5h.01M493.2 220.2h.01M493.4 220.6h.01M493.6 223.3h.01M493.8 219.3h.01M494.0 221.5h.01M494.2 221.3h.01M494.4 220.7h.01M494.6 219.0h.01M494.8 221.9h.01M495.0 220.0h.01M495.2 220.4h.01M495.4 221.5h.01M495.6 219.6h.01M495.8 220.1h.01M496.0 220.3h.01M496.2 220.4h.01M496.4 219.8h.01M496.6 218.9h.01M496.8 218.6h.01M497.0 218.2h.01M497.2 219.1h.01M497.4 218.2h.01M497.6 217.8h.01M497.8 217.6h.01M498.0 219.9h.01M498.2 219.2h.01M498.4 219.4h.01M498.6 217.9h.01M498.8 219.1h.01M499.0 219.6h.01M499.2 220.7h.01M499.4 218.8h.01M499.6 218.7h.01M499.8 218.9h.01M500.0 219.7h.01M500.2 219.3h.01M500.4 218.4h.01M500.6 219.9h.01M500.8 219.8h.01M501.0 217.8h.01M501.2 219.3h.01M501.4 218.9h.01M501.6 217.6h.01M501.8 219.8h.01M502.0 218.9h.01M502.2 220.0h.01M502.4 220.4h.01M502.6 218.8h.01M502.8 219.0h.01M503.0 218.6h.01M503.2 220.9h.01M503.4 220.0h.01M503.6 222.8h.01M503.8 221.5h.01M504.0 222.7h.01M504.2 222.9h.01M504.4 222.2h.01M504.6 222.0h.01M504.8 222.8h.01M505.0 223.0h.01M505.2 224.7h.01M505.4 224.9h.01M505.6 224.2h.01M505.8 222.6h.01M506.0 223.8h.01M506.2 222.8h.01M506.4 222.6h.01M506.6 224.2h.01M506.8 223.4h.01M507.0 223.7h.01M507.2 224.3h.01M507.4 224.1h.01M507.6 225.2h.01M507.8 223.6h.01M508.0 223.1h.01M508.2 223.8h.01M508.4 222.0h.01M508.6 221.6h.01M508.8 223.2h.01M509.0 221.2h.01M509.2 221.8h.01M509.4 223.2h.01M509.6 222.4h.01M509.8 220.6h.01M510.0 220.9h.01M510.2 221.3h.01M510.4 219.7h.01M510.6 221.0h.01M510.8 221.2h.01M511.0 222.3h.01M511.2 221.4h.01M511.4 219.4h.01M511.6 220.1h.01M511.8 221.0h.01M512.0 220.8h.01M512.2 220.8h.01M512.4 220.7h.01M512.6 221.0h.01M512.8 219.6h.01M513.0 221.0h.01M513.2 219.9h.01M513.4 221.3h.01M513.6 220.5h.01M513.8 220.0h.01M514.0 221.0h.01M514.2 221.4h.01M514.4 223.1h.01M514.6 222.3h.01M514.8 224.3h.01M515.0 223.6h.01M515.2 222.1h.01M515.4 223.9h.01M515.6 222.2h.01M515.8 223.0h.01M516.0 224.5h.01M516.2 223.2h.01M516.4 223.8h.01M516.6 224.8h.01M516.8 223.0h.01M517.0 223.7h.01M517.2 223.8h.01M517.4 225.5h.01M517.6 224.8h.01M517.8 224.6h.01M518.0 224.4h.01M518.2 226.0h.01M518.4 226.7h.01M518.6 226.1h.01M518.8 225.6h.01M519.0 225.5h.01M519.2 225.1h.01M519.4 225.3h.01M519.6 226.4h.01M519.8 225.4h.01M520.0 225.2h.01M520.2 225.7h.01M520.4 224.5h.01M520.6 223.4h.01M520.8 223.9h.01M521.0 222.9h.01M521.2 224.5h.01M521.4 226.7h.01M521.6 225.4h.01M521.8 226.6h.01M522.0 226.7h.01M522.2 226.2h.01M522.4 225.4h.01M522.6 226.1h.01M522.8 223.7h.01M523.0 223.0h.01M523.2 225.5h.01M523.4 225.1h.01M523.6 223.4h.01M523.8 224.4h.01M524.0 225.8h.01M524.2 224.5h.01M524.4 225.4h.01M524.6 225.5h.01M524.8 223.9h.01M525.0 225.0h.01M525.2 222.0h.01M525.4 221.7h.01M525.6 222.9h.01M525.8 222.3h.01M526.0 221.0h.01M526.2 220.7h.01M526.4 220.5h.01M526.6 220.6h.01M526.8 219.2h.01M527.0 220.4h.01M527.2 219.0h.01M527.4 220.8h.01M527.6 219.0h.01M527.8 218.9h.01M528.0 218.6h.01M528.2 217.7h.01M528.4 218.4h.01M528.6 218.1h.01M528.8 219.5h.01M529.0 218.6h.01M529.2 218.3h.01M529.4 218.6h.01M529.6 220.1h.01M529.8 218.5h.01M530.0 218.6h.01M530.2 219.2h.01M530.4 219.8h.01M530.6 218.8h.01M530.8 219.2h.01M531.0 220.0h.01M531.2 219.4h.01M531.4 221.0h.01M531.6 219.7h.01M531.8 219.8h.01M532.0 220.7h.01M532.2 221.5h.01M532.4 219.5h.01M532.6 221.3h.01M532.8 221.1h.01M533.0 221.8h.01M533.2 222.4h.01M533.4 222.5h.01M533.6 222.9h.01M533.8 223.3h.01M534.0 225.0h.01M534.2 223.0h.01M534.4 222.7h.01M534.6 223.0h.01M534.8 223.5h.01M535.0 224.9h.01M535.2 224.7h.01M535.4 225.7h.01M535.6 224.2h.01M535.8 224.9h.01M536.0 225.3h.01M536.2 227.4h.01M536.4 225.7h.01M536.6 225.1h.01M536.8 225.9h.01M537.0 226.4h.01M537.2 226.8h.01M537.4 225.7h.01M537.6 226.0h.01M537.8 227.7h.01M538.0 225.8h.01M538.2 225.6h.01M538.4 224.6h.01M538.6 226.5h.01M538.8 225.2h.01M539.0 226.4h.01M539.2 226.0h.01M539.4 226.8h.01M539.6 228.1h.01M539.8 226.6h.01M540.0 228.1h.01M540.2 227.8h.01M540.4 228.5h.01M540.6 230.3h.01M540.8 230.3h.01M541.0 231.0h.01M541.2 230.8h.01M541.4 231.3h.01M541.6 230.8h.01M541.8 230.2h.01M542.0 230.9h.01M542.2 232.3h.01M542.4 231.6h.01M542.6 231.9h.01M542.8 231.7h.01M543.0 231.7h.01M543.2 232.9h.01M543.4 231.9h.01M543.6 232.7h.01M543.8 234.5h.01M544.0 233.7h.01M544.2 234.7h.01M544.4 235.8h.01M544.6 236.8h.01M544.8 237.1h.01M545.0 236.7h.01M545.2 235.5h.01M545.4 236.5h.01M545.6 237.3h.01M545.8 235.9h.01M546.0 235.4h.01M546.2 237.5h.01M546.4 236.2h.01M546.6 236.1h.01M546.8 236.1h.01M547.0 238.0h.01M547.2 237.6h.01M547.4 237.0h.01M547.6 238.1h.01M547.8 237.2h.01M548.0 236.8h.01M548.2 237.5h.01M548.4 237.5h.01M548.6 237.0h.01M548.8 236.6h.01M549.0 237.9h.01M549.2 238.0h.01M549.4 236.9h.01M549.6 237.6h.01M549.8 236.9h.01M550.0 236.0h.01M550.2 236.2h.01M550.4 236.2h.01M550.6 233.4h.01M550.8 234.7h.01M551.0 234.7h.01M551.2 233.1h.01M551.4 233.4h.01M551.6 234.3h.01M551.8 233.1h.01M552.0 234.9h.01M552.2 233.0h.01M552.4 232.8h.01M552.6 232.8h.01M552.8 231.0h.01M553.0 231.8h.01M553.2 231.2h.01M553.4 231.6h.01M553.6 231.6h.01M553.8 230.2h.01M554.0 229.8h.01M554.2 230.1h.01M554.4 230.6h.01M554.6 229.1h.01M554.8 229.7h.01M555.0 228.7h.01M555.2 229.8h.01M555.4 230.9h.01M555.6 230.9h.01M555.8 230.1h.01M556.0 231.7h.01M556.2 229.8h.01M556.4 229.3h.01M556.6 230.4h.01M556.8 228.3h.01M557.0 227.8h.01M557.2 227.9h.01M557.4 228.7h.01M557.6 227.3h.01M557.8 228.1h.01M558.0 227.6h.01M558.2 227.3h.01M558.4 228.2h.01M558.6 229.4h.01M558.8 229.4h.01M559.0 228.7h.01M559.2 231.6h.01M559.4 230.3h.01M559.6 229.9h.01M559.8 231.2h.01M560.0 230.3h.01M560.2 231.3h.01M560.4 231.0h.01M560.6 229.8h.01M560.8 230.6h.01M561.0 231.3h.01M561.2 230.9h.01M561.4 230.0h.01M561.6 230.0h.01M561.8 229.7h.01M562.0 230.3h.01M562.2 231.8h.01M562.4 231.0h.01M562.6 230.9h.01M562.8 231.3h.01M563.0 230.6h.01M563.2 232.2h.01M563.4 231.3h.01M563.6 231.5h.01M563.8 231.2h.01M564.0 231.8h.01M564.2 231.3h.01M564.4 230.7h.01M564.6 230.2h.01M564.8 230.5h.01M565.0 229.7h.01M565.2 229.7h.01M565.4 230.7h.01M565.6 230.7h.01M565.8 230.5h.01M566.0 232.5h.01M566.2 231.4h.01M566.4 229.9h.01M566.6 230.3h.01M566.8 228.8h.01M567.0 230.0h.01M567.2 228.8h.01M567.4 228.2h.01M567.6 229.4h.01M567.8 229.4h.01M568.0 228.5h.01M568.2 228.7h.01M568.4 228.3h.01M568.6 228.9h.01M568.8 228.3h.01M569.0 228.4h.01M569.2 227.1h.01M569.4 226.6h.01M569.6 228.2h.01M569.8 226.5h.01M570.0 226.3h.01M570.2 227.0h.01M570.4 226.9h.01M570.6 226.5h.01M570.8 227.1h.01M571.0 227.4h.01M571.2 226.8h.01M571.4 228.2h.01M571.6 227.9h.01M571.8 225.8h.01M572.0 227.5h.01M572.2 226.7h.01M572.4 226.6h.01M572.6 226.7h.01M572.8 227.6h.01M573.0 227.1h.01M573.2 228.3h.01M573.4 227.5h.01M573.6 228.4h.01M573.8 228.8h.01M574.0 228.3h.01M574.2 229.6h.01M574.4 230.0h.01M574.6 229.2h.01M574.8 231.3h.01M575.0 231.2h.01M575.2 231.4h.01M575.4 230.2h.01M575.6 231.2h.01M575.8 231.4h.01M576.0 233.5h.01M576.2 233.6h.01M576.4 231.8h.01M576.6 233.7h.01M576.8 234.6h.01M577.0 234.3h.01M577.2 234.6h.01M577.4 233.9h.01M577.6 234.0h.01M577.8 234.6h.01M578.0 233.1h.01M578.2 233.9h.01M578.4 233.9h.01M578.6 235.7h.01M578.8 236.9h.01M579.0 235.8h.01M579.2 237.5h.01M579.4 236.0h.01M579.6 236.0h.01M579.8 236.9h.01M580.0 238.3h.01M580.2 237.0h.01M580.4 236.8h.01M580.6 237.6h.01M580.8 239.1h.01M581.0 238.1h.01M581.2 237.9h.01M581.4 238.5h.01M581.6 238.6h.01M581.8 239.1h.01M582.0 239.7h.01M582.2 239.8h.01M582.4 239.0h.01M582.6 239.6h.01M582.8 238.1h.01M583.0 239.6h.01M583.2 239.3h.01M583.4 239.9h.01M583.6 239.7h.01M583.8 239.8h.01M584.0 238.4h.01M584.2 239.1h.01M584.4 239.3h.01M584.6 238.3h.01M584.8 238.3h.01M585.0 239.0h.01M585.2 239.2h.01M585.4 240.1h.01M585.6 239.8h.01M585.8 240.8h.01M586.0 239.3h.01M586.2 239.7h.01M586.4 240.1h.01M586.6 239.7h.01M586.8 239.9h.01M587.0 238.4h.01M587.2 239.6h.01M587.4 239.9h.01M587.6 238.6h.01M587.8 238.5h.01M588.0 238.9h.01M588.2 240.5h.01M588.4 239.4h.01M588.6 239.2h.01M588.8 240.7h.01M589.0 240.3h.01M589.2 240.9h.01M589.4 240.8h.01M589.6 241.2h.01M589.8 242.7h.01M590.0 240.4h.01M590.2 241.8h.01M590.4 241.3h.01M590.6 243.7h.01M590.8 242.9h.01M591.0 244.1h.01M591.2 242.4h.01M591.4 242.2h.01M591.6 242.7h.01M591.8 243.9h.01M592.0 243.9h.01M592.2 243.2h.01M592.4 244.2h.01M592.6 242.8h.01M592.8 243.0h.01M593.0 242.8h.01M593.2 243.2h.01M593.4 244.8h.01M593.6 244.0h.01M593.8 243.1h.01M594.0 244.4h.01M594.2 244.2h.01M594.4 245.7h.01M594.6 244.7h.01M594.8 244.4h.01M595.0 244.6h.01M595.2 245.2h.01M595.4 244.1h.01M595.6 243.4h.01M595.8 245.6h.01M596.0 243.6h.01M596.2 243.2h.01M596.4 243.6h.01M596.6 244.0h.01M596.8 243.8h.01M597.0 243.1h.01M597.2 244.1h.01M597.4 243.1h.01M597.6 242.2h.01M597.8 243.5h.01M598.0 243.0h.01M598.2 243.3h.01M598.4 244.6h.01M598.6 244.6h.01M598.8 244.1h.01M599.0 243.1h.01M599.2 243.2h.01M599.4 243.3h.01M599.6 244.8h.01M599.8 244.1h.01M600.0 243.0h.01M600.2 243.9h.01M600.4 245.0h.01M600.6 244.4h.01M600.8 244.0h.01M601.0 244.1h.01M601.2 245.4h.01M601.4 245.3h.01M601.6 244.8h.01M601.8 245.6h.01M602.0 245.9h.01M602.2 244.3h.01M602.4 244.8h.01M602.6 244.6h.01M602.8 244.8h.01M603.0 246.3h.01M603.2 245.8h.01M603.4 245.8h.01M603.6 245.5h.01M603.8 246.9h.01M604.0 246.8h.01M604.2 246.3h.01M604.4 247.0h.01M604.6 248.1h.01M604.8 247.2h.01M605.0 249.3h.01M605.2 249.0h.01M605.4 248.9h.01M605.6 248.4h.01M605.8 248.9h.01M606.0 250.7h.01M606.2 250.2h.01M606.4 249.0h.01M606.6 250.4h.01M606.8 249.6h.01M607.0 249.0h.01M607.2 250.3h.01M607.4 248.8h.01M607.6 249.9h.01M607.8 250.0h.01M608.0 249.9h.01M608.2 250.6h.01M608.4 249.9h.01M608.6 251.0h.01M608.8 251.0h.01M609.0 251.7h.01M609.2 252.4h.01M609.4 252.2h.01M609.6 253.0h.01M609.8 254.0h.01M610.0 256.7h.01M610.2 256.2h.01M610.4 258.4h.01M610.6 259.3h.01M610.8 259.0h.01M611.0 259.9h.01M611.2 257.3h.01M611.4 257.4h.01M611.6 254.7h.01M611.8 254.7h.01M612.0 253.4h.01M612.2 251.9h.01M612.4 250.8h.01M612.6 249.3h.01M612.8 247.0h.01M613.0 246.8h.01M613.2 247.3h.01M613.4 246.3h.01M613.6 245.7h.01M613.8 245.7h.01M614.0 246.0h.01M614.2 245.9h.01M614.4 244.6h.01M614.6 245.3h.01M614.8 245.2h.01M615.0 244.8h.01M615.2 244.2h.01M615.4 245.3h.01M615.6 246.2h.01M615.8 245.1h.01M616.0 245.3h.01M616.2 246.4h.01M616.4 247.4h.01M616.6 247.1h.01M616.8 248.5h.01M617.0 248.5h.01M617.2 249.8h.01M617.4 247.8h.01M617.6 249.2h.01M617.8 250.1h.01M618.0 250.9h.01M618.2 253.1h.01M618.4 254.7h.01M618.6 256.7h.01M618.8 257.6h.01M619.0 259.9h.01M619.2 263.9h.01M619.4 261.9h.01M619.6 259.8h.01M619.8 257.9h.01M620.0 257.7h.01M620.2 255.5h.01M620.4 254.8h.01M620.6 253.7h.01M620.8 251.7h.01M621.0 250.9h.01M621.2 251.2h.01M621.4 250.9h.01M621.6 252.4h.01M621.8 252.7h.01M622.0 253.2h.01M622.2 253.4h.01M622.4 252.7h.01M622.6 253.9h.01M622.8 253.6h.01M623.0 253.1h.01M623.2 253.5h.01M623.4 253.9h.01M623.6 252.8h.01M623.8 252.9h.01M624.0 251.5h.01M624.2 252.3h.01M624.4 253.3h.01M624.6 252.4h.01M624.8 251.3h.01M625.0 252.2h.01M625.2 251.7h.01M625.4 251.4h.01M625.6 253.0h.01M625.8 253.2h.01M626.0 253.8h.01M626.2 252.5h.01M626.4 253.8h.01M626.6 253.0h.01M626.8 253.6h.01M627.0 252.7h.01M627.2 253.7h.01M627.4 253.6h.01M627.6 252.1h.01M627.8 253.2h.01M628.0 252.4h.01M628.2 251.8h.01M628.4 252.2h.01M628.6 251.5h.01M628.8 252.1h.01M629.0 252.5h.01M629.2 252.0h.01M629.4 252.7h.01M629.6 252.9h.01M629.8 253.6h.01M630.0 252.7h.01M630.2 252.6h.01M630.4 253.5h.01M630.6 253.5h.01M630.8 252.0h.01M631.0 252.3h.01M631.2 252.5h.01M631.4 251.3h.01M631.6 252.1h.01M631.8 251.3h.01M632.0 252.4h.01M632.2 253.6h.01M632.4 253.9h.01M632.6 252.1h.01M632.8 253.1h.01M633.0 252.7h.01M633.2 253.6h.01M633.4 254.0h.01M633.6 254.7h.01M633.8 255.1h.01M634.0 254.7h.01M634.2 256.6h.01M634.4 255.5h.01M634.6 255.9h.01M634.8 257.6h.01M635.0 258.6h.01M635.2 258.1h.01M635.4 258.7h.01M635.6 258.6h.01M635.8 258.7h.01M636.0 258.8h.01M636.2 258.2h.01M636.4 257.9h.01M636.6 257.7h.01M636.8 258.5h.01M637.0 258.6h.01M637.2 258.6h.01M637.4 258.3h.01M637.6 258.3h.01M637.8 258.8h.01M638.0 257.6h.01M638.2 257.9h.01M638.4 258.1h.01M638.6 259.9h.01M638.8 258.3h.01M639.0 259.2h.01M639.2 260.2h.01M639.4 259.1h.01M639.6 259.2h.01M639.8 258.2h.01M640.0 259.1h.01M640.2 258.1h.01M640.4 259.4h.01M640.6 259.6h.01M640.8 259.4h.01M641.0 258.1h.01M641.2 258.0h.01M641.4 258.3h.01M641.6 257.8h.01M641.8 257.9h.01M642.0 257.8h.01M642.2 258.8h.01M642.4 259.3h.01M642.6 258.7h.01M642.8 260.3h.01M643.0 259.1h.01M643.2 260.5h.01M643.4 261.0h.01M643.6 260.9h.01M643.8 260.3h.01M644.0 261.5h.01M644.2 261.8h.01M644.4 261.6h.01M644.6 261.5h.01M644.8 262.6h.01M645.0 262.7h.01M645.2 261.9h.01M645.4 262.5h.01M645.6 262.0h.01M645.8 262.8h.01M646.0 262.2h.01M646.2 262.7h.01M646.4 263.0h.01M646.6 263.7h.01M646.8 264.3h.01M647.0 263.4h.01M647.2 264.2h.01M647.4 264.5h.01M647.6 264.9h.01M647.8 265.4h.01M648.0 265.8h.01M648.2 264.9h.01M648.4 265.7h.01M648.6 264.9h.01M648.8 265.4h.01M649.0 266.0h.01M649.2 266.4h.01M649.4 266.6h.01M649.6 267.2h.01M649.8 267.0h.01M650.0 266.5h.01M650.2 266.2h.01M650.4 266.8h.01M650.6 267.8h.01M650.8 266.9h.01M651.0 267.4h.01M651.2 268.2h.01M651.4 267.4h.01M651.6 268.2h.01M651.8 267.4h.01M652.0 267.3h.01M652.2 267.8h.01M652.4 269.2h.01M652.6 269.0h.01M652.8 269.8h.01M653.0 270.2h.01M653.2 269.1h.01M653.4 269.4h.01M653.6 270.6h.01M653.8 270.0h.01M654.0 271.3h.01M654.2 271.4h.01M654.4 271.6h.01M654.6 271.2h.01M654.8 269.7h.01M655.0 271.7h.01M655.2 271.6h.01M655.4 271.4h.01M655.6 271.9h.01M655.8 271.1h.01M656.0 272.5h.01M656.2 273.4h.01M656.4 272.9h.01M656.6 272.4h.01M656.8 273.6h.01M657.0 273.7h.01M657.2 273.8h.01M657.4 273.5h.01M657.6 273.6h.01M657.8 275.4h.01M658.0 275.5h.01M658.2 276.8h.01M658.4 276.7h.01M658.6 276.5h.01M658.8 277.2h.01M659.0 277.2h.01M659.2 276.6h.01M659.4 277.3h.01M659.6 276.8h.01M659.8 277.4h.01M660.0 278.1h.01M660.2 278.4h.01M660.4 278.2h.01M660.6 278.6h.01M660.8 280.0h.01M661.0 279.0h.01M661.2 279.2h.01M661.4 279.6h.01M661.6 280.8h.01M661.8 281.4h.01M662.0 281.8h.01M662.2 281.4h.01M662.4 281.3h.01M662.6 281.7h.01M662.8 283.0h.01M663.0 283.1h.01M663.2 282.6h.01M663.4 282.1h.01M663.6 282.4h.01M663.8 282.6h.01M664.0 283.0h.01M664.2 284.1h.01M664.4 284.2h.01M664.6 283.1h.01M664.8 283.3h.01M665.0 284.3h.01M665.2 284.6h.01M665.4 283.9h.01M665.6 283.0h.01M665.8 284.0h.01M666.0 283.1h.01M666.2 283.9h.01M666.4 284.5h.01M666.6 284.6h.01M666.8 285.5h.01M667.0 285.8h.01M667.2 286.5h.01M667.4 285.5h.01M667.6 286.1h.01M667.8 286.6h.01M668.0 286.3h.01M668.2 286.8h.01M668.4 287.1h.01M668.6 288.1h.01M668.8 287.1h.01M669.0 287.7h.01M669.2 287.4h.01M669.4 287.6h.01M669.6 288.1h.01M669.8 287.7h.01M670.0 288.3h.01M670.2 287.5h.01M670.4 287.1h.01M670.6 288.4h.01M670.8 288.5h.01M671.0 287.9h.01M671.2 289.1h.01M671.4 288.6h.01M671.6 289.9h.01M671.8 289.7h.01M672.0 289.6h.01M672.2 289.9h.01M672.4 289.8h.01M672.6 290.6h.01M672.8 289.1h.01M673.0 290.3h.01M673.2 290.8h.01M673.4 290.8h.01M673.6 290.4h.01M673.8 291.0h.01M674.0 291.7h.01M674.2 292.2h.01M674.4 292.0h.01M674.6 291.9h.01M674.8 293.0h.01M675.0 293.2h.01M675.2 293.5h.01M675.4 294.5h.01M675.6 295.3h.01M675.8 295.3h.01M676.0 295.7h.01M676.2 296.6h.01M676.4 296.6h.01M676.6 297.7h.01M676.8 298.5h.01M677.0 299.8h.01M677.2 299.2h.01M677.4 300.6h.01M677.6 301.8h.01M677.8 301.8h.01M678.0 302.3h.01M678.2 303.2h.01M678.4 305.4h.01M678.6 306.0h.01M678.8 307.3h.01M679.0 306.6h.01M679.2 307.4h.01M679.4 307.2h.01M679.6 306.4h.01M679.8 305.8h.01M680.0 304.8h.01M680.2 304.6h.01M680.4 304.7h.01M680.6 304.7h.01M680.8 305.4h.01M681.0 304.9h.01M681.2 305.6h.01M681.4 305.4h.01M681.6 305.4h.01M681.8 305.1h.01M682.0 305.3h.01M682.2 303.7h.01M682.4 304.7h.01M682.6 303.0h.01M682.8 302.9h.01M683.0 302.5h.01M683.2 302.0h.01M683.4 302.9h.01M683.6 302.8h.01M683.8 303.2h.01M684.0 304.0h.01M684.2 305.0h.01M684.4 304.9h.01M684.6 304.7h.01M684.8 304.6h.01M685.0 304.7h.01M685.2 304.7h.01M685.4 306.0h.01M685.6 306.4h.01M685.8 306.2h.01M686.0 305.6h.01M686.2 305.9h.01M686.4 305.6h.01M686.6 305.4h.01M686.8 305.0h.01M687.0 306.1h.01M687.2 305.3h.01M687.4 306.4h.01M687.6 306.4h.01M687.8 305.9h.01M688.0 306.4h.01M688.2 307.6h.01M688.4 306.9h.01M688.6 306.8h.01M688.8 307.2h.01M689.0 308.1h.01M689.2 308.1h.01M689.4 307.8h.01M689.6 306.9h.01M689.8 308.5h.01M690.0 308.8h.01M690.2 309.5h.01M690.4 308.3h.01M690.6 309.2h.01M690.8 310.1h.01M691.0 309.2h.01M691.2 308.9h.01M691.4 309.3h.01M691.6 309.2h.01M691.8 309.3h.01M692.0 310.1h.01M692.2 310.6h.01M692.4 310.1h.01M692.6 310.9h.01M692.8 311.2h.01M693.0 311.5h.01M693.2 311.3h.01M693.4 312.0h.01M693.6 312.1h.01M693.8 313.0h.01M694.0 312.1h.01M694.2 313.0h.01M694.4 312.0h.01M694.6 312.1h.01M694.8 312.7h.01M695.0 313.2h.01M695.2 313.6h.01M695.4 313.9h.01M695.6 313.7h.01M695.8 312.6h.01M696.0 313.8h.01M696.2 313.7h.01M696.4 313.4h.01M696.6 313.7h.01M696.8 312.7h.01M697.0 313.0h.01M697.2 312.7h.01M697.4 313.4h.01M697.6 313.7h.01M697.8 314.8h.01M698.0 314.3h.01M698.2 314.7h.01M698.4 316.7h.01M698.6 316.1h.01M698.8 318.0h.01M699.0 316.6h.01M699.2 316.8h.01M699.4 318.1h.01M699.6 318.2h.01M699.8 319.1h.01M700.0 319.8h.01M700.2 319.1h.01M700.4 319.2h.01M700.6 320.5h.01M700.8 320.2h.01M701.0 320.0h.01M701.2 321.1h.01M701.4 320.7h.01M701.6 321.4h.01M701.8 320.5h.01M702.0 320.2h.01M702.2 320.7h.01M702.4 320.2h.01M702.6 319.8h.01M702.8 319.1h.01M703.0 319.6h.01M703.2 318.7h.01M703.4 319.2h.01M703.6 318.4h.01M703.8 317.6h.01M704.0 318.9h.01M704.2 319.1h.01M704.4 319.3h.01M704.6 318.6h.01M704.8 319.4h.01M705.0 317.9h.01M705.2 318.9h.01M705.4 318.8h.01M705.6 318.8h.01M705.8 320.3h.01M706.0 320.2h.01M706.2 320.0h.01M706.4 320.7h.01M706.6 320.6h.01M706.8 320.7h.01M707.0 321.8h.01M707.2 321.5h.01M707.4 321.8h.01M707.6 322.3h.01M707.8 322.5h.01M708.0 321.5h.01M708.2 322.5h.01M708.4 323.9h.01M708.6 323.7h.01M708.8 323.7h.01M709.0 323.9h.01M709.2 323.4h.01M709.4 324.8h.01M709.6 324.1h.01M709.8 325.5h.01M710.0 325.0h.01M710.2 325.8h.01M710.4 326.8h.01M710.6 327.0h.01M710.8 327.9h.01M711.0 327.8h.01M711.2 327.9h.01M711.4 328.1h.01M711.6 328.8h.01M711.8 329.6h.01M712.0 329.0h.01M712.2 330.0h.01M712.4 330.3h.01M712.6 330.1h.01M712.8 330.8h.01M713.0 331.4h.01M713.2 330.9h.01M713.4 331.1h.01M713.6 332.6h.01M713.8 331.5h.01M714.0 331.5h.01M714.2 332.7h.01M714.4 332.7h.01M714.6 333.6h.01M714.8 333.5h.01M715.0 333.7h.01M715.2 334.7h.01M715.4 335.0h.01M715.6 335.0h.01M715.8 334.4h.01M716.0 334.6h.01M716.2 334.5h.01M716.4 335.9h.01M716.6 335.2h.01M716.8 336.1h.01M717.0 335.8h.01M717.2 336.7h.01M717.4 336.4h.01M717.6 336.7h.01M717.8 336.7h.01M718.0 337.7h.01M718.2 336.9h.01M718.4 337.0h.01M718.6 337.6h.01M718.8 337.4h.01M719.0 337.5h.01M719.2 337.8h.01M719.4 338.3h.01M719.6 337.8h.01M719.8 339.1h.01M720.0 338.7h.01M720.2 338.7h.01M720.4 339.8h.01M720.6 339.1h.01M720.8 340.3h.01M721.0 340.4h.01M721.2 341.3h.01M721.4 341.6h.01M721.6 341.4h.01M721.8 342.0h.01M722.0 342.7h.01M722.2 342.8h.01M722.4 343.8h.01M722.6 343.9h.01M722.8 344.4h.01M723.0 344.8h.01M723.2 345.1h.01M723.4 344.5h.01M723.6 345.6h.01M723.8 346.1h.01M724.0 346.7h.01M724.2 347.2h.01M724.4 347.1h.01M724.6 347.6h.01M724.8 348.3h.01M725.0 348.9h.01M725.2 348.7h.01M725.4 348.7h.01M725.6 349.0h.01M725.8 349.8h.01M726.0 350.9h.01M726.2 350.1h.01M726.4 350.7h.01M726.6 351.1h.01M726.8 351.6h.01M727.0 352.3h.01M727.2 351.8h.01M727.4 352.6h.01M727.6 353.1h.01M727.8 352.7h.01M728.0 352.2h.01M728.2 354.0h.01M728.4 353.3h.01M728.6 354.0h.01M728.8 355.3h.01M729.0 355.7h.01M729.2 355.6h.01M729.4 356.1h.01M729.6 356.8h.01M729.8 356.8h.01M730.0 356.3h.01M730.2 356.7h.01M730.4 357.2h.01M730.6 355.9h.01M730.8 357.2h.01M731.0 357.0h.01M731.2 357.1h.01M731.4 356.5h.01M731.6 357.6h.01M731.8 356.5h.01M732.0 357.7h.01M732.2 357.6h.01M732.4 356.6h.01M732.6 357.0h.01M732.8 357.1h.01M733.0 357.9h.01M733.2 357.7h.01M733.4 358.3h.01M733.6 358.3h.01M733.8 358.1h.01M734.0 358.9h.01M734.2 358.4h.01M734.4 358.6h.01M734.6 359.5h.01M734.8 359.3h.01M735.0 359.9h.01M735.2 360.4h.01M735.4 359.6h.01M735.6 361.2h.01M735.8 360.3h.01M736.0 361.2h.01M736.2 360.7h.01M736.4 361.4h.01M736.6 361.8h.01M736.8 361.8h.01M737.0 361.9h.01M737.2 362.1h.01M737.4 363.4h.01M737.6 363.6h.01M737.8 363.8h.01M738.0 364.1h.01M738.2 364.4h.01M738.4 364.9h.01M738.6 365.4h.01M738.8 364.3h.01M739.0 364.7h.01M739.2 365.3h.01M739.4 365.7h.01M739.6 365.6h.01M739.8 366.1h.01M740.0 366.6h.01M740.2 367.1h.01M740.4 367.0h.01M740.6 367.9h.01M740.8 368.2h.01M196.1 387.9h.01M203.0 365.3h.01M202.7 372.3h.01M203.4 387.6h.01M198.7 359.6h.01M199.3 390.0h.01M199.7 363.3h.01M196.2 364.3h.01M203.4 365.9h.01M202.4 387.4h.01M203.5 380.0h.01M200.0 360.5h.01M203.5 383.2h.01M201.9 349.5h.01M201.2 378.0h.01M197.1 361.7h.01M199.6 358.4h.01M196.9 353.8h.01M199.7 347.6h.01M202.3 365.8h.01M198.2 358.3h.01M198.5 373.9h.01M201.7 366.4h.01M201.7 372.8h.01M202.5 379.8h.01M202.1 348.1h.01M198.8 352.2h.01M202.6 354.4h.01M203.4 362.4h.01M197.2 378.4h.01M197.5 363.4h.01M199.5 375.5h.01M199.9 378.5h.01M201.2 362.4h.01M202.2 370.6h.01M198.0 372.6h.01M200.9 370.3h.01M201.5 368.6h.01M202.0 389.7h.01M202.0 360.1h.01M199.8 376.1h.01M199.6 364.3h.01M200.7 362.1h.01M198.4 372.2h.01M203.0 371.0h.01M202.8 380.9h.01M201.1 389.1h.01M200.7 383.1h.01M200.1 385.1h.01M202.3 358.0h.01M202.6 359.1h.01M201.0 360.5h.01M201.7 372.7h.01M198.3 386.7h.01M201.3 330.7h.01M201.3 338.4h.01M201.6 341.3h.01M201.2 326.6h.01M201.6 332.6h.01M201.2 334.6h.01M202.0 338.6h.01M201.5 312.2h.01M189.4 391.9h.01M190.8 387.3h.01M190.9 385.6h.01M189.5 391.0h.01M189.2 391.0h.01M206.4 388.4h.01M207.8 386.1h.01M206.4 383.8h.01M207.5 386.7h.01M206.2 385.9h.01M206.6 384.1h.01M207.4 384.4h.01M206.2 386.2h.01M212.6 388.4h.01M212.7 389.2h.01M213.0 388.8h.01M248.2 384.5h.01M247.8 388.6h.01M248.7 386.1h.01M247.1 388.6h.01M247.4 384.0h.01M249.8 389.9h.01M249.7 386.5h.01M255.1 388.6h.01M255.0 379.8h.01M255.5 388.8h.01M255.2 390.9h.01M255.6 383.7h.01M255.2 376.7h.01M255.5 374.1h.01M264.9 389.6h.01M264.3 384.0h.01M264.7 384.9h.01M264.3 383.7h.01M314.5 384.5h.01M310.5 380.5h.01M312.1 385.9h.01M327.8 380.0h.01M317.9 385.1h.01M323.7 379.8h.01M312.6 385.4h.01M313.6 382.4h.01M320.7 383.6h.01M328.4 379.6h.01M311.4 380.7h.01M326.7 389.3h.01M307.9 376.3h.01M311.9 387.8h.01M322.1 376.1h.01M324.3 389.4h.01M324.9 379.6h.01M324.9 377.9h.01M327.5 375.7h.01M315.4 378.8h.01M325.0 387.5h.01M318.5 383.2h.01M313.1 384.2h.01M307.7 386.7h.01M328.0 381.7h.01M317.0 384.1h.01M315.1 390.6h.01M311.4 382.3h.01M322.1 387.2h.01M313.5 375.3h.01M322.0 375.4h.01M325.1 373.4h.01M326.3 388.5h.01M317.9 389.9h.01M324.1 385.8h.01M312.4 374.7h.01M309.2 374.8h.01M321.7 386.3h.01M327.8 380.3h.01M314.7 389.4h.01M324.3 391.6h.01M306.8 391.1h.01M314.1 387.5h.01M315.8 391.8h.01M319.8 388.2h.01M312.9 380.7h.01M317.5 382.7h.01M317.9 387.8h.01M320.0 380.7h.01M314.7 384.1h.01M312.8 383.1h.01M319.7 385.5h.01M315.7 381.4h.01M315.8 387.6h.01M309.7 384.1h.01M311.7 386.6h.01M309.1 391.8h.01M313.4 391.1h.01M308.5 389.0h.01M320.6 385.3h.01M313.2 387.5h.01M312.3 383.0h.01M320.8 387.7h.01M315.0 385.5h.01M311.8 345.9h.01M313.3 386.7h.01M311.7 386.4h.01M313.1 369.8h.01M311.6 339.1h.01M311.5 369.1h.01M312.0 335.3h.01M311.0 378.1h.01M311.1 331.5h.01M312.3 323.0h.01M311.8 333.8h.01M313.3 359.5h.01M312.1 353.2h.01M310.6 380.6h.01M313.6 319.6h.01M312.4 376.4h.01M313.3 388.9h.01M313.5 383.6h.01M311.0 391.6h.01M316.3 387.6h.01M317.7 315.7h.01M317.3 351.3h.01M316.3 344.5h.01M317.6 341.2h.01M316.8 342.4h.01M315.5 367.5h.01M315.7 381.6h.01M315.4 349.1h.01M316.0 360.2h.01M316.9 366.3h.01M317.4 390.7h.01M315.7 319.9h.01M316.6 384.5h.01M316.4 318.2h.01M316.7 326.8h.01M315.6 372.3h.01M316.5 375.9h.01M320.2 367.0h.01M320.7 386.9h.01M319.3 340.7h.01M319.6 334.5h.01M320.6 376.1h.01M320.2 364.9h.01M319.3 336.4h.01M320.4 322.1h.01M321.0 326.1h.01M319.1 373.6h.01M320.8 327.0h.01M320.9 354.3h.01M318.9 357.1h.01M319.2 364.9h.01M320.1 379.3h.01M320.8 381.4h.01M326.4 388.8h.01M326.3 388.1h.01M326.2 383.9h.01M326.0 379.3h.01M326.7 386.2h.01M325.9 383.8h.01M336.6 344.0h.01M337.8 386.1h.01M336.2 381.1h.01M339.0 318.0h.01M336.6 359.5h.01M336.1 315.3h.01M336.3 321.3h.01M340.2 374.5h.01M338.3 353.0h.01M338.7 368.1h.01M339.5 387.1h.01M340.0 320.7h.01M340.0 310.9h.01M336.5 353.7h.01M336.2 377.7h.01M340.1 369.8h.01M337.1 340.6h.01M336.2 331.8h.01M339.5 305.0h.01M336.7 322.0h.01M337.5 319.7h.01M337.4 291.6h.01M338.7 336.6h.01M338.6 318.8h.01M339.8 366.8h.01M338.3 325.0h.01M341.9 310.4h.01M342.7 384.0h.01M341.5 293.8h.01M344.3 287.2h.01M342.8 389.3h.01M343.1 286.9h.01M341.9 364.8h.01M343.6 295.0h.01M342.6 336.5h.01M341.3 299.7h.01M342.0 327.9h.01M344.8 320.4h.01M344.5 288.2h.01M342.7 301.8h.01M340.9 316.5h.01M343.7 349.7h.01M341.9 362.4h.01M343.7 376.8h.01M343.6 295.4h.01M344.0 386.3h.01M344.5 355.0h.01M341.2 377.0h.01M342.8 362.5h.01M344.7 308.4h.01M340.7 384.4h.01M344.5 295.0h.01M352.0 317.0h.01M351.4 362.7h.01M354.6 308.5h.01M354.4 273.4h.01M354.4 354.4h.01M354.1 259.2h.01M352.4 337.1h.01M354.5 315.4h.01M353.9 311.2h.01M353.5 290.5h.01M352.0 362.4h.01M353.4 295.1h.01M352.4 297.7h.01M353.3 275.2h.01M353.0 298.9h.01M352.7 300.9h.01M351.4 364.1h.01M352.4 347.4h.01M351.5 389.1h.01M350.9 390.0h.01M355.5 278.2h.01M357.4 342.5h.01M355.4 285.9h.01M356.9 290.9h.01M356.1 268.7h.01M356.2 257.2h.01M356.1 258.0h.01M358.1 313.5h.01M356.8 282.2h.01M357.4 283.3h.01M358.0 334.2h.01M356.0 302.7h.01M356.4 348.3h.01M356.0 255.9h.01M355.9 344.3h.01M362.1 300.8h.01M360.7 245.5h.01M361.7 342.3h.01M359.4 271.9h.01M358.5 329.4h.01M359.4 259.3h.01M362.0 307.7h.01M360.3 263.9h.01M362.3 268.6h.01M361.5 304.6h.01M360.1 342.2h.01M360.2 266.0h.01M359.4 245.6h.01M360.3 337.6h.01M361.4 271.8h.01M359.7 324.5h.01M361.8 266.8h.01M359.5 268.7h.01M374.1 238.3h.01M365.1 245.7h.01M375.2 264.7h.01M365.5 246.3h.01M367.4 250.5h.01M374.1 280.3h.01M366.6 340.7h.01M374.4 281.7h.01M372.8 264.0h.01M368.1 319.5h.01M366.0 241.6h.01M367.3 266.9h.01M366.0 257.6h.01M371.1 241.5h.01M362.6 234.8h.01M364.5 229.8h.01M367.0 247.3h.01M367.7 249.6h.01M374.7 341.0h.01M365.2 244.8h.01M366.6 276.8h.01M373.2 261.8h.01M369.1 286.8h.01M372.2 249.7h.01M368.5 285.0h.01M371.6 237.1h.01M365.7 232.0h.01M374.1 252.9h.01M365.7 257.8h.01M365.3 280.9h.01M368.8 246.7h.01M368.2 289.0h.01M365.8 243.4h.01M375.7 274.6h.01M367.4 254.6h.01M365.9 235.9h.01M369.4 251.2h.01M372.1 235.6h.01M364.2 242.2h.01M373.7 238.7h.01M372.2 273.3h.01M363.5 253.7h.01M361.9 243.5h.01M371.9 270.9h.01M366.8 259.3h.01M368.1 260.5h.01M369.0 232.6h.01M362.2 267.7h.01M370.5 300.2h.01M372.6 240.1h.01M377.5 247.4h.01M385.8 290.9h.01M383.7 265.5h.01M379.0 277.5h.01M382.5 288.3h.01M379.9 269.6h.01M380.4 262.2h.01M379.6 252.2h.01M376.8 255.6h.01M386.4 254.1h.01M382.1 253.8h.01M376.5 265.5h.01M377.2 240.0h.01M382.9 269.7h.01M385.5 250.0h.01M377.6 246.7h.01M382.6 262.2h.01M379.4 260.3h.01M379.7 260.3h.01M385.3 323.5h.01M384.4 252.7h.01M386.9 277.4h.01M376.0 240.2h.01M386.7 265.3h.01M383.1 345.5h.01M380.2 261.4h.01M381.5 251.9h.01M376.6 291.2h.01M385.4 306.4h.01M380.8 274.1h.01M381.5 284.8h.01M386.1 301.1h.01M385.2 248.9h.01M379.1 335.1h.01M382.1 264.1h.01M380.7 261.6h.01M382.5 282.8h.01M383.7 316.1h.01M389.7 303.1h.01M389.2 231.7h.01M388.8 232.2h.01M388.4 234.7h.01M387.5 270.2h.01M391.1 230.4h.01M388.5 262.3h.01M390.6 286.1h.01M391.1 326.9h.01M387.9 249.2h.01M387.5 252.5h.01M391.2 231.5h.01M391.2 238.3h.01M387.4 247.6h.01M389.3 233.8h.01M390.1 234.7h.01M387.8 250.4h.01M388.8 248.8h.01M389.4 234.8h.01M389.6 235.5h.01M369.9 225.3h.01M368.9 231.4h.01M370.5 216.5h.01M369.1 227.7h.01M369.0 224.5h.01M369.4 231.3h.01M369.0 221.3h.01M369.0 213.7h.01M370.1 227.5h.01M369.1 231.9h.01M377.8 265.1h.01M379.0 262.9h.01M383.2 251.3h.01M385.7 285.3h.01M387.5 277.4h.01M377.6 264.9h.01M377.6 294.2h.01M383.3 282.0h.01M385.2 282.7h.01M387.6 257.8h.01M380.4 272.3h.01M383.3 272.6h.01M379.0 265.7h.01M384.1 254.0h.01M385.9 254.1h.01M381.1 289.8h.01M365.9 241.2h.01M373.3 259.2h.01M367.3 281.8h.01M371.2 248.2h.01M370.9 268.8h.01M364.6 264.3h.01M371.2 247.1h.01M374.8 257.4h.01M370.7 253.9h.01M369.2 288.9h.01M368.6 261.6h.01M367.1 258.3h.01M363.6 297.2h.01M368.1 238.4h.01M367.0 292.4h.01M366.3 295.7h.01M363.5 293.8h.01M367.1 277.0h.01M364.8 280.1h.01M368.2 240.8h.01M361.8 273.9h.01M362.1 292.7h.01M367.6 299.7h.01M362.5 258.9h.01M362.0 278.6h.01M362.4 235.9h.01M363.0 239.6h.01M367.7 294.3h.01M369.3 216.8h.01M369.5 213.7h.01M369.3 220.5h.01M369.5 216.5h.01M370.1 224.8h.01M370.4 221.3h.01M389.5 240.0h.01M390.9 230.1h.01M390.6 234.2h.01M390.3 240.8h.01M388.4 244.5h.01M389.0 231.4h.01M388.7 252.4h.01M388.6 231.5h.01M389.9 235.8h.01M389.6 229.2h.01M389.3 237.4h.01M389.5 237.4h.01M373.6 367.4h.01M373.2 342.8h.01M373.1 380.4h.01M373.6 381.6h.01M373.7 340.2h.01M372.9 377.6h.01M373.6 360.5h.01M358.3 265.3h.01M357.7 264.7h.01M358.4 274.9h.01M356.4 259.2h.01M359.3 271.9h.01M358.5 271.2h.01M357.7 296.3h.01M357.3 274.4h.01M694.8 322.6h.01M701.2 327.5h.01M696.7 321.0h.01M681.6 317.2h.01M678.4 308.7h.01M697.5 324.7h.01M691.2 311.9h.01M694.2 313.7h.01M697.0 321.2h.01M687.5 315.3h.01M689.4 312.2h.01M694.2 321.5h.01M681.5 309.9h.01M696.8 324.9h.01M693.8 316.4h.01M702.9 323.2h.01M702.3 321.5h.01M696.8 323.9h.01M689.8 310.4h.01M681.9 311.1h.01M698.1 339.4h.01M683.3 307.6h.01M702.6 325.4h.01M680.7 312.8h.01M679.7 310.5h.01M693.8 312.8h.01M683.9 312.8h.01M679.2 311.9h.01M699.5 320.6h.01M687.4 310.7h.01M694.9 318.3h.01M698.2 320.7h.01M701.5 329.3h.01M698.5 319.8h.01M679.9 310.0h.01M686.7 318.0h.01M699.2 325.1h.01M686.3 315.6h.01M691.9 313.3h.01M680.1 309.2h.01M686.7 314.4h.01M702.0 324.7h.01M701.5 327.9h.01M680.9 313.2h.01M679.6 317.8h.01M690.4 316.2h.01M693.3 327.4h.01M685.6 307.2h.01M684.4 312.0h.01M687.5 314.9h.01M684.8 312.7h.01M692.5 331.5h.01M690.2 327.9h.01M695.5 318.4h.01M693.0 323.5h.01M684.3 325.2h.01M696.8 327.9h.01M684.2 307.1h.01M685.6 313.7h.01M686.8 316.4h.01M696.1 321.5h.01M688.0 316.5h.01M691.6 326.3h.01M696.0 314.7h.01M692.7 324.1h.01M683.1 311.8h.01M690.8 310.5h.01M694.9 318.2h.01M697.8 317.0h.01M696.0 322.5h.01M476.3 240.1h.01M468.1 227.7h.01M476.8 237.8h.01M473.3 240.5h.01M470.1 231.5h.01M472.6 236.1h.01M466.9 225.7h.01M469.8 231.7h.01M470.6 242.2h.01M466.9 224.3h.01M470.2 236.0h.01M476.5 231.2h.01M472.5 237.7h.01M470.5 237.1h.01M471.3 232.6h.01M477.5 229.2h.01M474.1 243.4h.01M470.9 237.8h.01M471.0 232.5h.01M474.2 240.0h.01M475.4 234.2h.01M467.5 226.5h.01M475.0 237.3h.01M477.2 230.6h.01M472.6 237.4h.01M476.0 231.4h.01M477.8 227.6h.01M471.7 235.6h.01M469.8 231.6h.01M466.4 222.7h.01M467.1 226.7h.01M475.5 235.4h.01M473.0 238.3h.01M477.8 231.8h.01M477.5 231.8h.01M467.0 228.7h.01M476.4 233.2h.01M477.0 234.6h.01M471.4 232.9h.01M474.0 238.0h.01M486.1 238.4h.01M488.9 230.4h.01M480.3 234.4h.01M486.6 237.0h.01M483.5 243.2h.01M480.3 231.2h.01M485.3 246.9h.01M488.6 233.4h.01M485.1 246.5h.01M480.2 231.9h.01M482.8 243.5h.01M488.1 232.1h.01M486.4 245.2h.01M485.5 254.2h.01M480.7 235.3h.01M483.6 237.8h.01M485.5 242.9h.01M488.5 238.9h.01M485.1 244.9h.01M487.9 236.7h.01M483.0 238.0h.01M485.5 237.3h.01M482.0 237.2h.01M484.8 241.5h.01M481.7 245.9h.01M484.6 246.4h.01M481.5 235.9h.01M488.3 231.3h.01M487.6 234.1h.01M485.8 238.8h.01M659.0 282.6h.01M634.9 262.3h.01M657.9 280.6h.01M637.0 262.2h.01M633.5 258.8h.01M641.7 262.2h.01M641.6 261.8h.01M636.7 264.7h.01M648.7 269.9h.01M645.1 264.7h.01M640.2 261.0h.01M660.0 287.5h.01M645.7 268.1h.01M656.2 277.4h.01M646.3 266.9h.01M657.2 279.4h.01M656.3 282.4h.01M638.9 264.3h.01M632.8 257.1h.01M641.4 264.8h.01M638.9 261.8h.01M636.1 267.4h.01M641.2 261.8h.01M653.4 274.3h.01M632.5 257.7h.01M634.0 263.2h.01M644.1 272.8h.01M651.7 272.4h.01M653.9 274.7h.01M632.9 257.8h.01M645.6 266.6h.01M646.4 266.0h.01M657.1 279.7h.01M635.7 264.0h.01M649.2 277.5h.01M633.5 262.3h.01M638.7 264.9h.01M657.7 277.9h.01M652.2 272.8h.01M650.9 271.3h.01M612.9 250.7h.01M618.6 261.3h.01M621.5 254.9h.01M608.2 252.3h.01M619.8 259.9h.01M608.0 255.3h.01M605.6 251.9h.01M605.8 254.1h.01M607.9 251.1h.01M610.8 265.9h.01M607.5 252.3h.01M616.3 248.5h.01M604.2 249.9h.01M620.0 260.5h.01M618.6 259.4h.01M619.3 266.8h.01M621.8 260.3h.01M605.0 250.0h.01M611.8 261.7h.01M606.6 256.6h.01M622.8 255.5h.01M613.0 250.5h.01M623.9 258.9h.01M609.9 260.9h.01M622.8 254.8h.01M485.9 239.9h.01M485.0 242.9h.01M486.1 248.1h.01M486.0 251.0h.01M484.8 255.6h.01M484.7 260.7h.01M484.9 264.5h.01M484.9 269.0h.01M485.7 271.6h.01M491.2 246.4h.01M491.5 251.5h.01M490.5 258.6h.01M515.7 231.6h.01M516.2 234.4h.01M632.1 255.6h.01M631.6 258.8h.01M632.5 262.5h.01M632.5 264.8h.01M637.7 262.0h.01M637.0 268.7h.01M638.2 271.8h.01M637.2 275.5h.01M636.7 279.5h.01M638.3 284.0h.01M638.3 289.8h.01M638.0 292.3h.01M637.5 296.1h.01M645.2 265.4h.01M645.2 269.4h.01M645.7 275.3h.01M646.2 278.5h.01M646.3 284.6h.01M644.9 287.0h.01M646.5 291.3h.01M645.1 298.2h.01M646.2 300.5h.01M645.4 307.2h.01M645.1 311.1h.01M645.1 314.6h.01M646.5 319.8h.01M645.5 325.1h.01M646.4 329.6h.01M645.7 331.8h.01M656.9 278.1h.01M656.7 280.7h.01M657.0 285.1h.01M656.8 291.8h.01M657.6 295.7h.01M656.8 298.6h.01M657.0 302.9h.01M657.5 309.2h.01M656.3 312.3h.01M657.1 317.0h.01M657.4 320.5h.01M657.5 326.6h.01M656.5 329.5h.01M656.3 334.1h.01M656.9 338.5h.01M656.1 343.6h.01M679.1 301.2h.01M678.9 303.7h.01M679.4 306.6h.01M679.0 310.8h.01M679.6 313.1h.01M689.4 309.0h.01M689.4 314.7h.01M689.5 317.8h.01M690.8 322.1h.01M689.3 325.9h.01M690.1 330.3h.01M695.3 310.5h.01M695.5 315.5h.01M694.2 318.8h.01M694.8 322.2h.01M695.4 326.0h.01M695.0 330.8h.01M695.3 333.8h.01M694.1 338.8h.01M694.3 342.0h.01M694.4 347.2h.01M694.8 349.6h.01M695.0 353.6h.01M693.8 357.8h.01M694.5 362.2h.01M699.9 319.1h.01M700.3 324.2h.01M698.8 327.6h.01M700.0 333.0h.01" stroke="#ff0000" stroke-width="3.4" stroke-linecap="round" fill="none"/>
<rect x="76.3" y="19.3" width="719.5" height="374.7" fill="none" stroke="#151515" stroke-width="1.5"/>
<path d="M101.81 394.00v-6.0M127.53 394.00v-11.5M153.24 394.00v-6.0M178.96 394.00v-6.0M204.67 394.00v-6.0M230.39 394.00v-11.5M256.10 394.00v-6.0M281.81 394.00v-6.0M307.53 394.00v-6.0M333.24 394.00v-11.5M358.96 394.00v-6.0M384.67 394.00v-6.0M410.39 394.00v-6.0M436.10 394.00v-11.5M461.81 394.00v-6.0M487.53 394.00v-6.0M513.24 394.00v-6.0M538.96 394.00v-11.5M564.67 394.00v-6.0M590.39 394.00v-6.0M616.10 394.00v-6.0M641.81 394.00v-11.5M667.53 394.00v-6.0M693.24 394.00v-6.0M718.96 394.00v-6.0M744.67 394.00v-11.5M770.39 394.00v-6.0M76.30 380.23h11.2M76.30 366.85h11.2M76.30 353.48h11.2M76.30 340.10h21.7M76.30 326.73h11.2M76.30 313.35h11.2M76.30 299.98h11.2M76.30 286.60h21.7M76.30 273.23h11.2M76.30 259.85h11.2M76.30 246.47h11.2M76.30 233.10h21.7M76.30 219.72h11.2M76.30 206.35h11.2M76.30 192.97h11.2M76.30 179.60h21.7M76.30 166.22h11.2M76.30 152.85h11.2M76.30 139.47h11.2M76.30 126.10h21.7M76.30 112.72h11.2M76.30 99.35h11.2M76.30 85.97h11.2M76.30 72.60h21.7M76.30 59.23h11.2M76.30 45.85h11.2M76.30 32.47h11.2" stroke="#151515" stroke-width="1.5" fill="none"/>
<g font-family="'Liberation Sans',Arial,sans-serif" font-weight="bold" font-size="16.4" fill="#000">
<text x="71.5" y="401.8" text-anchor="end">0</text>
<text x="71.5" y="348.3" text-anchor="end">0.2</text>
<text x="71.5" y="294.8" text-anchor="end">0.4</text>
<text x="71.5" y="241.3" text-anchor="end">0.6</text>
<text x="71.5" y="187.8" text-anchor="end">0.8</text>
<text x="71.5" y="134.3" text-anchor="end">1</text>
<text x="71.5" y="80.8" text-anchor="end">1.2</text>
<text x="71.5" y="27.3" text-anchor="end">1.4</text>
<text x="127.4" y="410.1" text-anchor="middle">06:00</text>
<text x="230.3" y="410.1" text-anchor="middle">08:00</text>
<text x="333.1" y="410.1" text-anchor="middle">10:00</text>
<text x="436.0" y="410.1" text-anchor="middle">12:00</text>
<text x="538.9" y="410.1" text-anchor="middle">14:00</text>
<text x="641.7" y="410.1" text-anchor="middle">16:00</text>
<text x="744.6" y="410.1" text-anchor="middle">18:00</text>
<text x="440" y="427.7" text-anchor="middle">Time (JST)</text>
<text x="797.3" y="428.8" text-anchor="end">2007-07-06</text>
<text transform="translate(14.9,130) rotate(-90)" x="0" y="0" textLength="113" lengthAdjust="spacingAndGlyphs">Intensity (a.u.)</text>
<text x="198.0" y="15" fill="#0000ff">368nm</text>
<rect x="176.8" y="10.3" width="14.7" height="2.2" fill="#0000ff"/>
<text x="342.1" y="15" fill="#00ff00">500nm</text>
<rect x="320.9" y="10.3" width="14.7" height="2.2" fill="#00ff00"/>
<text x="486.1" y="15" fill="#ff00ff">675nm</text>
<rect x="464.9" y="10.3" width="14.7" height="2.2" fill="#ff00ff"/>
<text x="630.0" y="15" fill="#ff0000">778nm</text>
<rect x="608.8" y="10.3" width="14.7" height="2.2" fill="#ff0000"/>
</g>
</svg>
</body></html>
